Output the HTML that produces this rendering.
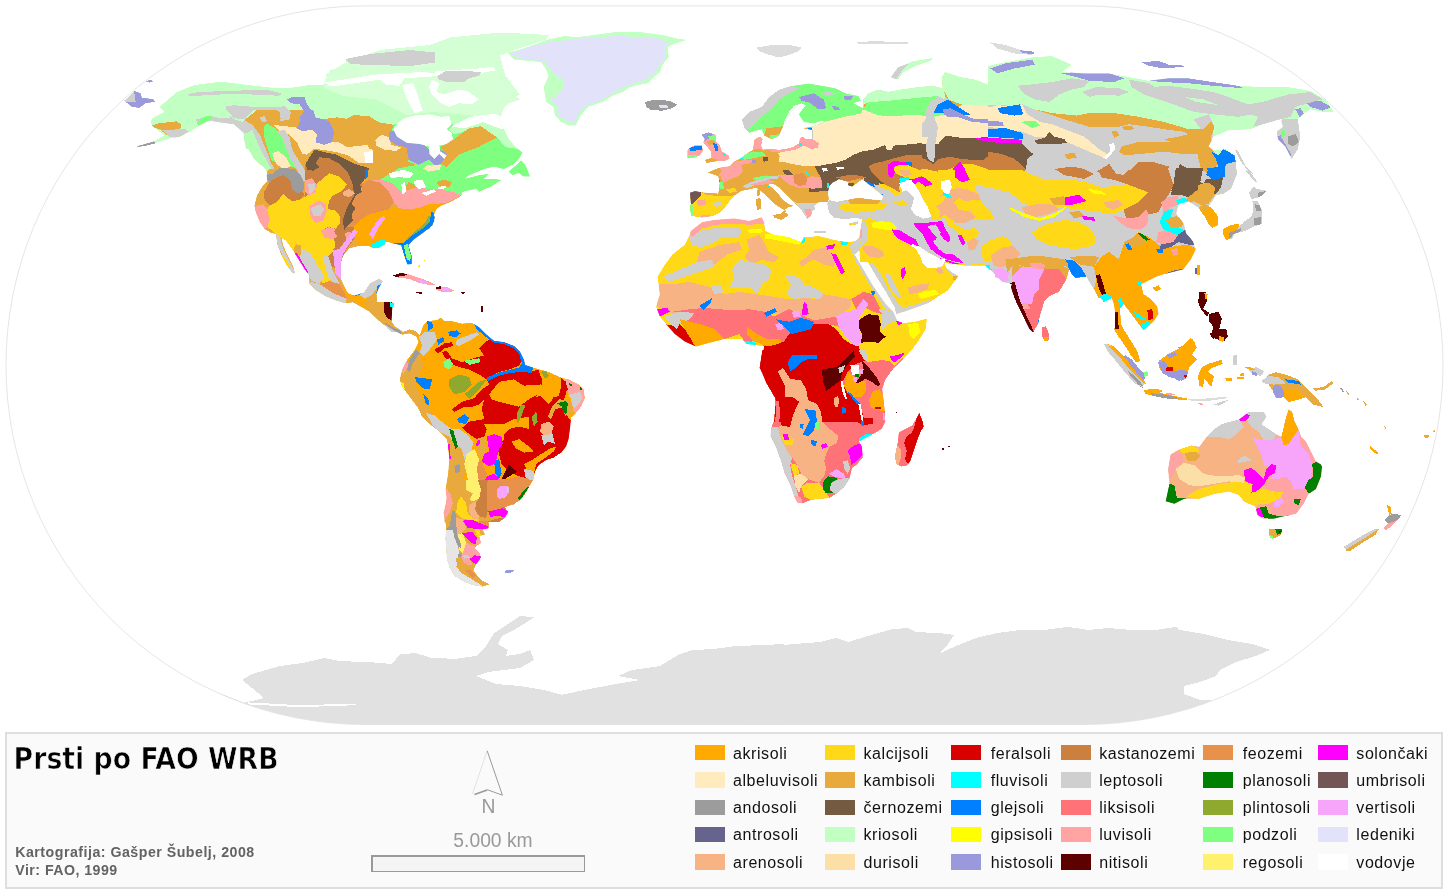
<!DOCTYPE html>
<html lang="sl"><head><meta charset="utf-8"><title>Prsti po FAO WRB</title>
<style>
html,body{margin:0;padding:0;background:#fff;}
body{width:1450px;height:895px;overflow:hidden;position:relative;font-family:"Liberation Sans",sans-serif;}
svg{position:absolute;left:0;top:0;display:block}
.lg{font-size:16px;fill:#111;letter-spacing:.58px}
.t{font-family:"DejaVu Sans Condensed","DejaVu Sans","Liberation Sans",sans-serif;font-weight:bold;font-size:31px;fill:#000;stroke:#fafafa;stroke-width:.7px}
.k{font-weight:bold;font-size:14.2px;fill:#636363}
.g{font-size:19.3px;fill:#999}
</style></head><body>
<svg width="1450" height="895" viewBox="0 0 1450 895" shape-rendering="crispEdges">

<path d="M365.3 5.9 H1083.7 A359.3 359.3 0 0 1 1083.7 724.5 H365.3 A359.3 359.3 0 0 1 365.3 5.9 Z" fill="#fff" stroke="#e2e2e2" stroke-width="0.9" shape-rendering="geometricPrecision"/>
<clipPath id="gc"><path d="M365.3 5.9 H1083.7 A359.3 359.3 0 0 1 1083.7 724.5 H365.3 A359.3 359.3 0 0 1 365.3 5.9 Z"/></clipPath>
<g clip-path="url(#gc)">
<clipPath id="c0"><polygon points="160.6,105.7 176.7,92.0 194.1,85.0 221.4,81.6 248.7,85.0 271.0,87.5 292.1,87.5 308.3,85.0 323.2,85.0 326.9,75.9 340.6,69.7 357.9,69.7 372.8,73.4 390.2,73.4 407.6,70.9 420.0,69.7 420.0,111.9 393.9,113.1 393.9,149.1 246.2,149.1 245.0,144.1 243.7,133.0 233.8,124.3 218.9,122.3 209.0,120.6 199.0,125.5 194.1,129.2 189.1,132.2 179.2,137.2 169.2,138.7 159.3,141.7 154.3,143.4 153.8,141.2 164.3,135.4 158.1,130.5 152.4,126.3 150.6,122.3 152.4,118.1 164.3,111.9 159.3,106.9"/><polygon points="124.1,100.9 134.5,90.8 140.7,93.2 141.9,97.5 153.1,99.0 155.6,101.9 145.7,103.2 139.4,108.1 132.0,106.9"/><polygon points="145.7,81.3 150.6,79.6 153.8,81.3 149.4,82.8"/><polygon points="137.0,146.1 144.4,144.1 154.3,141.2 155.6,143.4 145.7,145.9 137.5,147.1"/><polygon points="330.0,114.3 397.0,124.3 393.3,129.2 397.0,136.7 407.0,142.9 419.4,144.1 429.3,146.6 429.3,154.1 434.3,159.0 439.2,154.1 444.2,159.0 446.7,155.3 440.5,151.6 439.2,145.4 446.7,144.1 452.9,139.2 451.7,133.0 446.7,129.2 451.7,124.3 449.2,115.6 459.1,119.3 469.0,114.3 479.0,111.9 488.9,116.8 498.8,119.3 503.8,129.2 508.8,139.2 515.0,146.6 522.4,152.8 518.7,159.0 513.7,164.0 503.8,169.0 493.9,166.5 483.9,169.0 469.0,175.2 464.1,178.9 479.0,175.2 488.9,173.9 483.9,178.9 493.9,178.9 501.3,180.1 491.4,186.3 479.0,191.8 476.5,188.8 464.1,191.3 459.1,193.8 454.1,198.8 444.2,203.7 436.8,208.7 433.0,216.1 434.3,221.1 429.3,228.6 419.4,233.5 409.4,242.0 330.0,242.0"/><polygon points="508.8,171.4 516.2,165.2 521.2,160.3 526.1,166.5 529.9,176.4 523.7,176.4 518.7,172.7 512.5,175.2"/><polygon points="330.0,69.7 344.9,68.4 359.8,69.7 379.7,72.1 392.1,70.9 404.5,73.4 416.9,70.9 434.3,73.4 439.2,65.9 454.1,62.2 479.0,61.0 491.4,64.7 501.3,77.1 503.8,87.0 513.7,94.5 519.9,99.4 508.8,103.2 503.8,108.1 501.3,114.3 498.8,119.3 488.9,116.8 479.0,111.9 469.0,114.3 459.1,119.3 449.2,115.6 441.7,116.8 429.3,114.3 414.4,115.6 404.5,118.1 397.0,124.3 330.0,124.3"/><polygon points="446.7,54.8 444.2,47.3 449.2,42.3 464.1,39.9 479.0,36.9 503.8,34.9 528.6,34.4 548.5,35.4 546.0,39.9 528.6,44.8 508.8,51.0 503.8,54.8 488.9,53.5 479.0,57.2 469.0,54.8 459.1,57.2"/><polygon points="344.9,61.0 354.8,57.2 374.7,54.8 392.1,52.3 411.9,49.8 429.3,51.0 439.2,54.8 434.3,65.9 416.9,67.2 404.5,63.4 392.1,65.9 374.7,67.2 362.3,64.7 352.3,63.4"/><polygon points="230.0,110.0 230.0,119.9 237.4,124.9 244.9,132.3 247.4,147.2 254.8,159.7 264.8,168.3 267.2,172.1 266.7,175.0 267.2,180.8 261.8,187.0 256.8,195.7 254.3,205.6 256.1,213.0 259.8,221.7 264.8,229.2 271.0,232.9 275.9,234.1 277.2,244.1 280.9,254.0 285.9,263.9 292.1,272.6 295.0,273.4 293.3,266.4 289.6,259.0 285.9,251.5 282.9,244.1 281.6,237.9 285.9,240.3 292.1,249.0 298.3,259.0 304.5,268.9 309.0,275.1 309.4,283.8 315.7,290.0 325.6,296.2 336.8,300.7 345.4,303.2 352.9,302.4 360.3,306.6 369.0,311.6 379.0,321.0 385.2,326.0 391.4,332.0 403.8,332.0 395.1,326.5 391.4,321.0 392.6,308.6 394.4,303.7 391.4,301.7 383.9,301.7 377.0,301.7 376.5,293.7 379.0,287.5 382.7,281.3 379.0,278.8 370.3,283.3 364.1,292.5 354.1,295.7 347.9,293.2 344.2,286.3 341.0,278.8 340.5,263.9 343.7,255.2 349.2,248.5 359.1,246.1 369.0,246.1 372.8,248.0 379.0,247.8 385.2,244.1 385.2,241.1 393.9,243.6 401.3,245.3 403.8,255.2 407.5,264.4 411.7,263.9 411.7,256.0 408.3,245.3 413.7,239.6 423.7,232.2 432.3,225.4 434.8,217.3 432.3,213.0 436.1,209.3 441.0,205.6 446.0,203.8 453.4,200.6 459.7,196.9 462.1,193.9 462.1,184.5 403.8,159.7 329.3,110.0"/></clipPath>
<g clip-path="url(#c0)">
<polygon fill="#C2FFC2" points="160.6,105.7 176.7,92.0 194.1,85.0 221.4,81.6 248.7,85.0 271.0,87.5 292.1,87.5 308.3,85.0 323.2,85.0 326.9,75.9 340.6,69.7 357.9,69.7 372.8,73.4 390.2,73.4 407.6,70.9 420.0,69.7 420.0,111.9 393.9,113.1 393.9,149.1 246.2,149.1 245.0,144.1 243.7,133.0 233.8,124.3 218.9,122.3 209.0,120.6 199.0,125.5 194.1,129.2 189.1,132.2 179.2,137.2 169.2,138.7 159.3,141.7 154.3,143.4 153.8,141.2 164.3,135.4 158.1,130.5 152.4,126.3 150.6,122.3 152.4,118.1 164.3,111.9 159.3,106.9"/>
<polygon fill="#9999DC" points="124.1,100.9 134.5,90.8 140.7,93.2 141.9,97.5 153.1,99.0 155.6,101.9 145.7,103.2 139.4,108.1 132.0,106.9"/>
<polygon fill="#9999DC" points="145.7,81.3 150.6,79.6 153.8,81.3 149.4,82.8"/>
<polygon fill="#9C9C9C" points="137.0,146.1 144.4,144.1 154.3,141.2 155.6,143.4 145.7,145.9 137.5,147.1"/>
<polygon fill="#7FFF7F" points="330.0,114.3 397.0,124.3 393.3,129.2 397.0,136.7 407.0,142.9 419.4,144.1 429.3,146.6 429.3,154.1 434.3,159.0 439.2,154.1 444.2,159.0 446.7,155.3 440.5,151.6 439.2,145.4 446.7,144.1 452.9,139.2 451.7,133.0 446.7,129.2 451.7,124.3 449.2,115.6 459.1,119.3 469.0,114.3 479.0,111.9 488.9,116.8 498.8,119.3 503.8,129.2 508.8,139.2 515.0,146.6 522.4,152.8 518.7,159.0 513.7,164.0 503.8,169.0 493.9,166.5 483.9,169.0 469.0,175.2 464.1,178.9 479.0,175.2 488.9,173.9 483.9,178.9 493.9,178.9 501.3,180.1 491.4,186.3 479.0,191.8 476.5,188.8 464.1,191.3 459.1,193.8 454.1,198.8 444.2,203.7 436.8,208.7 433.0,216.1 434.3,221.1 429.3,228.6 419.4,233.5 409.4,242.0 330.0,242.0"/>
<polygon fill="#7FFF7F" points="508.8,171.4 516.2,165.2 521.2,160.3 526.1,166.5 529.9,176.4 523.7,176.4 518.7,172.7 512.5,175.2"/>
<polygon fill="#C2FFC2" points="330.0,69.7 344.9,68.4 359.8,69.7 379.7,72.1 392.1,70.9 404.5,73.4 416.9,70.9 434.3,73.4 439.2,65.9 454.1,62.2 479.0,61.0 491.4,64.7 501.3,77.1 503.8,87.0 513.7,94.5 519.9,99.4 508.8,103.2 503.8,108.1 501.3,114.3 498.8,119.3 488.9,116.8 479.0,111.9 469.0,114.3 459.1,119.3 449.2,115.6 441.7,116.8 429.3,114.3 414.4,115.6 404.5,118.1 397.0,124.3 330.0,124.3"/>
<polygon fill="#d4ffd4" points="446.7,54.8 444.2,47.3 449.2,42.3 464.1,39.9 479.0,36.9 503.8,34.9 528.6,34.4 548.5,35.4 546.0,39.9 528.6,44.8 508.8,51.0 503.8,54.8 488.9,53.5 479.0,57.2 469.0,54.8 459.1,57.2"/>
<polygon fill="#CFCFCF" points="344.9,61.0 354.8,57.2 374.7,54.8 392.1,52.3 411.9,49.8 429.3,51.0 439.2,54.8 434.3,65.9 416.9,67.2 404.5,63.4 392.1,65.9 374.7,67.2 362.3,64.7 352.3,63.4"/>
<polygon fill="#E8AA3C" points="230.0,110.0 230.0,119.9 237.4,124.9 244.9,132.3 247.4,147.2 254.8,159.7 264.8,168.3 267.2,172.1 266.7,175.0 267.2,180.8 261.8,187.0 256.8,195.7 254.3,205.6 256.1,213.0 259.8,221.7 264.8,229.2 271.0,232.9 275.9,234.1 277.2,244.1 280.9,254.0 285.9,263.9 292.1,272.6 295.0,273.4 293.3,266.4 289.6,259.0 285.9,251.5 282.9,244.1 281.6,237.9 285.9,240.3 292.1,249.0 298.3,259.0 304.5,268.9 309.0,275.1 309.4,283.8 315.7,290.0 325.6,296.2 336.8,300.7 345.4,303.2 352.9,302.4 360.3,306.6 369.0,311.6 379.0,321.0 385.2,326.0 391.4,332.0 403.8,332.0 395.1,326.5 391.4,321.0 392.6,308.6 394.4,303.7 391.4,301.7 383.9,301.7 377.0,301.7 376.5,293.7 379.0,287.5 382.7,281.3 379.0,278.8 370.3,283.3 364.1,292.5 354.1,295.7 347.9,293.2 344.2,286.3 341.0,278.8 340.5,263.9 343.7,255.2 349.2,248.5 359.1,246.1 369.0,246.1 372.8,248.0 379.0,247.8 385.2,244.1 385.2,241.1 393.9,243.6 401.3,245.3 403.8,255.2 407.5,264.4 411.7,263.9 411.7,256.0 408.3,245.3 413.7,239.6 423.7,232.2 432.3,225.4 434.8,217.3 432.3,213.0 436.1,209.3 441.0,205.6 446.0,203.8 453.4,200.6 459.7,196.9 462.1,193.9 462.1,184.5 403.8,159.7 329.3,110.0"/>
<polygon fill="#CFCFCF" points="187.9,94.0 199.0,92.0 233.8,90.8 266.1,89.5 282.2,93.7 278.5,95.7 233.8,93.7 199.0,95.7 189.1,96.5"/>
<polygon fill="#CFCFCF" points="225.8,106.4 233.8,105.2 258.6,107.4 284.7,106.4 290.9,111.9 289.7,119.3 279.7,121.3 282.2,113.1 276.0,109.9 253.7,109.9 233.8,110.6 225.8,108.9"/>
<polygon fill="#CFCFCF" points="195.3,119.8 209.0,115.6 218.9,118.1 233.8,117.6 243.7,121.8 256.1,129.2 266.1,149.1 248.7,149.1 233.8,126.8 218.9,123.0 209.0,121.3 199.0,124.3"/>
<polygon fill="#7FFF7F" points="197.0,123.0 202.8,117.3 210.2,115.6 211.9,118.8 206.5,124.3 199.0,127.3"/>
<polygon fill="#E8AA3C" points="152.4,125.5 159.3,123.0 169.2,122.3 176.7,121.3 180.9,124.3 180.4,129.2 184.1,128.5 176.7,134.7 169.2,136.7 159.3,129.2 153.8,127.3"/>
<polygon fill="#CFCFCF" points="158.1,129.2 169.2,130.5 176.7,129.2 184.1,128.5 189.1,131.7 179.2,136.7 169.2,136.7 164.3,131.7"/>
<polygon fill="#CFCFCF" points="124.1,100.9 134.0,91.3 135.7,101.9 127.0,102.4"/>
<polygon fill="#FFFFFF" points="379.7,75.9 394.6,73.4 404.5,78.3 399.5,85.8 387.1,85.0 380.9,80.8"/>
<polygon fill="#FFFFFF" points="431.8,79.6 439.2,83.3 436.8,92.0 444.2,94.5 459.1,89.5 469.0,92.0 479.0,99.4 471.5,104.4 459.1,103.2 449.2,106.9 439.2,101.9 431.8,94.5 429.3,87.0"/>
<polygon fill="#CFCFCF" points="436.8,75.9 446.7,70.9 464.1,70.9 481.4,72.1 479.0,75.9 469.0,78.3 464.1,82.1 446.7,82.1 439.2,79.6"/>
<polygon fill="#C2FFC2" points="449.2,129.2 459.1,119.3 469.0,114.3 479.0,111.9 488.9,116.8 498.8,119.3 501.3,126.8 508.8,139.2 513.7,146.6 503.8,144.1 498.8,136.7 493.9,131.7 488.9,133.0 481.4,126.8 471.5,128.0 464.1,131.7 454.1,134.2"/>
<polygon fill="#9999DC" points="454.1,120.6 460.3,120.1 460.3,123.8 454.6,124.3"/>
<polygon fill="#C2FFC2" points="311.9,110.0 590.0,110.0 590.0,159.7 503.1,147.2 496.9,137.3 493.2,134.8 480.8,126.1 468.3,128.6 453.4,124.9 446.0,121.2 441.0,124.9 403.8,118.7 393.9,124.9 379.0,122.4 369.0,116.2 354.1,115.0 346.7,118.7 336.8,117.4 316.9,119.9 311.9,115.0"/>
<polygon fill="#7FFF7F" points="380.2,179.5 398.8,168.3 418.7,164.6 441.0,167.1 458.4,154.7 478.3,147.2 496.9,137.3 505.6,147.2 540.3,152.2 540.3,196.9 478.3,199.4 460.9,195.7 453.4,191.9 441.0,189.4 428.6,189.4 418.7,187.0 408.8,182.0 401.3,191.9 393.9,184.5 388.9,182.0"/>
<polygon fill="#E8AA3C" points="439.8,147.2 453.4,139.8 468.3,128.6 480.8,126.1 493.2,134.8 496.9,137.3 478.3,147.2 458.4,154.7 446.0,167.1 441.0,163.4 447.2,154.7"/>
<polygon fill="#C2FFC2" points="480.8,126.1 493.2,121.2 503.1,119.9 527.9,139.8 513.0,143.5 505.6,147.2 496.9,137.3 493.2,134.8"/>
<polygon fill="#E8AA3C" points="331.8,128.6 336.8,117.4 346.7,118.7 354.1,115.0 369.0,116.2 379.0,122.4 393.9,124.9 391.4,131.1 388.9,132.3 388.9,139.8 379.0,142.3 374.0,149.7 369.0,148.5 367.8,144.8 346.7,147.2 339.2,142.3 333.0,137.3"/>
<polygon fill="#E8AA3C" points="369.0,148.5 374.0,149.7 379.0,142.3 388.9,139.8 396.3,144.8 406.3,147.2 408.8,159.7 401.3,164.6 393.9,172.1 381.4,178.3 371.5,175.8 367.8,168.3 371.5,163.4"/>
<polygon fill="#E8AA3C" points="242.4,118.7 252.3,110.0 282.1,110.0 278.4,118.7 273.4,124.9 263.5,127.4 259.8,121.2 252.3,124.9 244.9,122.4"/>
<polygon fill="#CFCFCF" points="259.8,117.4 264.8,116.2 267.2,121.2 262.3,122.4"/>
<polygon fill="#CFCFCF" points="280.9,110.0 289.6,110.0 288.3,117.4 283.4,121.2 279.7,117.4"/>
<polygon fill="#FFEBBE" points="273.4,124.9 295.8,127.4 302.0,131.1 311.9,129.9 316.9,134.8 315.7,142.3 324.3,144.8 331.8,142.3 339.2,142.3 346.7,147.2 367.8,144.8 369.0,148.5 372.8,149.7 371.5,163.4 359.1,163.4 349.2,155.9 336.8,152.2 314.4,148.5 307.0,154.7 302.0,153.4 297.0,142.3 289.6,134.8 279.7,131.1"/>
<polygon fill="#9999DC" points="297.0,128.6 304.5,110.0 313.2,110.0 315.7,117.4 329.3,121.2 334.3,132.3 331.8,142.3 324.3,144.8 315.7,142.3 316.9,134.8 311.9,129.9 302.0,131.1"/>
<polygon fill="#FFEBBE" points="375.2,139.8 381.4,134.8 388.9,137.3 391.4,144.8 401.3,147.2 396.3,151.0 383.9,149.7 376.5,146.0"/>
<polygon fill="#9999DC" points="388.9,132.3 395.1,129.9 401.3,137.3 413.7,139.8 423.7,144.8 431.1,151.0 438.6,147.2 447.2,154.7 441.0,163.4 436.1,165.9 428.6,159.7 418.7,164.6 408.8,159.7 406.3,147.2 396.3,144.8 388.9,139.8"/>
<polygon fill="#FFEBBE" points="422.4,168.3 428.6,164.6 441.0,165.1 439.8,169.6 428.6,171.6"/>
<polygon fill="#E8AA3C" points="436.1,182.0 443.5,179.5 452.2,182.0 449.7,187.0 441.0,187.5"/>
<polygon fill="#7FFF7F" points="263.5,127.4 267.2,123.7 275.9,128.6 283.4,139.8 290.8,152.2 297.0,162.1 295.8,168.3 289.6,165.9 282.1,168.3 277.2,163.4 271.0,159.7 267.2,147.2 263.5,134.8"/>
<polygon fill="#CFCFCF" points="230.0,110.0 239.9,117.4 252.3,124.9 259.8,134.8 267.2,152.2 271.0,163.4 274.7,168.3 267.2,169.6 262.3,159.7 254.8,142.3 247.4,132.3 237.4,124.9 230.0,123.7"/>
<polygon fill="#CFCFCF" points="277.2,131.1 284.6,129.9 289.6,137.3 292.1,149.7 298.3,159.7 304.5,169.6 307.0,179.5 302.0,182.0 297.0,169.6 290.8,159.7 285.9,147.2 282.1,137.3"/>
<polygon fill="#FFEBBE" points="272.2,153.4 278.4,151.0 285.9,157.2 290.8,165.9 283.4,169.6 275.9,163.4"/>
<polygon fill="#b5ffb5" points="230.0,124.9 246.1,133.6 252.3,129.9 257.3,142.3 264.8,157.2 271.0,168.3 267.2,170.8 254.8,169.6 230.0,134.8"/>
<polygon fill="#FFA3A3" points="252.3,206.8 263.5,204.3 267.2,209.3 269.7,219.2 267.2,227.9 262.3,229.2 254.8,221.7"/>
<polygon fill="#CC8040" points="263.5,193.2 269.7,182.0 279.7,175.0 290.8,172.1 297.0,178.3 299.5,188.2 304.5,194.4 300.8,199.4 292.1,201.4 283.4,194.4 275.9,202.4 269.7,205.6 264.8,200.6"/>
<polygon fill="#9C9C9C" points="266.0,175.0 273.4,173.3 279.7,167.6 294.6,169.1 300.8,175.0 304.5,184.5 303.2,191.9 297.0,193.2 292.1,189.4 290.8,180.8 283.4,175.0 274.7,178.3 271.0,182.0 266.7,179.5"/>
<polygon fill="#CC8040" points="304.5,165.1 315.7,153.4 334.3,155.9 346.7,159.7 354.1,168.3 359.1,177.0 362.8,184.5 360.3,191.9 355.4,195.7 354.1,209.3 359.1,226.7 354.1,239.1 346.7,249.0 341.7,259.0 340.5,268.9 335.5,268.9 330.6,265.2 325.6,259.0 324.3,249.0 314.4,239.1 304.5,209.3 304.5,184.5"/>
<polygon fill="#FFD817" points="269.7,205.6 275.9,202.4 283.4,194.4 292.1,201.4 300.8,199.4 307.0,195.7 315.7,184.5 329.3,173.3 339.2,176.5 346.7,184.5 341.7,191.4 333.0,195.7 329.3,199.9 327.6,209.3 334.3,209.8 339.2,214.3 340.5,223.0 335.5,228.7 328.1,226.7 324.3,229.2 328.1,234.1 334.3,239.1 335.5,247.8 330.6,254.0 325.6,259.0 330.6,265.2 333.0,271.4 329.3,281.3 323.1,283.8 316.9,271.4 310.7,262.7 304.5,258.5 300.8,251.5 300.8,245.3 295.8,244.1 293.3,250.3 288.3,245.3 280.9,237.9 274.7,232.9 267.2,226.7 269.7,219.2 267.2,209.3"/>
<polygon fill="#735A41" points="305.7,163.4 314.4,149.7 324.3,152.2 336.8,154.7 354.1,163.4 369.0,168.3 365.3,178.3 360.3,184.5 361.6,191.9 355.4,195.7 351.7,204.3 355.4,208.1 351.7,214.3 352.9,220.5 346.7,226.7 343.0,231.7 343.0,219.2 346.7,208.1 354.1,195.7 352.9,184.5 347.9,172.1 339.2,163.4 329.3,158.4 319.4,157.2 315.7,163.4 319.4,167.1 313.2,170.8 307.0,169.6"/>
<polygon fill="#E8914A" points="361.6,184.5 369.0,179.5 379.0,182.0 388.9,191.9 393.9,201.9 388.9,209.3 379.0,211.8 369.0,214.3 361.6,219.2 354.1,226.7 346.7,226.7 352.9,220.5 351.7,214.3 355.4,208.1 351.7,204.3 355.4,195.7 361.6,191.9"/>
<polygon fill="#FFAA00" points="354.1,226.7 361.6,219.2 369.0,214.3 379.0,211.8 393.9,208.1 408.8,209.3 428.6,204.3 441.0,203.1 453.4,200.6 465.9,204.3 441.0,229.2 413.7,249.0 391.4,249.0 379.0,249.0 369.0,249.0 359.1,246.6 352.9,234.1"/>
<polygon fill="#FFA3A3" points="369.0,180.8 381.4,179.5 393.9,184.5 401.3,191.9 418.7,187.0 428.6,189.4 441.0,189.4 453.4,191.9 460.9,195.7 446.0,203.1 428.6,204.3 418.7,208.1 408.8,209.3 398.8,208.1 393.9,201.9 388.9,191.9 379.0,182.0"/>
<polygon fill="#FFFFFF" points="388.9,173.3 403.8,169.6 413.7,173.3 408.8,178.3 398.8,177.0 391.4,178.3"/>
<polygon fill="#FFFFFF" points="401.3,184.5 405.0,182.0 406.3,191.9 402.6,194.4"/>
<polygon fill="#FFFFFF" points="413.7,180.8 422.4,179.5 426.1,187.0 418.7,189.4 415.0,185.7"/>
<polygon fill="#FFFFFF" points="421.2,193.2 433.6,189.4 436.1,191.4 426.1,195.7"/>
<polygon fill="#FFFFFF" points="437.3,187.0 446.0,185.7 446.0,188.2 438.6,189.4"/>
<polygon fill="#FFFFFF" points="364.1,152.2 372.8,151.0 372.8,163.4 365.3,163.4"/>
<polygon fill="#007FFF" points="365.3,169.6 368.5,168.3 367.8,177.0 364.6,179.5"/>
<polygon fill="#FFA3A3" points="304.5,180.8 311.9,178.3 316.9,184.5 315.7,191.9 309.4,195.7 304.5,190.7"/>
<polygon fill="#CFCFCF" points="308.2,184.5 314.4,183.2 315.7,189.4 309.4,194.4"/>
<polygon fill="#FFA3A3" points="309.4,205.6 319.4,200.6 325.6,204.3 326.8,211.8 323.1,220.5 315.7,223.0 310.7,216.8"/>
<polygon fill="#CFCFCF" points="310.7,208.1 320.6,204.3 324.3,209.3 320.6,215.5 313.2,215.5"/>
<polygon fill="#FFA3A3" points="320.6,230.4 329.3,227.2 336.8,229.2 339.2,235.4 333.0,239.1 324.3,237.9"/>
<polygon fill="#F7B384" points="343.0,191.9 349.2,189.0 355.4,193.2 349.2,196.9 343.7,195.7"/>
<polygon fill="#FFA3A3" points="341.7,234.1 349.2,231.7 354.1,234.1 351.7,241.6 344.2,242.8"/>
<polygon fill="#F7A5FA" points="333.0,250.3 339.2,249.0 346.7,239.1 354.1,229.2 357.9,231.7 349.2,244.1 343.0,254.0 340.5,263.9 340.5,278.8 335.5,273.9 334.3,263.9"/>
<polygon fill="#F7A5FA" points="369.0,234.1 376.5,221.7 383.9,215.5 385.2,219.2 379.0,226.7 372.8,239.1"/>
<polygon fill="#00FFFF" points="371.5,244.1 379.0,240.3 385.2,240.3 383.9,249.0 372.8,249.0"/>
<polygon fill="#7fb060" points="428.6,215.5 431.6,216.8 428.6,224.2 418.7,231.7 408.8,239.1 405.0,240.3 415.0,231.7 424.9,223.0"/>
<polygon fill="#007FFF" points="431.1,211.8 438.6,214.3 434.8,226.7 423.7,234.1 413.7,241.6 408.8,245.3 412.5,259.0 413.7,266.4 407.5,266.4 403.8,254.0 401.3,246.6 391.4,246.6 392.6,242.8 403.8,242.8 412.5,235.4 423.7,227.9 429.9,221.7"/>
<polygon fill="#7FFF7F" points="403.8,245.3 407.5,244.1 411.2,256.5 410.0,261.4 406.8,259.0 405.0,251.5"/>
<polygon fill="#CFCFCF" points="302.0,249.0 309.4,251.5 316.9,263.9 324.3,276.3 319.4,283.8 311.9,281.3 304.5,271.4 299.5,259.0"/>
<polygon fill="#CFCFCF" points="323.1,256.5 328.1,255.2 333.0,271.4 339.2,283.8 334.3,283.8 329.3,278.8 325.6,268.9"/>
<polygon fill="#CFCFCF" points="307.0,281.3 319.4,283.8 334.3,293.7 346.7,298.7 345.4,304.9 334.3,302.4 321.9,297.4 309.4,291.2"/>
<polygon fill="#E8914A" points="319.4,283.8 329.3,281.3 339.2,283.8 344.2,292.5 346.7,298.7 334.3,293.7"/>
<polygon fill="#FFAA00" points="343.0,283.8 346.7,288.8 354.1,296.2 364.1,293.7 369.0,298.7 376.5,301.2 383.9,303.7 383.9,321.0 388.9,326.0 381.4,321.0 371.5,311.1 361.6,306.1 351.7,299.9 345.4,295.0"/>
<polygon fill="#CFCFCF" points="359.1,295.0 369.0,283.8 379.0,276.3 385.2,281.3 376.5,288.8 371.5,295.0 365.3,298.7"/>
<polygon fill="#E8AA3C" points="365.3,298.7 371.5,295.0 376.5,292.5 376.5,301.2 383.9,303.7 369.0,303.7"/>
<polygon fill="#007FFF" points="349.2,292.5 360.3,291.2 361.6,294.2 354.1,296.2"/>
<polygon fill="#007FFF" points="376.5,286.3 381.4,283.8 380.2,290.0 376.5,292.5"/>
<polygon fill="#E8AA3C" points="364.1,301.2 379.0,302.4 385.2,306.1 385.2,321.0 390.1,326.0 381.4,322.3 374.0,313.6 365.3,307.4"/>
<polygon fill="#5C0000" points="384.4,301.7 391.9,301.7 392.4,308.6 391.9,321.0 386.4,317.3 383.9,311.1"/>
<polygon fill="#00FFFF" points="390.1,302.4 395.1,303.2 393.9,307.4 390.1,307.4"/>
<polygon fill="#CFCFCF" points="385.2,324.8 393.9,326.0 406.3,332.0 388.9,332.0"/>
<polygon fill="#CFCFCF" points="274.7,232.9 279.7,236.6 283.4,249.0 290.8,263.9 295.8,273.9 290.8,272.6 284.6,259.0 278.4,246.6"/>
<polygon fill="#FFD817" points="277.2,254.0 283.4,255.2 289.6,265.2 290.8,270.1 285.9,265.2"/>
<polygon fill="#FF00FF" points="293.3,254.0 297.0,252.8 303.2,263.9 309.0,273.4 305.7,272.6 299.5,265.2"/>
</g>
<g>
<polygon fill="#FFA3A3" points="392.6,275.8 401.3,272.6 408.8,274.4 416.2,276.8 428.6,281.3 436.1,285.0 428.6,285.0 418.7,282.6 408.8,278.8 398.8,277.6"/>
<polygon fill="#5C0000" points="392.6,275.8 401.3,272.6 407.5,274.4 403.8,275.8 396.3,276.8"/>
<polygon fill="#F7A5FA" points="415.0,278.8 426.1,281.3 431.1,284.3 421.2,283.3"/>
<polygon fill="#FFA3A3" points="436.1,286.8 448.5,287.5 454.7,291.2 443.5,292.5 436.1,290.0"/>
<polygon fill="#5C0000" points="436.1,286.8 441.0,286.3 440.5,289.3 436.6,289.3"/>
<polygon fill="#F7A5FA" points="441.0,287.8 448.5,287.8 449.7,290.7 442.3,290.7"/>
<polygon fill="#5C0000" points="416.2,292.5 422.4,292.0 421.2,294.2"/>
<polygon fill="#5C0000" points="459.7,292.0 464.6,292.5 463.4,294.2"/>
<polygon fill="#FFD817" points="417.4,265.9 419.9,265.2 419.4,267.9"/>
<polygon fill="#FFD817" points="423.2,260.0 425.1,259.5 424.9,261.9"/>
<polygon fill="#5C0000" points="481.3,306.1 482.7,306.1 482.7,312.3 481.3,312.3"/>
</g>
<g>
<polygon fill="#d4ffd4" points="325.0,75.0 350.0,60.0 380.0,50.0 430.0,45.0 450.0,37.5 500.0,32.5 550.0,35.0 530.0,45.0 500.0,55.0 505.0,75.0 520.0,95.0 500.0,100.0 450.0,100.0 400.0,95.0 350.0,90.0"/>
<polygon fill="#CFCFCF" points="345.0,59.0 370.0,54.0 410.0,50.0 435.0,52.5 435.0,62.5 410.0,66.0 370.0,65.0 350.0,64.0"/>
<polygon fill="#CFCFCF" points="435.0,75.0 460.0,71.0 480.0,74.0 470.0,80.0 445.0,82.5"/>
<polygon fill="#FFFFFF" points="377.5,75.0 400.0,74.0 402.5,82.5 385.0,85.0"/>
<polygon fill="#FFFFFF" points="430.0,85.0 450.0,80.0 460.0,90.0 475.0,92.5 470.0,102.5 450.0,105.0 435.0,97.5"/>
</g>
<clipPath id="c3"><polygon points="160.6,105.7 176.7,92.0 194.1,85.0 221.4,81.6 248.7,85.0 271.0,87.5 292.1,87.5 308.3,85.0 323.2,85.0 326.9,75.9 340.6,69.7 357.9,69.7 372.8,73.4 390.2,73.4 407.6,70.9 420.0,69.7 420.0,111.9 393.9,113.1 393.9,149.1 246.2,149.1 245.0,144.1 243.7,133.0 233.8,124.3 218.9,122.3 209.0,120.6 199.0,125.5 194.1,129.2 189.1,132.2 179.2,137.2 169.2,138.7 159.3,141.7 154.3,143.4 153.8,141.2 164.3,135.4 158.1,130.5 152.4,126.3 150.6,122.3 152.4,118.1 164.3,111.9 159.3,106.9"/><polygon points="124.1,100.9 134.5,90.8 140.7,93.2 141.9,97.5 153.1,99.0 155.6,101.9 145.7,103.2 139.4,108.1 132.0,106.9"/><polygon points="145.7,81.3 150.6,79.6 153.8,81.3 149.4,82.8"/><polygon points="137.0,146.1 144.4,144.1 154.3,141.2 155.6,143.4 145.7,145.9 137.5,147.1"/><polygon points="330.0,114.3 397.0,124.3 393.3,129.2 397.0,136.7 407.0,142.9 419.4,144.1 429.3,146.6 429.3,154.1 434.3,159.0 439.2,154.1 444.2,159.0 446.7,155.3 440.5,151.6 439.2,145.4 446.7,144.1 452.9,139.2 451.7,133.0 446.7,129.2 451.7,124.3 449.2,115.6 459.1,119.3 469.0,114.3 479.0,111.9 488.9,116.8 498.8,119.3 503.8,129.2 508.8,139.2 515.0,146.6 522.4,152.8 518.7,159.0 513.7,164.0 503.8,169.0 493.9,166.5 483.9,169.0 469.0,175.2 464.1,178.9 479.0,175.2 488.9,173.9 483.9,178.9 493.9,178.9 501.3,180.1 491.4,186.3 479.0,191.8 476.5,188.8 464.1,191.3 459.1,193.8 454.1,198.8 444.2,203.7 436.8,208.7 433.0,216.1 434.3,221.1 429.3,228.6 419.4,233.5 409.4,242.0 330.0,242.0"/><polygon points="508.8,171.4 516.2,165.2 521.2,160.3 526.1,166.5 529.9,176.4 523.7,176.4 518.7,172.7 512.5,175.2"/><polygon points="330.0,69.7 344.9,68.4 359.8,69.7 379.7,72.1 392.1,70.9 404.5,73.4 416.9,70.9 434.3,73.4 439.2,65.9 454.1,62.2 479.0,61.0 491.4,64.7 501.3,77.1 503.8,87.0 513.7,94.5 519.9,99.4 508.8,103.2 503.8,108.1 501.3,114.3 498.8,119.3 488.9,116.8 479.0,111.9 469.0,114.3 459.1,119.3 449.2,115.6 441.7,116.8 429.3,114.3 414.4,115.6 404.5,118.1 397.0,124.3 330.0,124.3"/><polygon points="446.7,54.8 444.2,47.3 449.2,42.3 464.1,39.9 479.0,36.9 503.8,34.9 528.6,34.4 548.5,35.4 546.0,39.9 528.6,44.8 508.8,51.0 503.8,54.8 488.9,53.5 479.0,57.2 469.0,54.8 459.1,57.2"/><polygon points="344.9,61.0 354.8,57.2 374.7,54.8 392.1,52.3 411.9,49.8 429.3,51.0 439.2,54.8 434.3,65.9 416.9,67.2 404.5,63.4 392.1,65.9 374.7,67.2 362.3,64.7 352.3,63.4"/><polygon points="230.0,110.0 230.0,119.9 237.4,124.9 244.9,132.3 247.4,147.2 254.8,159.7 264.8,168.3 267.2,172.1 266.7,175.0 267.2,180.8 261.8,187.0 256.8,195.7 254.3,205.6 256.1,213.0 259.8,221.7 264.8,229.2 271.0,232.9 275.9,234.1 277.2,244.1 280.9,254.0 285.9,263.9 292.1,272.6 295.0,273.4 293.3,266.4 289.6,259.0 285.9,251.5 282.9,244.1 281.6,237.9 285.9,240.3 292.1,249.0 298.3,259.0 304.5,268.9 309.0,275.1 309.4,283.8 315.7,290.0 325.6,296.2 336.8,300.7 345.4,303.2 352.9,302.4 360.3,306.6 369.0,311.6 379.0,321.0 385.2,326.0 391.4,332.0 403.8,332.0 395.1,326.5 391.4,321.0 392.6,308.6 394.4,303.7 391.4,301.7 383.9,301.7 377.0,301.7 376.5,293.7 379.0,287.5 382.7,281.3 379.0,278.8 370.3,283.3 364.1,292.5 354.1,295.7 347.9,293.2 344.2,286.3 341.0,278.8 340.5,263.9 343.7,255.2 349.2,248.5 359.1,246.1 369.0,246.1 372.8,248.0 379.0,247.8 385.2,244.1 385.2,241.1 393.9,243.6 401.3,245.3 403.8,255.2 407.5,264.4 411.7,263.9 411.7,256.0 408.3,245.3 413.7,239.6 423.7,232.2 432.3,225.4 434.8,217.3 432.3,213.0 436.1,209.3 441.0,205.6 446.0,203.8 453.4,200.6 459.7,196.9 462.1,193.9 462.1,184.5 403.8,159.7 329.3,110.0"/></clipPath>
<g clip-path="url(#c3)">
<polygon fill="#C2FFC2" points="226.3,106.9 257.4,106.9 256.1,110.6 242.5,121.8 233.8,119.3 228.8,114.3"/>
<polygon fill="#CFCFCF" points="225.8,106.4 233.8,105.2 258.6,107.4 284.7,106.4 290.9,111.9 289.7,119.3 279.7,121.3 282.2,113.1 276.0,109.9 253.7,109.9 243.7,119.3 233.8,118.1 225.8,108.9"/>
<polygon fill="#9999DC" points="287.2,99.4 293.4,96.5 304.6,97.5 307.0,104.4 312.0,110.6 315.7,118.1 298.3,119.3 302.1,114.3 304.6,111.9 299.6,104.4 290.9,103.2"/>
<polygon fill="#CC8040" points="328.1,209.3 344.2,208.1 343.0,219.2 344.2,231.7 346.7,239.1 341.7,249.0 336.8,259.0 333.0,250.3 339.2,239.1 334.3,231.7 335.5,228.7 340.5,223.0 339.2,214.3 334.3,209.8"/>
<polygon fill="#F7A5FA" points="333.0,250.3 339.2,249.0 346.7,239.1 354.1,229.2 357.9,231.7 349.2,244.1 343.0,254.0 340.5,263.9 340.5,278.8 335.5,273.9 334.3,263.9"/>
</g>
<clipPath id="c4"><polygon points="160.6,105.7 176.7,92.0 194.1,85.0 221.4,81.6 248.7,85.0 271.0,87.5 292.1,87.5 308.3,85.0 323.2,85.0 326.9,75.9 340.6,69.7 357.9,69.7 372.8,73.4 390.2,73.4 407.6,70.9 420.0,69.7 420.0,111.9 393.9,113.1 393.9,149.1 246.2,149.1 245.0,144.1 243.7,133.0 233.8,124.3 218.9,122.3 209.0,120.6 199.0,125.5 194.1,129.2 189.1,132.2 179.2,137.2 169.2,138.7 159.3,141.7 154.3,143.4 153.8,141.2 164.3,135.4 158.1,130.5 152.4,126.3 150.6,122.3 152.4,118.1 164.3,111.9 159.3,106.9"/><polygon points="124.1,100.9 134.5,90.8 140.7,93.2 141.9,97.5 153.1,99.0 155.6,101.9 145.7,103.2 139.4,108.1 132.0,106.9"/><polygon points="145.7,81.3 150.6,79.6 153.8,81.3 149.4,82.8"/><polygon points="137.0,146.1 144.4,144.1 154.3,141.2 155.6,143.4 145.7,145.9 137.5,147.1"/><polygon points="330.0,114.3 397.0,124.3 393.3,129.2 397.0,136.7 407.0,142.9 419.4,144.1 429.3,146.6 429.3,154.1 434.3,159.0 439.2,154.1 444.2,159.0 446.7,155.3 440.5,151.6 439.2,145.4 446.7,144.1 452.9,139.2 451.7,133.0 446.7,129.2 451.7,124.3 449.2,115.6 459.1,119.3 469.0,114.3 479.0,111.9 488.9,116.8 498.8,119.3 503.8,129.2 508.8,139.2 515.0,146.6 522.4,152.8 518.7,159.0 513.7,164.0 503.8,169.0 493.9,166.5 483.9,169.0 469.0,175.2 464.1,178.9 479.0,175.2 488.9,173.9 483.9,178.9 493.9,178.9 501.3,180.1 491.4,186.3 479.0,191.8 476.5,188.8 464.1,191.3 459.1,193.8 454.1,198.8 444.2,203.7 436.8,208.7 433.0,216.1 434.3,221.1 429.3,228.6 419.4,233.5 409.4,242.0 330.0,242.0"/><polygon points="508.8,171.4 516.2,165.2 521.2,160.3 526.1,166.5 529.9,176.4 523.7,176.4 518.7,172.7 512.5,175.2"/><polygon points="330.0,69.7 344.9,68.4 359.8,69.7 379.7,72.1 392.1,70.9 404.5,73.4 416.9,70.9 434.3,73.4 439.2,65.9 454.1,62.2 479.0,61.0 491.4,64.7 501.3,77.1 503.8,87.0 513.7,94.5 519.9,99.4 508.8,103.2 503.8,108.1 501.3,114.3 498.8,119.3 488.9,116.8 479.0,111.9 469.0,114.3 459.1,119.3 449.2,115.6 441.7,116.8 429.3,114.3 414.4,115.6 404.5,118.1 397.0,124.3 330.0,124.3"/><polygon points="446.7,54.8 444.2,47.3 449.2,42.3 464.1,39.9 479.0,36.9 503.8,34.9 528.6,34.4 548.5,35.4 546.0,39.9 528.6,44.8 508.8,51.0 503.8,54.8 488.9,53.5 479.0,57.2 469.0,54.8 459.1,57.2"/><polygon points="344.9,61.0 354.8,57.2 374.7,54.8 392.1,52.3 411.9,49.8 429.3,51.0 439.2,54.8 434.3,65.9 416.9,67.2 404.5,63.4 392.1,65.9 374.7,67.2 362.3,64.7 352.3,63.4"/><polygon points="230.0,110.0 230.0,119.9 237.4,124.9 244.9,132.3 247.4,147.2 254.8,159.7 264.8,168.3 267.2,172.1 266.7,175.0 267.2,180.8 261.8,187.0 256.8,195.7 254.3,205.6 256.1,213.0 259.8,221.7 264.8,229.2 271.0,232.9 275.9,234.1 277.2,244.1 280.9,254.0 285.9,263.9 292.1,272.6 295.0,273.4 293.3,266.4 289.6,259.0 285.9,251.5 282.9,244.1 281.6,237.9 285.9,240.3 292.1,249.0 298.3,259.0 304.5,268.9 309.0,275.1 309.4,283.8 315.7,290.0 325.6,296.2 336.8,300.7 345.4,303.2 352.9,302.4 360.3,306.6 369.0,311.6 379.0,321.0 385.2,326.0 391.4,332.0 403.8,332.0 395.1,326.5 391.4,321.0 392.6,308.6 394.4,303.7 391.4,301.7 383.9,301.7 377.0,301.7 376.5,293.7 379.0,287.5 382.7,281.3 379.0,278.8 370.3,283.3 364.1,292.5 354.1,295.7 347.9,293.2 344.2,286.3 341.0,278.8 340.5,263.9 343.7,255.2 349.2,248.5 359.1,246.1 369.0,246.1 372.8,248.0 379.0,247.8 385.2,244.1 385.2,241.1 393.9,243.6 401.3,245.3 403.8,255.2 407.5,264.4 411.7,263.9 411.7,256.0 408.3,245.3 413.7,239.6 423.7,232.2 432.3,225.4 434.8,217.3 432.3,213.0 436.1,209.3 441.0,205.6 446.0,203.8 453.4,200.6 459.7,196.9 462.1,193.9 462.1,184.5 403.8,159.7 329.3,110.0"/></clipPath>
<g clip-path="url(#c4)">
<polygon fill="#d6ffd6" points="321.2,77.1 375.2,67.6 438.6,64.4 502.1,61.2 524.3,96.1 502.1,124.7 470.3,115.2 432.3,112.0 406.9,115.2 375.2,99.3 343.4,96.1 324.4,88.2"/>
<polygon fill="#FFFFFF" points="324.4,82.5 375.2,74.6 432.3,71.4 483.0,68.2 502.1,65.0 502.1,69.2 483.0,72.7 432.3,76.5 375.2,80.3 330.8,86.6"/>
<polygon fill="#FFFFFF" points="402.1,85.0 413.2,82.8 422.8,110.4 414.8,113.6 406.9,99.3"/>
<polygon fill="#FFFFFF" points="451.3,126.3 470.3,116.8 495.7,113.6 514.8,124.7 502.1,129.4 483.0,122.2 464.0,128.5"/>
<polygon fill="#FFFFFF" points="379.7,75.9 394.6,73.4 404.5,78.3 399.5,85.8 387.1,85.0 380.9,80.8"/>
<polygon fill="#FFFFFF" points="431.8,79.6 439.2,83.3 436.8,92.0 444.2,94.5 459.1,89.5 469.0,92.0 479.0,99.4 471.5,104.4 459.1,103.2 449.2,106.9 439.2,101.9 431.8,94.5 429.3,87.0"/>
<polygon fill="#CFCFCF" points="436.8,75.9 446.7,70.9 464.1,70.9 481.4,72.1 479.0,75.9 469.0,78.3 464.1,82.1 446.7,82.1 439.2,79.6"/>
</g>
<clipPath id="c5"><polygon points="394.8,326.1 402.3,332.3 409.7,329.3 415.9,331.0 419.7,334.8 423.4,324.8 427.1,321.1 437.0,319.9 440.8,317.4 444.5,321.1 451.9,321.1 461.9,323.6 471.8,322.8 479.2,327.3 486.7,334.8 494.1,341.0 504.1,342.2 514.0,345.9 520.2,352.1 523.9,359.6 525.2,365.0 531.4,367.0 538.8,369.0 548.8,372.0 558.7,377.0 568.6,379.4 578.6,384.4 583.5,389.4 584.8,398.1 581.0,406.8 576.1,413.0 571.1,417.9 569.9,429.1 568.6,439.0 566.1,446.5 561.2,452.7 553.7,457.7 546.3,460.1 538.8,465.1 535.1,471.3 533.9,478.8 528.9,487.4 523.9,496.1 519.0,501.1 511.5,504.8 505.3,507.3 507.8,513.5 504.1,518.5 499.1,522.0 444.5,522.0 444.5,511.0 447.0,498.6 445.7,488.7 448.2,473.8 449.4,458.9 448.2,449.0 447.0,439.0 439.5,431.6 429.6,424.1 422.1,416.7 417.2,406.8 409.7,396.8 402.3,386.9 399.8,379.4 402.3,369.5 407.2,359.6 414.7,349.7 418.4,342.2 415.9,334.8 409.7,332.3 402.3,334.8 394.8,331.0"/><polygon points="370.0,305.0 379.9,307.4 384.9,319.9 394.8,326.1 402.3,332.3 409.7,329.3 415.9,331.0 419.7,334.8 417.2,337.2 409.7,333.5 402.3,334.8 394.8,331.0 387.4,326.1 382.4,319.9 375.0,312.4 370.0,309.9"/><polygon points="447.0,480.0 447.9,489.9 446.2,503.2 443.7,513.1 445.4,523.0 446.2,529.7 445.4,537.9 446.2,549.5 447.0,559.4 449.5,567.7 454.5,576.0 462.8,581.0 472.7,585.1 482.6,586.8 490.1,584.3 482.6,581.0 477.7,576.0 473.5,570.2 476.0,564.4 481.0,557.8 479.3,552.8 474.3,547.9 481.0,542.9 479.3,536.3 485.1,534.6 482.6,529.7 489.2,528.0 488.4,521.4 495.9,518.9 505.0,517.2 508.3,511.4 502.5,508.1 500.8,503.2 514.1,504.8 519.0,496.6 525.7,489.9 529.8,485.0 533.1,480.0"/></clipPath>
<g clip-path="url(#c5)">
<polygon fill="#FFAA00" points="394.8,326.1 402.3,332.3 409.7,329.3 415.9,331.0 419.7,334.8 423.4,324.8 427.1,321.1 437.0,319.9 440.8,317.4 444.5,321.1 451.9,321.1 461.9,323.6 471.8,322.8 479.2,327.3 486.7,334.8 494.1,341.0 504.1,342.2 514.0,345.9 520.2,352.1 523.9,359.6 525.2,365.0 531.4,367.0 538.8,369.0 548.8,372.0 558.7,377.0 568.6,379.4 578.6,384.4 583.5,389.4 584.8,398.1 581.0,406.8 576.1,413.0 571.1,417.9 569.9,429.1 568.6,439.0 566.1,446.5 561.2,452.7 553.7,457.7 546.3,460.1 538.8,465.1 535.1,471.3 533.9,478.8 528.9,487.4 523.9,496.1 519.0,501.1 511.5,504.8 505.3,507.3 507.8,513.5 504.1,518.5 499.1,522.0 444.5,522.0 444.5,511.0 447.0,498.6 445.7,488.7 448.2,473.8 449.4,458.9 448.2,449.0 447.0,439.0 439.5,431.6 429.6,424.1 422.1,416.7 417.2,406.8 409.7,396.8 402.3,386.9 399.8,379.4 402.3,369.5 407.2,359.6 414.7,349.7 418.4,342.2 415.9,334.8 409.7,332.3 402.3,334.8 394.8,331.0"/>
<polygon fill="#E8AA3C" points="370.0,305.0 379.9,307.4 384.9,319.9 394.8,326.1 402.3,332.3 409.7,329.3 415.9,331.0 419.7,334.8 417.2,337.2 409.7,333.5 402.3,334.8 394.8,331.0 387.4,326.1 382.4,319.9 375.0,312.4 370.0,309.9"/>
<polygon fill="#9C9C9C" points="384.9,322.3 394.8,328.6 402.3,331.0 399.8,334.8 392.3,331.0 386.1,326.1"/>
<polygon fill="#5C0000" points="383.7,302.5 391.1,302.5 392.3,309.9 389.9,319.9 386.1,314.9"/>
<polygon fill="#00FFFF" points="389.9,303.0 394.8,303.7 393.6,307.4 390.4,307.4"/>
<polygon fill="#E8AA3C" points="402.3,369.5 409.7,359.6 419.7,354.6 423.4,364.6 419.7,374.5 414.7,384.4 419.7,394.3 429.6,409.2 434.6,416.7 444.5,424.1 449.4,436.6 454.4,444.0 451.9,449.0 448.2,449.0 447.0,439.0 439.5,431.6 429.6,424.1 422.1,416.7 417.2,406.8 409.7,396.8 402.3,386.9 394.8,379.4"/>
<polygon fill="#E8AA3C" points="444.5,449.0 451.9,444.0 461.9,449.0 464.3,458.9 469.3,463.9 464.3,473.8 461.9,488.7 455.7,498.6 454.4,513.5 444.5,522.0 439.5,511.0 442.0,498.6 440.8,488.7 443.2,473.8 444.5,458.9"/>
<polygon fill="#D90000" points="479.2,348.4 486.7,341.0 494.1,337.2 504.1,342.2 514.0,345.9 520.2,352.1 522.7,359.6 519.0,365.8 509.0,369.5 499.1,372.0 491.7,375.7 486.7,379.4 479.2,374.5 469.3,369.5 459.4,367.0 451.9,364.6 444.5,357.1 442.0,352.1 447.0,350.9 451.9,358.3 461.9,362.1 476.8,357.1 484.2,355.9"/>
<polygon fill="#D90000" points="434.6,349.7 444.5,343.4 451.9,342.2 453.2,345.9 444.5,348.4 438.3,353.4"/>
<polygon fill="#D90000" points="486.7,379.4 499.1,374.5 514.0,370.8 528.9,372.0 538.8,369.5 541.3,377.0 548.8,379.4 553.7,374.5 561.2,377.0 562.4,386.9 566.1,394.3 561.2,404.3 563.7,411.7 569.9,419.2 576.1,424.1 576.1,449.0 561.2,452.7 553.7,457.7 546.3,460.1 538.8,465.1 533.9,473.8 528.9,478.8 519.0,476.3 509.0,471.3 501.6,463.9 499.1,453.9 496.6,446.5 504.1,439.0 504.1,429.1 494.1,426.6 486.7,429.1 484.2,436.6 476.8,439.0 469.3,434.1 461.9,427.9 469.3,421.7 484.2,419.2 481.7,409.2 484.2,399.3 479.2,404.3 471.8,406.8 464.3,406.8 454.4,411.7 451.9,409.2 461.9,401.8 474.3,398.1 481.7,389.4 489.2,384.4"/>
<polygon fill="#FFAA00" points="489.2,394.3 499.1,381.9 514.0,379.4 523.9,385.7 541.3,384.4 543.8,389.4 553.7,388.1 552.5,399.3 548.8,404.3 538.8,394.3 528.9,399.3 519.0,406.8 509.0,404.3 499.1,401.8 491.7,399.3"/>
<polygon fill="#FFAA00" points="484.2,424.1 504.1,424.1 514.0,419.2 528.9,416.7 528.9,429.1 519.0,426.6 509.0,429.1 504.1,434.1 494.1,429.1 486.7,429.1"/>
<polygon fill="#FFAA00" points="511.5,441.5 519.0,439.0 528.9,446.5 533.9,451.4 523.9,452.7 516.5,449.0"/>
<polygon fill="#FFAA00" points="523.9,463.9 533.9,458.9 548.8,449.0 556.2,446.5 553.7,451.4 543.8,458.9 536.3,463.9 533.9,473.8 528.9,473.8"/>
<polygon fill="#E8AA3C" points="547.5,416.7 552.5,406.8 559.9,398.1 562.4,400.6 555.0,409.2 551.2,419.2"/>
<polygon fill="#FFAA00" points="541.3,377.0 548.8,372.0 561.2,377.0 561.2,384.4 553.7,381.9 548.8,379.4"/>
<polygon fill="#8FA82E" points="449.4,379.4 459.4,374.5 469.3,377.0 471.8,384.4 464.3,391.9 454.4,394.3 449.4,386.9"/>
<polygon fill="#8FA82E" points="464.3,394.3 479.2,381.9 486.7,379.4 479.2,389.4 469.3,399.3"/>
<polygon fill="#8FA82E" points="516.5,414.2 521.4,404.3 525.2,405.5 521.4,416.7 517.7,424.1"/>
<polygon fill="#8FA82E" points="531.4,416.7 536.3,411.7 537.6,421.7 533.9,426.6"/>
<polygon fill="#8FA82E" points="541.3,372.0 546.3,370.8 548.8,377.0 543.8,378.2"/>
<polygon fill="#7FFF7F" points="443.2,362.1 449.4,358.3 453.2,364.6 449.4,369.5 444.5,367.0"/>
<polygon fill="#7FFF7F" points="464.3,360.8 479.2,358.3 480.5,362.1 469.3,365.0"/>
<polygon fill="#007FFF" points="471.8,319.9 479.2,324.8 487.9,332.3 495.4,338.5 505.3,339.7 515.2,343.4 522.7,350.9 527.7,360.8 533.9,365.0 531.4,373.2 523.9,371.5 509.0,373.2 499.1,375.7 491.7,379.4 487.9,380.9 486.7,377.5 499.1,372.5 519.0,367.5 521.9,363.3 519.0,353.4 512.8,347.7 504.1,344.2 494.1,342.7 485.4,336.7 476.8,329.3"/>
<polygon fill="#007FFF" points="414.7,377.0 423.4,378.2 432.1,379.4 429.6,389.4 422.1,388.1 417.2,383.2"/>
<polygon fill="#007FFF" points="423.4,394.3 428.3,399.3 429.6,405.5 425.9,404.3"/>
<polygon fill="#007FFF" points="427.1,321.1 432.1,322.3 433.3,327.3 428.3,331.0"/>
<polygon fill="#007FFF" points="448.2,331.8 456.9,330.3 460.6,333.5 455.7,337.2 449.4,336.0"/>
<polygon fill="#007FFF" points="437.0,339.7 443.2,337.2 444.5,341.0 438.3,344.7"/>
<polygon fill="#007FFF" points="456.9,419.2 464.3,414.2 469.3,417.9 465.6,424.1 459.4,422.9"/>
<polygon fill="#007FFF" points="494.1,461.4 499.1,458.9 501.6,473.8 499.1,478.8 495.4,473.8"/>
<polygon fill="#CFCFCF" points="418.4,337.2 424.6,332.3 434.6,332.3 437.0,339.7 429.6,349.7 423.4,355.9 419.7,352.1 422.1,344.7"/>
<polygon fill="#CFCFCF" points="456.9,339.7 469.3,334.8 476.8,332.3 479.2,334.8 469.3,341.0 459.4,345.9 455.7,344.7"/>
<polygon fill="#CFCFCF" points="425.9,413.0 434.6,415.4 444.5,424.1 451.9,429.1 459.4,429.1 466.8,434.1 473.0,441.5 471.8,451.4 464.3,458.9 461.9,449.0 454.4,444.0 449.4,436.6 439.5,431.6 432.1,424.1"/>
<polygon fill="#CFCFCF" points="541.3,435.3 551.2,429.1 555.0,444.0 548.8,441.5 543.8,445.2"/>
<polygon fill="#CFCFCF" points="571.1,394.3 581.0,391.9 582.3,399.3 573.6,409.2 571.1,404.3"/>
<polygon fill="#CFCFCF" points="523.9,468.8 533.9,471.3 533.9,480.0 526.4,481.2"/>
<polygon fill="#9C9C9C" points="409.7,359.6 415.9,349.7 419.7,353.4 413.4,362.1 409.7,372.0 407.2,369.5"/>
<polygon fill="#9C9C9C" points="454.4,466.3 459.4,463.9 460.6,471.3 455.7,473.8"/>
<polygon fill="#FFA3A3" points="561.2,379.4 568.6,379.4 578.6,384.4 586.0,389.4 586.0,398.1 581.0,406.8 576.1,413.0 571.1,409.2 573.6,399.3 568.6,394.3 566.1,386.9"/>
<polygon fill="#CFCFCF" points="571.1,395.6 581.0,392.4 582.3,399.3 574.8,408.0 571.6,404.3"/>
<polygon fill="#007F00" points="558.7,404.3 566.1,400.6 568.6,404.3 566.1,413.0 562.4,409.2"/>
<polygon fill="#007F00" points="449.4,429.1 453.2,430.3 458.1,446.5 455.7,449.0 451.9,439.0"/>
<polygon fill="#007F00" points="568.6,383.2 572.3,384.4 571.1,386.9"/>
<polygon fill="#007F00" points="579.8,386.9 582.3,388.1 581.0,391.9"/>
<polygon fill="#F7B384" points="541.3,424.1 548.8,421.7 553.7,426.6 551.2,434.1 543.8,435.3 540.1,431.6"/>
<polygon fill="#E8AA3C" points="476.8,439.0 484.2,436.6 486.7,449.0 481.7,458.9 476.8,453.9"/>
<polygon fill="#E8914A" points="476.8,461.4 481.7,461.4 486.7,473.8 484.2,483.7 489.2,489.9 499.1,478.8 509.0,478.8 519.0,476.3 528.9,478.8 528.9,487.4 523.9,496.1 519.0,501.1 511.5,504.8 505.3,507.3 499.1,506.1 494.1,498.6 486.7,493.7 479.2,496.1 474.3,483.7"/>
<polygon fill="#CC8040" points="476.8,498.6 486.7,493.7 494.1,498.6 499.1,506.1 505.3,507.3 507.8,513.5 504.1,518.5 499.1,522.0 479.2,522.0 474.3,511.0"/>
<polygon fill="#FFF06E" points="466.8,453.9 474.3,449.0 479.2,458.9 476.8,468.8 479.2,483.7 480.5,496.1 474.3,498.6 469.3,488.7 466.8,473.8 464.3,463.9"/>
<polygon fill="#FF00FF" points="486.7,436.6 494.1,434.1 501.6,436.6 502.8,444.0 499.1,449.0 496.6,458.9 494.1,463.9 489.2,466.3 481.7,461.4 484.2,453.9 489.2,451.4"/>
<polygon fill="#FF00FF" points="476.8,441.5 480.5,439.0 479.2,445.2 475.5,446.5"/>
<polygon fill="#FF00FF" points="486.7,476.3 494.1,473.8 499.1,478.8 491.7,486.2 486.7,488.7 484.2,482.5"/>
<polygon fill="#FF00FF" points="487.9,512.3 499.1,508.6 506.6,509.8 506.6,514.8 499.1,517.2 490.4,516.5"/>
<polygon fill="#FF00FF" points="448.2,444.0 449.9,444.0 450.7,458.9 449.0,458.9"/>
<polygon fill="#F7A5FA" points="496.6,488.7 504.1,485.0 509.0,488.7 507.8,496.1 499.1,499.9 496.1,494.9"/>
<polygon fill="#5C0000" points="501.6,478.8 509.0,463.9 512.8,468.8 517.7,471.3 511.5,475.0 505.3,478.8"/>
<polygon fill="#FFD817" points="459.4,498.6 464.3,501.1 465.6,511.0 461.9,516.0 456.9,511.0"/>
<polygon fill="#FFFF00" points="399.8,381.9 403.5,383.2 404.8,389.4 401.0,388.1"/>
<polygon fill="#FFA3A3" points="401.0,367.0 406.0,360.8 408.5,364.6 403.5,374.5"/>
<polygon fill="#FFA3A3" points="444.5,488.7 448.2,488.7 449.4,511.0 445.7,513.5"/>
<polygon fill="#007F00" points="517.7,498.6 526.4,486.2 528.9,487.4 520.2,499.9"/>
<polygon fill="#E8AA3C" points="447.0,480.0 447.9,489.9 446.2,503.2 443.7,513.1 445.4,523.0 446.2,529.7 445.4,537.9 446.2,549.5 447.0,559.4 449.5,567.7 454.5,576.0 462.8,581.0 472.7,585.1 482.6,586.8 490.1,584.3 482.6,581.0 477.7,576.0 473.5,570.2 476.0,564.4 481.0,557.8 479.3,552.8 474.3,547.9 481.0,542.9 479.3,536.3 485.1,534.6 482.6,529.7 489.2,528.0 488.4,521.4 495.9,518.9 505.0,517.2 508.3,511.4 502.5,508.1 500.8,503.2 514.1,504.8 519.0,496.6 525.7,489.9 529.8,485.0 533.1,480.0"/>
<polygon fill="#FFA3A3" points="442.9,489.9 450.3,493.2 452.8,503.2 449.5,513.1 445.4,518.1 442.1,513.1 444.6,503.2"/>
<polygon fill="#FFF06E" points="466.1,480.0 477.7,480.0 481.0,489.9 479.3,498.2 472.7,501.5 469.4,499.9 472.7,493.2 466.1,489.9"/>
<polygon fill="#FFD817" points="457.8,501.5 461.1,496.6 466.1,503.2 467.7,513.1 472.7,518.1 479.3,519.7 477.7,521.4 467.7,519.7 461.1,518.1 456.1,513.1"/>
<polygon fill="#CC8040" points="477.7,480.0 487.6,480.0 486.8,499.9 487.6,511.4 485.9,518.1 479.3,516.4 475.2,509.8 476.0,503.2 479.3,498.2 481.0,489.9"/>
<polygon fill="#E8914A" points="487.6,480.0 533.1,480.0 529.8,485.0 525.7,489.9 519.0,496.6 514.1,504.8 500.8,503.2 502.5,508.1 495.9,510.6 487.6,511.4 486.8,499.9"/>
<polygon fill="#E8914A" points="479.3,521.4 487.6,520.6 492.6,528.0 482.6,529.7 477.7,526.3"/>
<polygon fill="#F7B384" points="469.4,504.8 475.2,501.5 476.0,503.2 475.2,509.8 479.3,516.4 477.7,519.7 471.9,517.2 468.6,511.4"/>
<polygon fill="#F7B384" points="455.3,518.1 462.8,518.9 466.1,528.0 461.1,533.0 457.8,534.6 455.3,529.7"/>
<polygon fill="#FFF06E" points="457.8,534.6 462.8,533.0 466.1,542.9 462.8,552.8 459.4,549.5"/>
<polygon fill="#FFA3A3" points="462.8,552.8 466.1,542.9 474.3,546.2 482.6,552.8 482.6,557.8 474.3,555.3 469.4,559.4 472.7,564.4 467.7,565.2 462.8,561.1 461.1,556.1"/>
<polygon fill="#FFA3A3" points="476.8,537.9 481.0,537.1 481.0,543.7 476.0,544.6"/>
<polygon fill="#FF00FF" points="488.4,511.4 495.9,509.8 502.5,508.1 508.3,511.4 505.0,517.2 495.9,515.6 490.1,517.2"/>
<polygon fill="#FF00FF" points="462.8,520.6 472.7,519.7 479.3,523.0 488.4,526.3 488.4,528.8 476.0,528.8 467.7,528.0"/>
<polygon fill="#FF00FF" points="461.1,533.0 472.7,532.1 476.8,537.9 476.0,544.6 471.9,542.9 466.1,537.9"/>
<polygon fill="#FF00FF" points="469.4,559.4 474.3,555.3 481.0,556.1 479.3,561.1 476.0,564.4"/>
<polygon fill="#FFD817" points="474.3,529.7 479.3,528.8 481.0,536.3 477.7,537.1"/>
<polygon fill="#F7A5FA" points="496.7,489.9 500.8,485.8 507.4,485.8 509.1,491.6 505.8,497.4 499.2,499.0 496.7,495.7"/>
<polygon fill="#CFCFCF" points="506.6,486.6 509.1,487.4 508.8,491.6 507.1,491.6"/>
<polygon fill="#9C9C9C" points="452.0,511.4 455.3,511.4 456.1,521.4 457.0,534.6 460.3,541.2 461.1,547.9 457.8,546.2 454.5,537.9 452.8,529.7 446.2,529.7 449.5,526.3 451.2,518.1"/>
<polygon fill="#e6e6e6" points="442.9,529.7 452.8,529.7 454.5,537.9 457.8,546.2 459.4,552.8 457.8,557.8 454.5,559.4 456.1,566.1 461.1,572.7 469.4,577.7 479.3,582.6 482.6,586.8 472.7,586.8 462.8,582.6 454.5,577.7 447.9,567.7 445.4,559.4 444.6,549.5 443.7,537.9"/>
<polygon fill="#9C9C9C" points="457.8,554.5 461.1,552.8 461.9,556.1 458.6,557.8"/>
<polygon fill="#CFCFCF" points="461.9,554.5 467.7,555.3 470.2,557.8 464.4,558.6"/>
<polygon fill="#E8AA3C" points="457.0,557.8 461.1,557.0 464.4,566.1 472.7,570.2 477.7,576.0 482.6,581.0 490.1,584.3 482.6,585.9 474.3,581.0 467.7,576.0 462.8,569.4 457.8,562.8"/>
<polygon fill="#E8914A" points="464.4,570.2 470.2,569.4 476.0,576.0 472.7,577.7"/>
<polygon fill="#E2E2FA" points="452.8,559.4 456.1,558.6 457.0,566.1 454.5,566.1"/>
<polygon fill="#007F00" points="517.4,498.2 527.3,486.6 529.0,487.4 519.0,499.9"/>
</g>
<g>
<polygon fill="#9999DC" points="504.1,570.7 510.8,569.9 514.9,570.7 510.8,572.7 505.8,573.0"/>
</g>
<clipPath id="c7"><polygon points="394.8,326.1 402.3,332.3 409.7,329.3 415.9,331.0 419.7,334.8 423.4,324.8 427.1,321.1 437.0,319.9 440.8,317.4 444.5,321.1 451.9,321.1 461.9,323.6 471.8,322.8 479.2,327.3 486.7,334.8 494.1,341.0 504.1,342.2 514.0,345.9 520.2,352.1 523.9,359.6 525.2,365.0 531.4,367.0 538.8,369.0 548.8,372.0 558.7,377.0 568.6,379.4 578.6,384.4 583.5,389.4 584.8,398.1 581.0,406.8 576.1,413.0 571.1,417.9 569.9,429.1 568.6,439.0 566.1,446.5 561.2,452.7 553.7,457.7 546.3,460.1 538.8,465.1 535.1,471.3 533.9,478.8 528.9,487.4 523.9,496.1 519.0,501.1 511.5,504.8 505.3,507.3 507.8,513.5 504.1,518.5 499.1,522.0 444.5,522.0 444.5,511.0 447.0,498.6 445.7,488.7 448.2,473.8 449.4,458.9 448.2,449.0 447.0,439.0 439.5,431.6 429.6,424.1 422.1,416.7 417.2,406.8 409.7,396.8 402.3,386.9 399.8,379.4 402.3,369.5 407.2,359.6 414.7,349.7 418.4,342.2 415.9,334.8 409.7,332.3 402.3,334.8 394.8,331.0"/><polygon points="370.0,305.0 379.9,307.4 384.9,319.9 394.8,326.1 402.3,332.3 409.7,329.3 415.9,331.0 419.7,334.8 417.2,337.2 409.7,333.5 402.3,334.8 394.8,331.0 387.4,326.1 382.4,319.9 375.0,312.4 370.0,309.9"/><polygon points="447.0,480.0 447.9,489.9 446.2,503.2 443.7,513.1 445.4,523.0 446.2,529.7 445.4,537.9 446.2,549.5 447.0,559.4 449.5,567.7 454.5,576.0 462.8,581.0 472.7,585.1 482.6,586.8 490.1,584.3 482.6,581.0 477.7,576.0 473.5,570.2 476.0,564.4 481.0,557.8 479.3,552.8 474.3,547.9 481.0,542.9 479.3,536.3 485.1,534.6 482.6,529.7 489.2,528.0 488.4,521.4 495.9,518.9 505.0,517.2 508.3,511.4 502.5,508.1 500.8,503.2 514.1,504.8 519.0,496.6 525.7,489.9 529.8,485.0 533.1,480.0"/></clipPath>
<g clip-path="url(#c7)">
<polygon fill="#FFAA00" points="538.1,370.3 545.6,375.3 555.5,377.8 560.5,377.0 561.3,386.1 558.8,396.0 553.9,397.7 551.4,390.2 545.6,392.7 539.0,396.0 535.7,397.7 541.4,386.1 542.3,379.4"/>
<polygon fill="#D90000" points="560.5,377.8 565.4,381.1 567.9,389.4 562.1,397.7 558.8,396.0 561.3,386.1"/>
<polygon fill="#8FA82E" points="541.4,371.2 545.6,370.3 548.9,376.1 544.8,378.6"/>
<polygon fill="#E8AA3C" points="552.2,405.9 557.2,401.0 565.4,399.3 572.1,402.6 573.7,412.6 565.4,415.9 562.1,407.6 555.5,409.2 551.4,415.9 548.9,414.2"/>
<polygon fill="#007F00" points="557.2,403.4 565.4,401.0 567.9,403.4 566.3,414.2 563.0,412.6 562.1,406.8"/>
<polygon fill="#CFCFCF" points="571.2,399.3 578.7,396.0 580.3,401.0 574.6,407.6 572.1,405.9"/>
<polygon fill="#CFCFCF" points="567.9,395.2 580.3,391.9 581.2,395.2 570.4,398.5"/>
</g>
<clipPath id="c8"><polygon points="690.9,231.0 702.1,222.3 714.5,219.9 734.3,218.6 749.2,221.1 761.7,217.4 764.1,222.3 765.4,231.0 774.1,234.8 789.0,237.2 801.4,242.2 803.9,237.2 818.8,236.0 833.7,239.7 846.1,242.2 856.0,241.0 858.5,247.2 851.0,248.4 856.0,257.1 863.4,269.5 872.1,284.4 879.6,295.6 885.8,304.3 893.2,311.7 897.0,320.4 903.2,322.9 915.6,321.7 926.8,318.7 925.5,329.1 918.1,341.5 910.6,351.4 903.2,358.9 893.2,368.8 885.8,378.8 882.1,388.7 883.3,398.6 884.6,411.0 884.6,422.0 774.1,422.0 775.3,398.6 766.6,383.7 760.4,368.8 762.9,353.9 764.1,346.5 756.7,345.2 746.8,344.0 741.8,339.0 724.4,339.0 709.5,342.8 695.9,346.5 684.7,341.5 674.8,334.1 667.3,325.4 659.9,316.7 656.1,306.8 659.9,294.3 658.6,284.4 657.4,277.0 664.8,264.6 672.3,254.6 684.7,244.7 689.7,234.8"/><polygon points="762.4,350.0 759.7,367.9 766.9,378.7 773.2,389.4 777.7,400.2 775.9,411.0 775.0,418.1 771.4,427.1 770.5,436.1 775.9,446.8 781.2,461.2 784.8,473.7 790.2,484.5 793.8,495.2 797.4,502.4 802.8,503.3 811.7,499.7 820.7,498.8 829.7,497.9 836.8,493.4 844.0,487.2 849.4,479.1 852.1,468.3 856.6,464.8 862.8,457.6 861.9,446.8 859.2,441.4 865.5,437.9 874.5,433.4 881.7,428.9 885.2,421.7 884.3,411.0 881.7,400.2 881.7,391.2 883.4,382.3 892.4,369.7 901.4,359.0 910.3,350.0"/></clipPath>
<g clip-path="url(#c8)">
<polygon fill="#FFD817" points="690.9,231.0 702.1,222.3 714.5,219.9 734.3,218.6 749.2,221.1 761.7,217.4 764.1,222.3 765.4,231.0 774.1,234.8 789.0,237.2 801.4,242.2 803.9,237.2 818.8,236.0 833.7,239.7 846.1,242.2 856.0,241.0 858.5,247.2 851.0,248.4 856.0,257.1 863.4,269.5 872.1,284.4 879.6,295.6 885.8,304.3 893.2,311.7 897.0,320.4 903.2,322.9 915.6,321.7 926.8,318.7 925.5,329.1 918.1,341.5 910.6,351.4 903.2,358.9 893.2,368.8 885.8,378.8 882.1,388.7 883.3,398.6 884.6,411.0 884.6,422.0 774.1,422.0 775.3,398.6 766.6,383.7 760.4,368.8 762.9,353.9 764.1,346.5 756.7,345.2 746.8,344.0 741.8,339.0 724.4,339.0 709.5,342.8 695.9,346.5 684.7,341.5 674.8,334.1 667.3,325.4 659.9,316.7 656.1,306.8 659.9,294.3 658.6,284.4 657.4,277.0 664.8,264.6 672.3,254.6 684.7,244.7 689.7,234.8"/>
<polygon fill="#FF7378" points="762.4,350.0 759.7,367.9 766.9,378.7 773.2,389.4 777.7,400.2 775.9,411.0 775.0,418.1 771.4,427.1 770.5,436.1 775.9,446.8 781.2,461.2 784.8,473.7 790.2,484.5 793.8,495.2 797.4,502.4 802.8,503.3 811.7,499.7 820.7,498.8 829.7,497.9 836.8,493.4 844.0,487.2 849.4,479.1 852.1,468.3 856.6,464.8 862.8,457.6 861.9,446.8 859.2,441.4 865.5,437.9 874.5,433.4 881.7,428.9 885.2,421.7 884.3,411.0 881.7,400.2 881.7,391.2 883.4,382.3 892.4,369.7 901.4,359.0 910.3,350.0"/>
<polygon fill="#F7B384" points="658.6,284.4 672.3,284.4 689.7,281.9 709.5,286.9 724.4,294.3 739.3,291.9 756.7,294.3 774.1,296.8 789.0,299.3 806.3,298.1 818.8,299.3 823.7,294.3 838.6,296.8 851.0,299.3 851.0,306.8 838.6,316.7 823.7,321.7 813.8,321.7 803.9,314.2 789.0,311.7 774.1,314.2 764.1,315.4 749.2,313.0 734.3,314.2 719.4,313.0 704.6,311.7 689.7,313.0 674.8,314.2 664.8,311.7 654.9,304.3"/>
<polygon fill="#FF7378" points="789.0,309.2 813.8,320.4 836.1,316.7 838.6,326.6 828.7,324.1 813.8,324.1 801.4,329.1 789.0,334.1 779.0,324.1 774.1,316.7"/>
<polygon fill="#F7B384" points="699.6,252.1 721.9,244.7 739.3,242.2 741.8,249.7 726.9,254.6 714.5,264.6 702.1,269.5 697.1,262.1"/>
<polygon fill="#F7B384" points="746.8,239.7 759.2,234.8 764.1,242.2 769.1,252.1 779.0,257.1 774.1,262.1 761.7,259.6 751.7,264.6 744.3,257.1 749.2,249.7"/>
<polygon fill="#F7B384" points="813.8,249.7 826.2,247.2 836.1,257.1 833.7,267.0 823.7,264.6 813.8,259.6 808.8,262.1 801.4,267.0 798.9,262.1 806.3,257.1"/>
<polygon fill="#CFCFCF" points="688.4,237.2 702.1,229.8 721.9,227.3 741.8,228.6 739.3,237.2 721.9,237.2 712.0,243.4 702.1,247.2 692.1,245.9"/>
<polygon fill="#CFCFCF" points="662.3,277.0 679.7,269.5 697.1,262.1 712.0,259.6 714.5,267.0 699.6,272.0 684.7,277.0 669.8,281.9"/>
<polygon fill="#CFCFCF" points="731.9,269.5 739.3,259.6 751.7,262.1 764.1,264.6 771.6,269.5 769.1,279.4 761.7,284.4 756.7,294.3 749.2,286.9 739.3,288.1 729.4,286.9 734.3,277.0"/>
<polygon fill="#CFCFCF" points="784.0,274.5 798.9,277.0 803.9,284.4 813.8,286.9 823.7,294.3 818.8,299.3 806.3,296.8 793.9,299.3 786.5,294.3 791.4,284.4"/>
<polygon fill="#CFCFCF" points="710.8,286.9 719.4,284.4 724.4,291.9 714.5,294.3"/>
<polygon fill="#CFCFCF" points="851.0,248.4 858.5,247.2 863.4,257.1 870.9,272.0 878.3,284.4 888.3,299.3 893.2,311.7 885.8,309.2 878.3,299.3 870.9,286.9 863.4,274.5 856.0,262.1"/>
<polygon fill="#FFA3A3" points="688.4,231.0 702.1,221.1 714.5,218.6 734.3,217.4 749.2,219.9 761.7,214.9 765.4,223.6 749.2,224.8 734.3,223.6 714.5,224.8 702.1,228.6 692.1,237.2"/>
<polygon fill="#FFFF00" points="765.4,233.5 779.0,234.8 789.0,237.2 801.4,242.2 798.9,244.7 786.5,242.2 774.1,239.7 765.4,238.5"/>
<polygon fill="#FFFF00" points="746.8,229.8 761.7,228.6 762.9,232.3 749.2,233.5"/>
<polygon fill="#00FFFF" points="800.9,236.7 805.1,236.7 804.4,243.4 800.9,242.7"/>
<polygon fill="#00FFFF" points="839.9,239.2 848.6,239.7 847.3,244.7 841.1,245.2"/>
<polygon fill="#FF00FF" points="826.2,245.9 834.9,244.2 833.7,248.4 827.4,249.7"/>
<polygon fill="#FF00FF" points="831.2,253.4 836.1,254.6 844.8,272.0 841.1,274.5 836.1,264.6"/>
<polygon fill="#FF7378" points="672.3,311.7 689.7,309.2 704.6,308.0 719.4,309.2 734.3,310.5 749.2,309.2 764.1,311.7 774.1,316.7 779.0,324.1 789.0,334.1 784.0,341.5 774.1,345.2 764.1,346.5 756.7,339.0 746.8,344.0 739.3,334.1 724.4,339.0 714.5,329.1 699.6,324.1 689.7,321.7 679.7,324.1 689.7,319.2 694.6,313.0 679.7,311.7"/>
<polygon fill="#CFCFCF" points="664.8,316.7 679.7,311.7 694.6,313.0 689.7,319.2 679.7,324.1 677.2,329.1 672.3,325.4"/>
<polygon fill="#FFAA00" points="679.7,319.2 689.7,321.7 699.6,324.1 714.5,329.1 724.4,339.0 709.5,344.0 695.9,347.7 690.9,339.0 684.7,329.1"/>
<polygon fill="#FFAA00" points="746.8,326.6 756.7,334.1 766.6,339.0 779.0,339.0 784.0,344.0 774.1,346.5 764.1,345.2 754.2,341.5 746.8,334.1"/>
<polygon fill="#D90000" points="664.8,324.1 672.3,325.4 677.2,329.1 679.7,324.1 684.7,329.1 690.9,339.0 695.9,347.7 684.7,342.8 674.8,335.3"/>
<polygon fill="#FF00FF" points="654.9,309.2 667.3,308.0 669.8,311.7 659.9,316.7"/>
<polygon fill="#007FFF" points="699.6,305.5 712.0,298.1 710.8,303.0 703.3,310.5"/>
<polygon fill="#007FFF" points="764.1,313.0 775.3,308.0 776.6,311.7 766.6,316.7"/>
<polygon fill="#F7A5FA" points="775.3,324.1 781.5,322.9 784.0,329.1 777.8,330.3"/>
<polygon fill="#F7A5FA" points="791.4,311.7 798.9,310.5 801.4,316.7 793.9,317.9"/>
<polygon fill="#FF00FF" points="803.9,301.8 806.3,303.0 808.8,314.2 801.4,315.4"/>
<polygon fill="#00FFFF" points="743.0,340.3 756.7,342.8 755.4,347.7 746.8,349.0"/>
<polygon fill="#D90000" points="764.1,346.5 774.1,345.2 784.0,341.5 789.0,334.1 801.4,329.1 813.8,324.1 828.7,324.1 836.1,329.1 843.6,339.0 851.0,344.0 858.5,346.5 863.4,358.9 868.4,366.3 870.9,378.8 875.9,388.7 884.6,411.0 884.6,422.0 774.1,422.0 775.3,398.6 766.6,383.7 759.2,368.8 761.7,353.9"/>
<polygon fill="#007FFF" points="775.3,319.2 789.0,321.7 801.4,317.9 813.8,321.7 811.3,329.1 801.4,331.6 791.4,334.1 784.0,326.6"/>
<polygon fill="#FF7378" points="851.0,299.3 863.4,291.9 873.4,294.3 878.3,304.3 882.1,314.2 873.4,311.7 863.4,306.8 856.0,309.2"/>
<polygon fill="#F7A5FA" points="836.1,316.7 846.1,311.7 856.0,309.2 863.4,299.3 868.4,304.3 863.4,311.7 858.5,319.2 859.7,331.6 863.4,341.5 856.0,346.5 851.0,341.5 843.6,334.1 838.6,326.6"/>
<polygon fill="#CFCFCF" points="878.3,309.2 895.7,311.7 897.0,320.4 888.3,324.1 882.1,329.1 880.8,321.7 882.1,314.2"/>
<polygon fill="#5C0000" points="859.7,319.2 868.4,314.2 878.3,315.4 880.8,324.1 879.6,331.6 885.8,336.6 878.3,342.8 868.4,341.5 861.0,342.8 862.2,334.1 858.5,326.6"/>
<polygon fill="#FFD817" points="884.6,326.6 898.2,324.1 910.6,322.9 928.0,317.9 926.8,329.1 918.1,341.5 910.6,351.4 903.2,353.9 888.3,358.9 873.4,361.4 867.2,353.9 868.4,344.0 878.3,342.8 885.8,336.6"/>
<polygon fill="#FFFF00" points="908.1,324.1 918.1,322.9 920.6,331.6 913.1,339.0 909.4,334.1"/>
<polygon fill="#FF00FF" points="895.7,320.4 903.2,322.9 898.2,325.4"/>
<polygon fill="#FF7378" points="868.4,363.9 888.3,358.9 903.2,356.4 903.2,361.4 893.2,368.8 885.8,378.8 882.1,388.7 875.9,383.7 869.7,373.8"/>
<polygon fill="#FF00FF" points="888.3,358.9 905.7,352.7 903.2,357.7 893.2,365.1"/>
<polygon fill="#007FFF" points="870.9,291.4 874.6,290.6 875.4,294.3 872.1,294.8"/>
<polygon fill="#D90000" points="762.4,350.0 858.3,350.0 865.5,360.8 854.8,364.3 847.6,371.5 840.4,380.5 844.0,394.8 851.2,402.0 858.3,403.8 863.7,418.1 872.7,418.1 872.7,423.5 863.7,425.3 856.6,421.7 851.2,419.9 847.6,421.7 840.4,421.7 833.2,419.9 826.1,418.1 820.7,411.0 817.1,403.8 808.1,400.2 806.3,389.4 801.0,380.5 790.2,378.7 783.0,367.9 777.7,371.5 784.8,385.9 784.8,396.6 792.0,396.6 799.2,402.0 795.6,409.2 792.0,418.1 790.2,427.1 781.2,425.3 779.4,414.6 781.2,402.0 777.7,400.2 773.2,389.4 766.9,378.7 757.9,367.9"/>
<polygon fill="#FF7378" points="854.8,364.3 865.5,360.8 869.1,367.9 876.3,376.9 883.4,382.3 887.0,391.2 887.0,400.2 887.9,411.0 888.8,421.7 881.7,428.9 872.7,423.5 872.7,418.1 863.7,418.1 860.1,403.8 854.8,398.4 847.6,393.0 842.2,382.3 847.6,371.5"/>
<polygon fill="#D90000" points="847.6,421.7 851.2,411.0 856.6,403.8 860.1,403.8 863.7,418.1 872.7,418.1 872.7,423.5 863.7,425.3 856.6,421.7"/>
<polygon fill="#F7B384" points="777.7,371.5 783.0,367.9 790.2,378.7 801.0,380.5 806.3,389.4 808.1,400.2 817.1,403.8 820.7,411.0 822.5,421.7 829.7,428.9 838.6,436.1 836.8,443.2 829.7,446.8 826.1,454.0 824.3,461.2 826.1,468.3 824.3,475.5 818.9,482.7 808.1,479.1 801.0,473.7 797.4,464.8 792.0,457.6 786.6,450.4 781.2,439.7 777.7,427.1 781.2,425.3 790.2,427.1 792.0,418.1 795.6,409.2 799.2,402.0 792.0,396.6 784.8,396.6 784.8,385.9"/>
<polygon fill="#FF7378" points="775.0,400.2 778.6,401.1 780.3,412.8 778.6,425.3 775.0,425.3 775.9,411.0"/>
<polygon fill="#CFCFCF" points="769.6,427.1 777.7,427.1 781.2,439.7 786.6,450.4 792.0,457.6 790.2,464.8 792.0,475.5 795.6,486.3 799.2,498.8 797.4,503.3 793.8,496.1 789.3,484.5 783.9,473.7 780.3,461.2 775.0,446.8 769.6,436.1"/>
<polygon fill="#FFD817" points="781.2,436.1 786.6,434.3 793.8,439.7 792.0,445.0 784.8,445.0"/>
<polygon fill="#FFD817" points="790.2,463.0 797.4,464.8 799.2,473.7 793.8,475.5"/>
<polygon fill="#FFD817" points="801.0,486.3 808.1,482.7 818.9,482.7 824.3,489.9 829.7,497.9 820.7,499.7 811.7,500.6 804.6,497.0"/>
<polygon fill="#FCDFA7" points="793.8,475.5 801.0,473.7 808.1,479.1 801.0,486.3 799.2,493.4 795.6,486.3"/>
<polygon fill="#FFA3A3" points="792.9,495.2 797.4,503.3 802.8,504.2 801.0,497.0"/>
<polygon fill="#FF00FF" points="783.0,434.3 787.5,434.3 789.3,439.7 783.9,439.7"/>
<polygon fill="#FF00FF" points="820.7,445.0 826.1,443.2 827.9,446.8 822.5,448.6"/>
<polygon fill="#FF00FF" points="847.6,450.4 854.8,445.0 861.9,443.2 863.7,454.0 856.6,461.2 851.2,464.8 850.3,457.6"/>
<polygon fill="#007FFF" points="787.5,362.6 792.0,355.4 801.0,354.5 817.1,355.4 817.1,359.0 808.1,359.0 801.0,362.6 795.6,367.9 790.2,371.5"/>
<polygon fill="#007FFF" points="804.6,409.2 815.3,410.1 817.1,421.7 813.5,430.7 808.1,436.1 802.8,434.3 806.3,427.1 809.9,419.9"/>
<polygon fill="#007FFF" points="800.1,423.5 803.7,424.4 802.8,428.9 800.1,428.0"/>
<polygon fill="#007FFF" points="810.8,439.7 817.1,441.4 815.3,446.8 811.7,445.0"/>
<polygon fill="#007FFF" points="842.2,407.4 845.8,407.7 845.8,412.8 842.2,413.7"/>
<polygon fill="#7FFF7F" points="815.3,422.6 818.9,421.7 818.5,428.9 815.3,429.8"/>
<polygon fill="#F7B384" points="834.1,398.4 837.7,395.7 839.5,400.2 837.7,407.4 834.7,407.4"/>
<polygon fill="#5C0000" points="821.6,369.7 836.8,367.0 847.6,357.2 853.9,350.0 854.8,357.2 849.4,362.6 842.2,371.5 840.4,380.5 833.2,385.9 826.1,391.2 823.4,382.3"/>
<polygon fill="#FFAA00" points="847.6,371.5 854.8,376.9 854.8,382.3 865.5,380.5 865.5,391.2 861.9,396.6 854.8,397.5 847.6,393.0 844.0,385.9"/>
<polygon fill="#5C0000" points="861.9,360.8 869.1,367.9 876.3,376.9 879.9,384.1 878.1,386.8 872.7,382.3 865.5,378.7 858.3,383.2 854.8,382.3 860.1,376.9 863.7,369.7"/>
<polygon fill="#FFAA00" points="872.7,391.2 879.9,389.4 885.2,400.2 885.2,411.0 876.3,410.1 870.9,407.4 869.1,400.2"/>
<polygon fill="#D90000" points="875.4,406.5 880.8,406.5 880.8,408.8 875.4,408.8"/>
<polygon fill="#FFFFFF" points="850.3,365.2 859.2,365.2 859.2,375.1 852.1,375.1"/>
<polygon fill="#F7A5FA" points="859.2,369.7 863.7,368.8 862.8,374.2 859.2,374.2"/>
<polygon fill="#F7A5FA" points="853.0,376.9 857.4,376.9 856.6,382.3 853.9,382.3"/>
<polygon fill="#007F00" points="854.8,374.2 859.2,374.2 858.7,376.9 855.1,376.5"/>
<polygon fill="#FFFFFF" points="840.4,380.5 842.6,380.5 845.8,394.8 847.6,399.3 845.4,399.3 842.2,391.2"/>
<polygon fill="#FFFFFF" points="858.3,403.8 860.5,403.8 863.7,421.7 861.9,421.7"/>
<polygon fill="#007FFF" points="846.7,391.2 851.2,393.9 858.3,402.0 859.2,403.8 856.6,403.8 849.4,394.8"/>
<polygon fill="#007FFF" points="861.0,420.8 863.7,420.8 863.7,426.2 861.6,426.2"/>
<polygon fill="#CFCFCF" points="838.3,367.9 844.9,365.2 843.1,371.5 839.5,373.3"/>
<polygon fill="#FFD817" points="865.5,350.0 910.3,350.0 901.4,359.0 894.2,366.1 888.8,360.8 876.3,359.9 869.1,362.6"/>
<polygon fill="#FF00FF" points="889.7,356.3 896.0,355.4 905.0,352.7 901.4,357.2 894.2,362.6 891.5,359.9"/>
<polygon fill="#CFCFCF" points="858.3,350.0 865.5,350.0 869.1,362.6 863.7,359.0"/>
<polygon fill="#00FFFF" points="858.3,438.8 865.5,434.3 872.7,434.3 865.5,439.7 861.9,444.1"/>
<polygon fill="#F7A5FA" points="883.4,412.8 885.6,412.8 885.6,420.8 883.4,419.9"/>
<polygon fill="#F7A5FA" points="828.8,473.7 836.8,469.2 844.0,473.7 845.8,479.1 840.4,478.2 833.2,476.4"/>
<polygon fill="#CFCFCF" points="831.4,482.7 838.6,479.1 847.6,478.2 850.3,479.1 844.0,488.1 836.8,494.3 831.4,491.7 829.7,488.1"/>
<polygon fill="#007F00" points="822.5,482.7 827.9,476.4 835.0,477.3 837.7,479.1 831.4,482.7 829.7,489.9 833.2,492.6 826.1,493.4 822.5,489.0"/>
<polygon fill="#CFCFCF" points="843.1,461.2 847.6,460.3 850.3,468.3 847.6,473.7 844.0,468.3"/>
</g>
<clipPath id="c9"><polygon points="919.3,412.8 922.9,421.7 923.8,427.1 921.1,430.7 917.5,439.7 913.9,450.4 910.3,461.2 906.8,465.7 901.4,466.6 896.9,464.8 894.6,457.6 896.0,450.4 897.8,441.4 898.7,432.5 905.0,428.9 912.1,425.3 916.6,418.1"/></clipPath>
<g clip-path="url(#c9)">
<polygon fill="#FF7378" points="919.3,412.8 922.9,421.7 923.8,427.1 921.1,430.7 917.5,439.7 913.9,450.4 910.3,461.2 906.8,465.7 901.4,466.6 896.9,464.8 894.6,457.6 896.0,450.4 897.8,441.4 898.7,432.5 905.0,428.9 912.1,425.3 916.6,418.1"/>
<polygon fill="#D90000" points="919.3,412.8 922.9,421.7 923.8,427.1 921.1,430.7 917.5,439.7 913.9,450.4 910.3,461.2 908.6,464.8 905.0,459.4 906.8,450.4 904.1,443.2 906.8,436.1 912.1,432.5 914.8,425.3 916.6,418.1"/>
<polygon fill="#F7B384" points="894.6,457.6 896.0,450.4 897.8,445.0 901.4,450.4 900.5,459.4 898.7,464.8 896.9,464.8"/>
</g>
<g>
<polygon fill="#5C0000" points="941.9,447.9 943.7,447.9 943.7,449.7 941.9,449.7"/>
<polygon fill="#5C0000" points="948.4,445.8 949.8,445.8 949.8,447.0 948.4,447.0"/>
<polygon fill="#5C0000" points="895.6,411.7 897.1,411.7 897.1,412.9 895.6,412.9"/>
</g>
<g>
<polygon fill="#9C9C9C" points="645.0,102.1 654.9,99.6 669.8,100.8 677.2,104.6 672.3,108.3 662.3,110.8 649.9,109.5 646.2,106.5"/>
<polygon fill="#E2E2FA" points="658.6,105.0 667.3,104.6 667.8,107.5 659.9,108.0"/>
<polygon fill="#dcdcdc" points="756.7,47.4 769.1,45.5 789.0,45.0 801.4,47.4 798.9,51.2 789.0,54.9 779.0,57.4 769.1,54.9 759.2,51.2"/>
<polygon fill="#dcdcdc" points="856.0,42.0 875.9,41.2 908.1,42.5 908.1,44.5 875.9,44.0 858.5,44.5"/>
</g>
<clipPath id="c12"><polygon points="687.4,149.7 693.2,145.6 701.5,144.8 703.2,150.6 699.9,155.5 693.2,158.0 687.4,158.0"/><polygon points="701.5,134.8 708.1,132.3 716.4,134.8 715.6,140.6 719.7,144.8 722.2,151.4 728.8,155.5 729.7,158.8 724.7,161.3 716.4,161.3 706.5,163.0 704.8,159.7 711.4,158.0 710.6,151.4 707.3,147.2 703.2,143.1 704.8,139.0"/></clipPath>
<g clip-path="url(#c12)">
<polygon fill="#FFA3A3" points="687.4,149.7 693.2,145.6 701.5,144.8 703.2,150.6 699.9,155.5 693.2,158.0 687.4,158.0"/>
<polygon fill="#FFA3A3" points="701.5,134.8 708.1,132.3 716.4,134.8 715.6,140.6 719.7,144.8 722.2,151.4 728.8,155.5 729.7,158.8 724.7,161.3 716.4,161.3 706.5,163.0 704.8,159.7 711.4,158.0 710.6,151.4 707.3,147.2 703.2,143.1 704.8,139.0"/>
<polygon fill="#007FFF" points="689.1,148.1 696.6,145.6 702.3,145.6 701.5,149.7 694.9,150.6 689.9,150.6"/>
<polygon fill="#7FFF7F" points="687.4,155.5 696.6,154.7 698.2,157.2 689.9,158.3"/>
<polygon fill="#7FFF7F" points="694.1,144.8 699.9,143.9 700.7,145.6 694.9,146.1"/>
<polygon fill="#9999DC" points="701.5,134.8 708.1,132.3 713.1,134.0 708.1,139.0 703.2,142.3"/>
<polygon fill="#7FFF7F" points="708.1,136.5 716.4,134.8 715.6,140.6 710.6,141.4"/>
<polygon fill="#E8AA3C" points="706.5,141.4 713.1,139.8 715.6,141.4 709.8,145.6"/>
<polygon fill="#007FFF" points="713.1,143.1 717.2,143.9 718.4,151.4 715.1,150.6"/>
<polygon fill="#7FFF7F" points="709.0,153.9 712.3,153.4 712.3,158.0 709.5,158.0"/>
<polygon fill="#E8AA3C" points="704.8,159.7 711.4,158.0 718.1,159.7 716.4,161.6 706.5,163.0"/>
<polygon fill="#00FFFF" points="723.4,153.4 725.0,153.4 725.0,156.3 723.4,156.3"/>
</g>
<clipPath id="c13"><polygon points="741.8,119.4 749.2,112.0 761.7,107.0 769.1,97.1 779.0,89.7 791.4,85.9 808.8,83.4 823.7,85.9 836.1,88.4 846.1,93.4 858.5,95.9 861.0,100.8 853.5,103.3 863.4,108.3 858.5,114.5 851.0,114.5 838.6,117.0 831.2,121.9 821.2,120.7 813.8,123.2 803.9,121.9 798.9,114.5 803.9,107.0 798.9,104.6 791.4,112.0 786.5,119.4 782.8,126.9 779.0,135.6 771.6,139.3 764.1,135.6 761.7,129.4 756.7,130.6 749.2,133.1 744.3,128.1"/><polygon points="825.7,121.6 812.4,126.6 802.5,128.2 812.4,129.9 812.4,139.0 805.8,139.0 803.3,136.5 800.0,138.1 799.2,143.1 792.6,147.2 785.9,148.9 779.3,149.7 769.4,148.9 762.8,149.7 761.1,145.6 762.8,139.0 759.4,136.5 754.5,139.8 752.8,149.7 746.2,153.9 741.2,158.0 734.6,161.3 729.7,166.3 718.1,167.9 707.3,172.6 718.1,176.2 719.7,182.8 718.9,189.4 718.1,193.6 704.8,192.8 694.9,191.1 689.9,192.8 690.8,202.7 689.9,209.3 691.6,215.9 701.5,217.6 713.1,215.9 719.7,212.6 724.7,207.7 729.7,201.0 735.4,195.2 741.2,191.1 749.5,189.4 756.1,187.8 762.8,192.8 769.4,199.4 776.0,205.2 782.6,209.3 786.8,211.0 781.0,217.6 777.7,215.9 782.6,211.8 787.6,207.7 794.2,206.0 789.2,204.3 782.6,199.4 777.7,192.8 772.7,187.8 768.6,185.3 769.4,183.7 774.3,184.5 779.3,187.8 785.9,194.4 792.6,201.0 797.5,206.0 800.8,209.3 804.1,214.3 807.4,219.2 810.8,215.9 812.4,211.0 815.7,209.3 814.1,206.0 817.4,202.7 824.0,201.9 827.3,202.7 829.0,199.4 828.1,192.8 829.0,186.1 832.3,182.8 838.9,179.5 845.5,181.2 848.8,182.8 847.2,185.3 852.1,187.0 855.4,184.5 862.1,179.5 867.0,182.8 875.3,189.4 883.6,196.1 881.9,200.2 870.3,199.4 858.8,197.7 845.5,200.2 837.2,201.9 829.0,200.2 827.3,204.3 829.0,212.6 833.9,217.6 845.5,219.2 855.4,217.6 862.1,219.2 861.2,225.9 860.4,235.8 858.8,242.4 860.4,262.3 1002.5,262.0 1002.5,82.2 987.6,84.7 975.2,79.7 960.3,77.2 945.4,72.3 941.7,77.2 942.9,88.4 933.0,85.9 918.1,87.2 900.7,89.7 888.3,92.1 878.3,89.7 868.4,93.4 863.4,99.6 863.4,108.3 858.5,114.5 851.0,114.5 838.6,117.0 831.2,121.9 821.2,120.7"/><polygon points="890.8,77.2 898.2,67.3 913.1,61.1 933.0,57.9 930.5,61.1 915.6,66.1 903.2,72.3 898.2,79.7"/></clipPath>
<g clip-path="url(#c13)">
<polygon fill="#7FFF7F" points="741.8,119.4 749.2,112.0 761.7,107.0 769.1,97.1 779.0,89.7 791.4,85.9 808.8,83.4 823.7,85.9 836.1,88.4 846.1,93.4 858.5,95.9 861.0,100.8 853.5,103.3 863.4,108.3 858.5,114.5 851.0,114.5 838.6,117.0 831.2,121.9 821.2,120.7 813.8,123.2 803.9,121.9 798.9,114.5 803.9,107.0 798.9,104.6 791.4,112.0 786.5,119.4 782.8,126.9 779.0,135.6 771.6,139.3 764.1,135.6 761.7,129.4 756.7,130.6 749.2,133.1 744.3,128.1"/>
<polygon fill="#E8AA3C" points="825.7,121.6 812.4,126.6 802.5,128.2 812.4,129.9 812.4,139.0 805.8,139.0 803.3,136.5 800.0,138.1 799.2,143.1 792.6,147.2 785.9,148.9 779.3,149.7 769.4,148.9 762.8,149.7 761.1,145.6 762.8,139.0 759.4,136.5 754.5,139.8 752.8,149.7 746.2,153.9 741.2,158.0 734.6,161.3 729.7,166.3 718.1,167.9 707.3,172.6 718.1,176.2 719.7,182.8 718.9,189.4 718.1,193.6 704.8,192.8 694.9,191.1 689.9,192.8 690.8,202.7 689.9,209.3 691.6,215.9 701.5,217.6 713.1,215.9 719.7,212.6 724.7,207.7 729.7,201.0 735.4,195.2 741.2,191.1 749.5,189.4 756.1,187.8 762.8,192.8 769.4,199.4 776.0,205.2 782.6,209.3 786.8,211.0 781.0,217.6 777.7,215.9 782.6,211.8 787.6,207.7 794.2,206.0 789.2,204.3 782.6,199.4 777.7,192.8 772.7,187.8 768.6,185.3 769.4,183.7 774.3,184.5 779.3,187.8 785.9,194.4 792.6,201.0 797.5,206.0 800.8,209.3 804.1,214.3 807.4,219.2 810.8,215.9 812.4,211.0 815.7,209.3 814.1,206.0 817.4,202.7 824.0,201.9 827.3,202.7 829.0,199.4 828.1,192.8 829.0,186.1 832.3,182.8 838.9,179.5 845.5,181.2 848.8,182.8 847.2,185.3 852.1,187.0 855.4,184.5 862.1,179.5 867.0,182.8 875.3,189.4 883.6,196.1 881.9,200.2 870.3,199.4 858.8,197.7 845.5,200.2 837.2,201.9 829.0,200.2 827.3,204.3 829.0,212.6 833.9,217.6 845.5,219.2 855.4,217.6 862.1,219.2 861.2,225.9 860.4,235.8 858.8,242.4 860.4,262.3 1002.5,262.0 1002.5,82.2 987.6,84.7 975.2,79.7 960.3,77.2 945.4,72.3 941.7,77.2 942.9,88.4 933.0,85.9 918.1,87.2 900.7,89.7 888.3,92.1 878.3,89.7 868.4,93.4 863.4,99.6 863.4,108.3 858.5,114.5 851.0,114.5 838.6,117.0 831.2,121.9 821.2,120.7"/>
<polygon fill="#C2FFC2" points="890.8,77.2 898.2,67.3 913.1,61.1 933.0,57.9 930.5,61.1 915.6,66.1 903.2,72.3 898.2,79.7"/>
<polygon fill="#CFCFCF" points="890.8,77.2 898.2,67.3 905.7,64.8 900.7,72.3 895.7,79.7"/>
<polygon fill="#CFCFCF" points="741.8,119.4 749.2,112.0 761.7,107.0 769.1,97.1 779.0,89.7 791.4,85.9 798.9,88.4 789.0,93.4 779.0,99.6 771.6,109.5 764.1,114.5 756.7,121.9 749.2,129.4 744.3,128.1"/>
<polygon fill="#9999DC" points="798.9,97.1 813.8,93.4 823.7,99.6 826.2,108.3 818.8,109.5 808.8,102.1 801.4,100.8"/>
<polygon fill="#9999DC" points="831.2,105.8 838.6,107.0 841.1,112.0 836.1,112.0"/>
<polygon fill="#9999DC" points="843.6,95.9 853.5,95.9 851.0,99.6 844.8,99.6"/>
<polygon fill="#CFCFCF" points="818.8,93.4 828.7,91.6 836.1,93.4 828.7,95.9"/>
<polygon fill="#FFFFFF" points="789.0,112.0 793.9,105.8 801.4,103.3 806.3,105.8 798.9,112.0 793.9,117.0 786.5,125.7 784.0,121.9"/>
<polygon fill="#E8AA3C" points="766.6,128.1 779.0,126.9 786.5,125.7 789.0,129.4 781.5,135.6 771.6,139.3 764.1,135.6"/>
<polygon fill="#7FFF7F" points="769.1,135.6 779.0,134.3 779.0,139.3 771.6,139.8"/>
<polygon fill="#FFD817" points="863.4,164.1 1002.5,159.2 1002.5,262.0 858.5,262.0"/>
<polygon fill="#7FFF7F" points="813.8,123.2 821.2,120.7 831.2,121.9 838.6,117.0 851.0,114.5 858.5,114.5 863.4,108.3 868.4,102.1 888.3,100.8 913.1,98.3 937.9,95.9 945.4,99.6 946.6,107.0 944.1,114.5 933.0,117.0 913.1,114.5 888.3,117.0 875.9,114.5 863.4,109.5 858.5,114.5 848.6,119.4 838.6,121.9 828.7,125.7"/>
<polygon fill="#C2FFC2" points="863.4,93.4 888.3,88.4 918.1,84.7 942.9,85.9 945.4,99.6 937.9,95.9 913.1,98.3 888.3,100.8 868.4,102.1 863.4,104.6"/>
<polygon fill="#C2FFC2" points="940.4,69.8 952.8,73.5 962.8,77.2 975.2,79.7 1002.5,79.7 1002.5,105.8 962.8,103.3 950.3,98.3 945.4,89.7"/>
<polygon fill="#FFEBBE" points="779.0,156.7 789.0,154.2 793.9,149.2 803.9,146.8 813.8,144.3 818.8,139.3 813.8,134.3 813.8,126.9 828.7,125.7 838.6,121.9 848.6,119.4 858.5,114.5 863.4,109.5 875.9,114.5 888.3,117.0 913.1,114.5 933.0,117.0 944.1,114.5 962.8,104.6 1002.5,107.0 1002.5,136.8 962.8,138.1 945.4,135.6 937.9,144.3 925.5,144.3 913.1,141.8 893.2,146.8 888.3,144.3 875.9,146.8 863.4,149.2 853.5,153.0 843.6,159.2 833.7,162.9 818.8,165.4 803.9,164.1 789.0,162.9 779.0,161.7"/>
<polygon fill="#735A41" points="815.0,166.6 818.8,165.4 833.7,162.9 843.6,159.2 853.5,153.0 863.4,149.2 875.9,146.8 888.3,144.3 889.5,150.5 893.2,146.8 913.1,141.8 925.5,144.3 937.9,144.3 945.4,135.6 962.8,138.1 1002.5,136.8 1002.5,156.7 987.6,156.7 982.6,160.4 962.8,159.2 950.3,156.7 937.9,159.2 933.0,164.1 925.5,159.2 913.1,155.4 900.7,154.2 888.3,159.2 878.3,161.7 868.4,166.6 873.4,179.0 863.4,175.3 853.5,174.1 838.6,179.0 828.7,189.0 823.7,191.4 808.8,191.4 808.8,187.7 821.2,186.5 822.5,179.0 818.8,174.1"/>
<polygon fill="#CC8040" points="868.4,166.6 878.3,161.7 888.3,159.2 900.7,154.2 913.1,155.4 925.5,159.2 933.0,164.1 937.9,159.2 950.3,156.7 962.8,159.2 982.6,160.4 987.6,156.7 1002.5,156.7 1002.5,166.6 987.6,169.1 972.7,164.1 960.3,164.1 950.3,169.1 937.9,171.6 925.5,169.1 913.1,170.3 903.2,179.0 898.2,189.0 888.3,184.0 878.3,179.0 873.4,179.0"/>
<polygon fill="#CC8040" points="838.6,179.0 853.5,174.1 863.4,175.3 858.5,179.0 846.1,181.5"/>
<polygon fill="#FFFFFF" points="822.5,167.9 828.7,167.1 829.9,170.3 823.7,171.1"/>
<polygon fill="#FFFFFF" points="836.1,166.6 843.6,166.1 844.1,169.1 837.4,169.6"/>
<polygon fill="#FF00FF" points="888.3,169.1 895.7,164.1 903.2,161.7 910.6,164.1 903.2,166.6 895.7,169.1 893.2,176.6 888.3,177.8"/>
<polygon fill="#FF00FF" points="908.1,174.1 923.0,176.6 933.0,184.0 925.5,186.5 918.1,181.5 913.1,186.5 908.1,179.0"/>
<polygon fill="#FF00FF" points="952.8,169.1 960.3,161.7 965.2,169.1 969.0,174.1 962.8,175.3 959.0,181.5 955.3,175.3"/>
<polygon fill="#FF00FF" points="975.2,138.1 1002.5,137.3 1002.5,141.3 982.6,141.3"/>
<polygon fill="#F7B384" points="898.2,170.3 908.1,169.1 910.6,175.3 900.7,176.6"/>
<polygon fill="#CFCFCF" points="925.5,110.8 930.5,102.1 941.7,93.4 946.6,99.6 937.9,104.6 933.0,114.5 937.9,126.9 935.4,144.3 934.2,162.9 928.0,159.2 925.5,146.8 928.0,136.8 920.6,136.8 921.8,124.4 925.5,119.4"/>
<polygon fill="#007FFF" points="929.2,109.5 937.9,102.1 947.9,99.6 960.3,108.3 970.2,114.5 962.8,114.5 950.3,112.0 941.7,113.2 933.0,113.2"/>
<polygon fill="#007FFF" points="987.6,128.1 995.0,126.9 1002.5,131.9 1002.5,136.8 992.6,135.6 987.6,133.1"/>
<polygon fill="#9999DC" points="942.9,109.5 950.3,108.3 962.8,114.5 975.2,119.4 987.6,119.4 1002.5,121.9 1002.5,125.7 987.6,123.2 972.7,121.9 957.8,117.0 947.9,117.0 944.1,114.5"/>
<polygon fill="#9999DC" points="980.1,72.3 992.6,69.8 1002.5,64.8 1002.5,73.5 987.6,74.8"/>
<polygon fill="#CFCFCF" points="890.8,74.8 898.2,67.3 908.1,63.6 905.7,67.3 898.2,74.8 895.7,81.0"/>
<polygon fill="#FFFFFF" points="900.7,186.5 905.7,182.8 913.1,186.5 918.1,193.9 925.5,203.9 930.5,213.8 925.5,218.8 915.6,217.5 910.6,211.3 908.1,201.4 903.2,193.9"/>
<polygon fill="#FFFFFF" points="941.7,182.8 947.9,179.0 951.6,186.5 949.1,193.9 944.1,191.4"/>
<polygon fill="#00FFFF" points="944.1,191.9 950.3,191.4 951.6,196.4 946.6,197.7"/>
</g>
<clipPath id="c14"><polygon points="741.8,119.4 749.2,112.0 761.7,107.0 769.1,97.1 779.0,89.7 791.4,85.9 808.8,83.4 823.7,85.9 836.1,88.4 846.1,93.4 858.5,95.9 861.0,100.8 853.5,103.3 863.4,108.3 858.5,114.5 851.0,114.5 838.6,117.0 831.2,121.9 821.2,120.7 813.8,123.2 803.9,121.9 798.9,114.5 803.9,107.0 798.9,104.6 791.4,112.0 786.5,119.4 782.8,126.9 779.0,135.6 771.6,139.3 764.1,135.6 761.7,129.4 756.7,130.6 749.2,133.1 744.3,128.1"/><polygon points="825.7,121.6 812.4,126.6 802.5,128.2 812.4,129.9 812.4,139.0 805.8,139.0 803.3,136.5 800.0,138.1 799.2,143.1 792.6,147.2 785.9,148.9 779.3,149.7 769.4,148.9 762.8,149.7 761.1,145.6 762.8,139.0 759.4,136.5 754.5,139.8 752.8,149.7 746.2,153.9 741.2,158.0 734.6,161.3 729.7,166.3 718.1,167.9 707.3,172.6 718.1,176.2 719.7,182.8 718.9,189.4 718.1,193.6 704.8,192.8 694.9,191.1 689.9,192.8 690.8,202.7 689.9,209.3 691.6,215.9 701.5,217.6 713.1,215.9 719.7,212.6 724.7,207.7 729.7,201.0 735.4,195.2 741.2,191.1 749.5,189.4 756.1,187.8 762.8,192.8 769.4,199.4 776.0,205.2 782.6,209.3 786.8,211.0 781.0,217.6 777.7,215.9 782.6,211.8 787.6,207.7 794.2,206.0 789.2,204.3 782.6,199.4 777.7,192.8 772.7,187.8 768.6,185.3 769.4,183.7 774.3,184.5 779.3,187.8 785.9,194.4 792.6,201.0 797.5,206.0 800.8,209.3 804.1,214.3 807.4,219.2 810.8,215.9 812.4,211.0 815.7,209.3 814.1,206.0 817.4,202.7 824.0,201.9 827.3,202.7 829.0,199.4 828.1,192.8 829.0,186.1 832.3,182.8 838.9,179.5 845.5,181.2 848.8,182.8 847.2,185.3 852.1,187.0 855.4,184.5 862.1,179.5 867.0,182.8 875.3,189.4 883.6,196.1 881.9,200.2 870.3,199.4 858.8,197.7 845.5,200.2 837.2,201.9 829.0,200.2 827.3,204.3 829.0,212.6 833.9,217.6 845.5,219.2 855.4,217.6 862.1,219.2 861.2,225.9 860.4,235.8 858.8,242.4 860.4,262.3 1002.5,262.0 1002.5,82.2 987.6,84.7 975.2,79.7 960.3,77.2 945.4,72.3 941.7,77.2 942.9,88.4 933.0,85.9 918.1,87.2 900.7,89.7 888.3,92.1 878.3,89.7 868.4,93.4 863.4,99.6 863.4,108.3 858.5,114.5 851.0,114.5 838.6,117.0 831.2,121.9 821.2,120.7"/><polygon points="890.8,77.2 898.2,67.3 913.1,61.1 933.0,57.9 930.5,61.1 915.6,66.1 903.2,72.3 898.2,79.7"/></clipPath>
<g clip-path="url(#c14)">
<polygon fill="#CFCFCF" points="861.0,185.2 873.4,184.0 888.3,190.2 900.7,198.9 899.4,203.9 885.8,201.4 873.4,195.2 862.2,190.2"/>
<polygon fill="#735A41" points="863.4,176.1 875.9,177.0 879.6,185.2 870.9,184.0 864.7,181.5"/>
<polygon fill="#007FFF" points="864.7,182.0 870.9,182.8 871.4,185.2 865.4,184.7"/>
<polygon fill="#C2FFC2" points="937.9,69.8 952.8,73.5 962.8,77.2 975.2,79.7 1002.5,79.7 1002.5,107.0 962.8,105.0 949.1,99.6 943.4,89.7"/>
<polygon fill="#CFCFCF" points="925.5,110.8 930.5,102.1 941.7,92.6 947.9,99.6 937.9,104.6 933.0,114.5 937.9,126.9 935.4,144.3 934.2,162.9 928.0,159.2 925.5,146.8 928.0,136.8 920.6,136.8 921.8,124.4 925.5,119.4"/>
<polygon fill="#C2FFC2" points="863.4,92.6 888.3,87.7 918.1,84.2 943.4,85.2 945.4,99.6 937.9,95.9 913.1,98.3 888.3,100.8 868.4,102.1 863.0,105.0"/>
</g>
<g>
<polygon fill="#E8AA3C" points="756.2,198.9 760.4,197.7 761.2,208.8 756.7,210.1"/>
<polygon fill="#E8AA3C" points="756.7,190.2 759.7,189.0 760.2,195.2 757.2,195.9"/>
<polygon fill="#E8AA3C" points="772.8,215.0 786.5,212.6 789.0,215.0 781.5,220.0 774.1,217.5"/>
<polygon fill="#CFCFCF" points="813.8,231.2 826.2,230.7 826.2,232.7 814.3,233.2"/>
<polygon fill="#FFD817" points="848.6,223.7 858.5,221.2 858.0,224.2 849.8,225.7"/>
<polygon fill="#CFCFCF" points="851.0,223.2 857.2,221.7 856.5,223.2"/>
</g>
<clipPath id="c16"><polygon points="741.8,119.4 749.2,112.0 761.7,107.0 769.1,97.1 779.0,89.7 791.4,85.9 808.8,83.4 823.7,85.9 836.1,88.4 846.1,93.4 858.5,95.9 861.0,100.8 853.5,103.3 863.4,108.3 858.5,114.5 851.0,114.5 838.6,117.0 831.2,121.9 821.2,120.7 813.8,123.2 803.9,121.9 798.9,114.5 803.9,107.0 798.9,104.6 791.4,112.0 786.5,119.4 782.8,126.9 779.0,135.6 771.6,139.3 764.1,135.6 761.7,129.4 756.7,130.6 749.2,133.1 744.3,128.1"/><polygon points="825.7,121.6 812.4,126.6 802.5,128.2 812.4,129.9 812.4,139.0 805.8,139.0 803.3,136.5 800.0,138.1 799.2,143.1 792.6,147.2 785.9,148.9 779.3,149.7 769.4,148.9 762.8,149.7 761.1,145.6 762.8,139.0 759.4,136.5 754.5,139.8 752.8,149.7 746.2,153.9 741.2,158.0 734.6,161.3 729.7,166.3 718.1,167.9 707.3,172.6 718.1,176.2 719.7,182.8 718.9,189.4 718.1,193.6 704.8,192.8 694.9,191.1 689.9,192.8 690.8,202.7 689.9,209.3 691.6,215.9 701.5,217.6 713.1,215.9 719.7,212.6 724.7,207.7 729.7,201.0 735.4,195.2 741.2,191.1 749.5,189.4 756.1,187.8 762.8,192.8 769.4,199.4 776.0,205.2 782.6,209.3 786.8,211.0 781.0,217.6 777.7,215.9 782.6,211.8 787.6,207.7 794.2,206.0 789.2,204.3 782.6,199.4 777.7,192.8 772.7,187.8 768.6,185.3 769.4,183.7 774.3,184.5 779.3,187.8 785.9,194.4 792.6,201.0 797.5,206.0 800.8,209.3 804.1,214.3 807.4,219.2 810.8,215.9 812.4,211.0 815.7,209.3 814.1,206.0 817.4,202.7 824.0,201.9 827.3,202.7 829.0,199.4 828.1,192.8 829.0,186.1 832.3,182.8 838.9,179.5 845.5,181.2 848.8,182.8 847.2,185.3 852.1,187.0 855.4,184.5 862.1,179.5 867.0,182.8 875.3,189.4 883.6,196.1 881.9,200.2 870.3,199.4 858.8,197.7 845.5,200.2 837.2,201.9 829.0,200.2 827.3,204.3 829.0,212.6 833.9,217.6 845.5,219.2 855.4,217.6 862.1,219.2 861.2,225.9 860.4,235.8 858.8,242.4 860.4,262.3 1002.5,262.0 1002.5,82.2 987.6,84.7 975.2,79.7 960.3,77.2 945.4,72.3 941.7,77.2 942.9,88.4 933.0,85.9 918.1,87.2 900.7,89.7 888.3,92.1 878.3,89.7 868.4,93.4 863.4,99.6 863.4,108.3 858.5,114.5 851.0,114.5 838.6,117.0 831.2,121.9 821.2,120.7"/><polygon points="890.8,77.2 898.2,67.3 913.1,61.1 933.0,57.9 930.5,61.1 915.6,66.1 903.2,72.3 898.2,79.7"/></clipPath>
<g clip-path="url(#c16)">
<polygon fill="#FFD817" points="689.9,192.8 694.9,191.1 704.8,192.8 718.1,193.6 729.7,192.8 735.4,195.2 729.7,201.0 724.7,207.7 719.7,212.6 713.1,215.9 701.5,217.6 691.6,215.9 689.9,209.3 690.8,202.7"/>
<polygon fill="#735555" points="689.1,192.8 694.9,190.8 701.5,191.9 700.7,196.1 696.6,200.2 691.6,204.3 689.6,202.7"/>
<polygon fill="#FFA3A3" points="696.6,200.2 704.8,199.4 706.5,204.3 698.2,206.0"/>
<polygon fill="#7FFF7F" points="689.6,204.3 692.4,204.3 693.2,215.9 690.3,215.1"/>
<polygon fill="#E8AA3C" points="701.5,191.9 718.1,193.6 729.7,192.8 735.4,195.2 729.7,196.1 718.1,196.1 704.8,194.4"/>
<polygon fill="#CFCFCF" points="713.1,202.7 721.4,201.9 722.2,206.0 714.8,206.8"/>
<polygon fill="#FFA3A3" points="699.9,215.9 709.8,214.3 711.4,217.6 701.5,218.4"/>
<polygon fill="#FFA3A3" points="719.7,166.3 729.7,166.3 736.3,163.0 741.2,164.6 742.9,171.2 737.9,176.2 729.7,179.5 723.0,182.8 720.6,176.2 718.1,176.2 721.4,171.2"/>
<polygon fill="#7FFF7F" points="718.9,182.8 723.0,182.0 723.9,189.4 719.7,189.4"/>
<polygon fill="#FFD817" points="726.3,189.4 734.6,187.8 737.1,191.9 729.7,192.8"/>
<polygon fill="#FF00FF" points="719.1,180.3 720.4,180.3 720.4,182.8 719.1,182.8"/>
<polygon fill="#7FFF7F" points="741.2,158.0 746.2,153.9 752.8,151.4 762.8,152.2 766.1,155.5 757.8,157.2 751.2,158.8 744.6,159.7"/>
<polygon fill="#00FFFF" points="737.9,156.3 743.7,154.7 742.9,158.8 738.8,159.7"/>
<polygon fill="#FFA3A3" points="733.0,162.1 746.2,159.7 752.8,159.7 751.2,163.0 742.9,164.6 734.6,165.4"/>
<polygon fill="#9999DC" points="752.0,160.5 756.1,160.2 756.5,162.6 752.5,163.0"/>
<polygon fill="#735A41" points="762.8,157.2 767.7,157.2 768.6,161.3 763.6,161.6"/>
<polygon fill="#735A41" points="782.6,169.6 789.2,170.4 792.6,174.6 793.4,179.5 789.2,176.2 784.3,173.7"/>
<polygon fill="#FFA3A3" points="779.3,175.4 792.6,174.6 794.2,182.8 799.2,186.1 805.8,184.5 807.4,177.9 812.4,176.2 820.7,177.9 822.3,187.8 812.4,189.4 809.1,187.8 799.2,187.8 789.2,184.5 782.6,179.5"/>
<polygon fill="#E8914A" points="794.2,174.6 802.5,172.9 807.4,177.9 805.8,184.5 799.2,186.1 794.2,182.8"/>
<polygon fill="#CFCFCF" points="742.9,186.1 749.5,182.8 759.4,179.5 772.7,176.2 779.3,175.4 777.7,178.7 769.4,179.5 761.1,182.8 752.8,186.1 746.2,188.6"/>
<polygon fill="#7FFF7F" points="752.8,177.9 766.1,175.4 772.7,176.2 762.8,178.7 754.5,180.3"/>
<polygon fill="#FFA3A3" points="751.2,184.5 759.4,182.0 769.4,180.3 776.0,181.2 769.4,183.7 759.4,185.3"/>
<polygon fill="#00FFFF" points="766.9,185.3 770.2,185.3 770.2,187.8 767.4,187.8"/>
<polygon fill="#00FFFF" points="804.1,171.2 806.6,170.9 809.1,174.6 807.1,174.9"/>
<polygon fill="#FFA3A3" points="752.8,139.8 759.4,136.5 762.8,139.0 761.1,145.6 762.8,149.7 756.1,148.9 752.8,149.7"/>
<polygon fill="#FFA3A3" points="756.1,143.1 762.8,140.6 766.1,145.6 772.7,147.2 772.7,149.7 762.8,150.6 757.8,148.1"/>
<polygon fill="#FFA3A3" points="799.2,138.1 803.3,136.5 805.8,139.0 812.4,139.0 819.0,143.1 817.4,148.1 810.8,148.9 804.1,145.6 799.2,143.1"/>
<polygon fill="#007FFF" points="801.7,129.0 812.4,128.2 813.2,139.0 809.9,138.1 809.9,131.5 801.7,131.5"/>
<polygon fill="#FFA3A3" points="769.4,148.9 779.3,149.7 785.9,148.9 792.6,147.2 799.2,143.1 804.1,145.6 795.9,149.7 785.9,151.4 776.0,152.2 770.2,151.4"/>
<polygon fill="#00FFFF" points="799.2,143.1 801.7,143.1 801.7,145.6 799.5,145.6"/>
<polygon fill="#FFEBBE" points="777.7,153.0 785.9,151.4 795.9,149.7 804.1,145.6 810.8,148.9 817.4,148.1 819.0,143.1 812.4,139.0 812.4,126.6 825.7,121.6 845.5,116.6 862.1,113.3 872.0,116.6 921.7,115.0 921.7,143.1 903.4,144.8 893.5,145.6 891.9,149.7 886.9,149.7 885.2,144.8 873.7,149.7 862.1,151.4 853.8,154.7 845.5,159.7 835.6,163.0 825.7,164.6 817.4,166.3 805.8,166.3 795.9,164.6 787.6,163.0 781.0,158.0"/>
<polygon fill="#735A41" points="815.7,167.1 825.7,164.6 835.6,163.0 845.5,159.7 853.8,154.7 862.1,151.4 873.7,149.7 885.2,144.8 886.9,149.7 891.9,149.7 893.5,145.6 903.4,144.8 921.7,143.1 921.7,154.7 908.4,154.7 895.2,158.0 883.6,161.3 875.3,163.0 868.7,166.3 872.0,172.9 878.6,179.5 885.2,184.5 877.0,182.8 867.0,177.9 862.1,176.2 852.1,174.6 842.2,176.2 833.9,177.9 832.3,182.8 829.0,186.1 829.0,191.1 809.1,191.9 809.1,189.1 822.3,187.8 821.5,179.5 819.0,172.9"/>
<polygon fill="#FFFFFF" points="822.3,167.9 827.3,167.6 827.6,171.2 822.7,171.6"/>
<polygon fill="#FFFFFF" points="836.4,167.1 843.9,166.8 844.2,169.3 836.9,169.6"/>
<polygon fill="#CC8040" points="868.7,166.3 875.3,163.0 883.6,161.3 895.2,158.0 908.4,154.7 921.7,154.7 921.7,166.3 911.7,164.6 901.8,164.6 893.5,167.1 888.6,172.9 891.9,179.5 898.5,184.5 900.1,192.8 891.9,187.8 885.2,184.5 878.6,179.5 872.0,172.9"/>
<polygon fill="#CC8040" points="833.9,177.9 842.2,176.2 852.1,174.6 862.1,176.2 867.0,177.9 862.1,178.7 852.1,177.9 842.2,178.7"/>
<polygon fill="#735A41" points="847.2,182.8 855.4,183.7 852.1,186.5 848.0,185.3"/>
<polygon fill="#007FFF" points="865.4,182.8 873.7,184.5 875.3,187.0 867.0,185.3"/>
<polygon fill="#007FFF" points="877.0,193.6 882.8,194.4 883.6,196.9 878.6,196.1"/>
<polygon fill="#00FFFF" points="826.5,182.8 829.0,182.8 829.0,187.8 827.0,187.8"/>
<polygon fill="#7FFF7F" points="795.9,110.0 862.1,110.0 862.1,113.3 845.5,116.6 825.7,121.6 812.4,126.6 802.5,128.2 795.9,119.9"/>
<polygon fill="#FF00FF" points="887.7,164.6 893.5,161.3 901.8,161.6 910.1,163.0 908.4,165.4 900.1,164.6 893.5,167.1 890.2,172.9 891.9,177.9 888.6,176.2"/>
<polygon fill="#FFD817" points="893.5,167.1 900.1,164.6 908.4,165.4 918.3,169.6 921.7,176.2 911.7,179.5 901.8,176.2 895.2,172.9"/>
<polygon fill="#F7B384" points="898.5,170.4 908.4,169.6 911.7,174.6 903.4,176.2"/>
<polygon fill="#007FFF" points="903.4,161.6 911.7,162.1 912.6,167.1 908.4,165.4"/>
<polygon fill="#00FFFF" points="900.1,177.9 908.4,177.0 909.2,180.3 901.8,181.2"/>
<polygon fill="#CFCFCF" points="827.3,202.7 829.0,200.2 837.2,201.9 845.5,200.2 858.8,197.7 870.3,199.4 881.9,200.2 888.6,197.7 921.7,209.3 921.7,225.9 862.1,225.9 862.1,219.2 855.4,217.6 845.5,219.2 833.9,217.6 829.0,212.6"/>
<polygon fill="#E8AA3C" points="837.2,201.9 845.5,200.2 858.8,197.7 870.3,199.4 881.9,200.2 880.3,204.3 870.3,205.2 858.8,204.3 847.2,206.0 838.9,206.0"/>
<polygon fill="#FFD817" points="835.6,207.7 845.5,206.0 858.8,204.3 870.3,205.2 878.6,206.8 886.9,209.3 891.9,206.0 893.5,202.7 900.1,204.3 895.2,212.6 885.2,212.6 872.0,211.0 858.8,212.6 848.8,214.3 838.9,212.6"/>
<polygon fill="#00FFFF" points="848.8,209.0 851.3,209.0 851.3,212.3 849.2,212.3"/>
<polygon fill="#CFCFCF" points="795.9,202.7 805.8,202.7 817.4,202.7 814.1,206.0 815.7,209.3 812.4,211.0 810.8,215.9 807.4,219.2 804.1,214.3 800.8,209.3 797.5,206.0"/>
<polygon fill="#FFA3A3" points="804.1,209.3 810.8,208.5 812.4,215.9 807.4,217.6"/>
<polygon fill="#E8AA3C" points="782.6,182.8 795.9,187.8 802.5,192.8 807.4,199.4 805.8,202.7 799.2,202.7 792.6,196.1 785.9,189.4"/>
<polygon fill="#CFCFCF" points="779.3,187.8 785.9,194.4 792.6,201.0 795.9,202.7 794.2,204.3 787.6,199.4 781.0,192.8"/>
</g>
<clipPath id="c17"><polygon points="987.5,65.9 1004.9,62.2 1032.2,57.2 1052.1,56.0 1071.9,64.7 1062.0,72.1 1084.3,73.4 1109.2,73.4 1129.0,77.1 1148.9,80.8 1168.8,78.3 1188.6,78.3 1213.4,82.1 1238.3,85.8 1263.1,87.0 1287.9,87.0 1310.3,90.8 1325.2,99.4 1333.9,111.9 1322.7,111.9 1310.3,109.4 1302.8,114.3 1297.9,119.3 1300.3,136.7 1297.9,149.1 1291.7,159.0 1285.4,146.6 1278.0,139.2 1276.8,131.7 1283.0,126.8 1280.5,119.3 1263.1,124.3 1250.7,129.2 1228.3,130.5 1213.4,136.7 1208.5,146.6 1213.4,150.3 1225.9,149.1 1234.6,155.3 1235.8,161.5 1237.0,173.9 1230.8,188.8 1223.4,193.8 1215.9,195.0 1212.2,201.2 1208.5,206.2 1213.4,216.1 1218.4,218.6 1217.2,226.1 1211.0,227.3 1206.0,218.6 1201.0,208.7 1196.1,206.2 1188.6,201.2 1178.7,203.7 1176.2,213.7 1183.7,223.6 1186.1,233.5 1193.6,242.0 987.5,242.0"/></clipPath>
<g clip-path="url(#c17)">
<polygon fill="#C2FFC2" points="987.5,65.9 1004.9,62.2 1032.2,57.2 1052.1,56.0 1071.9,64.7 1062.0,72.1 1084.3,73.4 1109.2,73.4 1129.0,77.1 1148.9,80.8 1168.8,78.3 1188.6,78.3 1213.4,82.1 1238.3,85.8 1263.1,87.0 1287.9,87.0 1310.3,90.8 1325.2,99.4 1333.9,111.9 1322.7,111.9 1310.3,109.4 1302.8,114.3 1297.9,119.3 1300.3,136.7 1297.9,149.1 1291.7,159.0 1285.4,146.6 1278.0,139.2 1276.8,131.7 1283.0,126.8 1280.5,119.3 1263.1,124.3 1250.7,129.2 1228.3,130.5 1213.4,136.7 1208.5,146.6 1213.4,150.3 1225.9,149.1 1234.6,155.3 1235.8,161.5 1237.0,173.9 1230.8,188.8 1223.4,193.8 1215.9,195.0 1212.2,201.2 1208.5,206.2 1213.4,216.1 1218.4,218.6 1217.2,226.1 1211.0,227.3 1206.0,218.6 1201.0,208.7 1196.1,206.2 1188.6,201.2 1178.7,203.7 1176.2,213.7 1183.7,223.6 1186.1,233.5 1193.6,242.0 987.5,242.0"/>
<polygon fill="#CFCFCF" points="987.5,104.4 997.4,105.7 1022.3,104.4 1034.7,109.4 1052.1,113.1 1076.9,115.6 1089.3,113.1 1114.1,113.1 1139.0,116.8 1163.8,121.8 1188.6,129.2 1203.5,129.2 1211.0,124.3 1213.4,136.7 1208.5,146.6 1238.3,173.9 1213.4,242.0 987.5,242.0"/>
<polygon fill="#9999DC" points="990.0,68.4 1004.9,63.4 1032.2,59.7 1034.7,64.7 1014.8,68.4 997.4,73.4"/>
<polygon fill="#9999DC" points="1062.0,73.4 1084.3,70.9 1109.2,73.4 1124.1,78.3 1114.1,82.1 1089.3,80.8 1071.9,75.9"/>
<polygon fill="#9999DC" points="1148.9,80.8 1168.8,75.9 1188.6,78.3 1213.4,82.1 1238.3,85.8 1243.2,88.3 1213.4,85.8 1188.6,83.3 1163.8,82.1"/>
<polygon fill="#9999DC" points="1305.3,101.9 1320.2,100.7 1331.4,106.9 1322.7,110.6 1310.3,106.9"/>
<polygon fill="#9999DC" points="1295.4,109.4 1300.3,108.1 1305.3,115.6 1300.3,118.1"/>
<polygon fill="#CFCFCF" points="1017.3,85.8 1029.7,84.6 1052.1,82.1 1071.9,78.3 1089.3,80.8 1084.3,87.0 1071.9,89.5 1059.5,94.5 1049.6,101.9 1034.7,99.4 1024.8,94.5"/>
<polygon fill="#CFCFCF" points="1081.9,92.0 1096.8,87.0 1119.1,88.3 1129.0,92.0 1119.1,95.7 1099.2,94.5 1089.3,97.0"/>
<polygon fill="#CFCFCF" points="1129.0,79.6 1148.9,83.3 1163.8,92.0 1178.7,94.5 1196.1,101.9 1213.4,104.4 1238.3,108.1 1253.2,114.3 1238.3,116.8 1213.4,114.3 1193.6,111.9 1173.7,104.4 1158.8,99.4 1143.9,94.5 1131.5,87.0"/>
<polygon fill="#CFCFCF" points="1151.4,87.0 1168.8,85.8 1188.6,88.3 1213.4,92.0 1228.3,97.0 1248.2,104.4 1263.1,101.9 1287.9,94.5 1310.3,92.0 1322.7,99.4 1312.8,101.9 1295.4,106.9 1290.4,116.8 1280.5,119.3 1263.1,124.3 1253.2,126.8 1258.1,116.8 1243.2,111.9 1223.4,106.9 1203.5,99.4 1183.7,97.0 1163.8,94.5"/>
<polygon fill="#CFCFCF" points="1193.6,119.3 1208.5,114.3 1213.4,124.3 1211.0,136.7 1203.5,144.1 1196.1,139.2 1201.0,129.2"/>
<polygon fill="#CFCFCF" points="1283.0,119.3 1297.9,119.3 1300.3,136.7 1297.9,149.1 1291.7,159.0 1285.4,146.6 1278.0,139.2 1276.8,131.7"/>
<polygon fill="#9C9C9C" points="1287.9,136.7 1295.4,134.2 1299.1,141.7 1292.9,146.6 1287.9,144.1"/>
<polygon fill="#9999DC" points="1276.8,136.7 1280.5,135.4 1291.7,155.3 1289.2,157.8"/>
<polygon fill="#7FFF7F" points="1280.5,131.7 1284.2,129.2 1285.9,135.4 1281.7,138.7"/>
<polygon fill="#E8AA3C" points="1034.7,109.4 1052.1,113.1 1076.9,115.6 1089.3,113.1 1114.1,113.1 1139.0,116.8 1163.8,121.8 1188.6,129.2 1203.5,129.2 1211.0,121.8 1214.7,126.8 1211.0,136.7 1213.4,150.3 1218.4,164.0 1208.5,173.9 1201.0,169.0 1198.6,159.0 1196.1,146.6 1176.2,144.1 1163.8,139.2 1178.7,136.7 1188.6,134.2 1183.7,131.7 1163.8,129.2 1148.9,126.8 1129.0,124.3 1119.1,126.8 1106.7,126.8 1089.3,126.8 1064.5,119.3"/>
<polygon fill="#E8AA3C" points="1121.6,146.6 1139.0,141.7 1163.8,141.7 1188.6,144.1 1196.1,146.6 1198.6,154.1 1183.7,154.1 1163.8,151.6 1139.0,154.1 1124.1,155.3 1119.1,151.6"/>
<polygon fill="#E8AA3C" points="1111.7,131.7 1116.6,130.5 1119.1,135.4 1114.1,137.9"/>
<polygon fill="#E8AA3C" points="1121.6,126.8 1131.5,125.5 1134.0,129.2 1125.3,130.5"/>
<polygon fill="#FFEBBE" points="987.5,106.9 1022.3,104.4 1027.2,114.3 1039.7,121.8 1052.1,124.3 1064.5,129.2 1084.3,136.7 1099.2,149.1 1109.2,155.3 1104.2,157.8 1089.3,151.6 1071.9,144.1 1052.1,136.7 1034.7,136.7 1022.3,131.7 1004.9,129.2 987.5,126.8"/>
<polygon fill="#007FFF" points="997.4,108.1 1019.8,104.4 1023.5,114.3 1014.8,115.6 999.9,113.1"/>
<polygon fill="#007FFF" points="987.5,129.2 1004.9,128.0 1022.3,133.0 1023.5,139.2 1004.9,137.9 987.5,136.7"/>
<polygon fill="#FF00FF" points="987.5,137.9 1004.9,138.7 1022.3,139.7 1022.3,143.6 987.5,142.2"/>
<polygon fill="#7FFF7F" points="1021.0,121.8 1034.7,120.6 1039.7,125.5 1032.2,128.0"/>
<polygon fill="#9999DC" points="987.5,120.6 1002.4,121.8 1003.7,125.5 987.5,125.5"/>
<polygon fill="#735A41" points="987.5,142.2 1022.3,143.6 1027.2,149.1 1033.4,154.1 1027.2,159.0 1026.0,169.0 1014.8,159.0 1002.4,154.1 987.5,151.6"/>
<polygon fill="#735A41" points="1034.7,140.4 1044.6,137.9 1049.6,131.7 1054.6,136.7 1064.5,139.2 1067.0,142.9 1057.0,144.1 1044.6,144.1 1037.2,144.1"/>
<polygon fill="#CC8040" points="987.5,151.6 1002.4,154.1 1014.8,159.0 1026.0,169.0 1022.3,176.4 987.5,175.2"/>
<polygon fill="#CC8040" points="1054.6,169.0 1071.9,166.5 1084.3,169.0 1094.3,173.9 1084.3,178.9 1064.5,175.2"/>
<polygon fill="#CC8040" points="1096.8,171.4 1109.2,164.0 1114.1,171.4 1129.0,171.4 1139.0,161.5 1151.4,161.5 1168.8,166.5 1166.3,178.9 1148.9,183.9 1129.0,181.4 1109.2,178.9"/>
<polygon fill="#FFD817" points="987.5,175.2 1022.3,176.4 1039.7,178.9 1064.5,178.9 1084.3,181.4 1106.7,188.8 1129.0,183.9 1148.9,183.9 1143.9,193.8 1129.0,208.7 1124.1,216.1 1106.7,213.7 1084.3,208.7 1064.5,203.7 1039.7,208.7 1014.8,198.8 987.5,193.8"/>
<polygon fill="#CC8040" points="1125.3,211.2 1139.0,198.8 1151.4,191.3 1168.8,183.9 1168.8,193.8 1163.8,203.7 1151.4,211.2 1139.0,216.1 1129.0,217.4"/>
<polygon fill="#FFD817" points="1039.7,218.6 1064.5,216.1 1084.3,223.6 1089.3,233.5 1064.5,242.0 1039.7,242.0 1029.7,233.5"/>
<polygon fill="#FFFF00" points="1086.8,188.8 1099.2,191.3 1106.7,195.0 1096.8,195.0"/>
<polygon fill="#FFFF00" points="1009.9,208.7 1034.7,218.6 1059.5,211.2 1067.0,205.0 1064.5,209.9 1037.2,221.1 1012.3,212.4"/>
<polygon fill="#F7B384" points="999.9,181.4 1014.8,181.4 1017.3,188.8 1002.4,188.8"/>
<polygon fill="#F7B384" points="1019.8,206.2 1039.7,203.7 1054.6,206.2 1049.6,213.7 1029.7,216.1"/>
<polygon fill="#F7B384" points="1101.7,201.2 1114.1,200.0 1121.6,206.2 1111.7,209.9"/>
<polygon fill="#FF00FF" points="1065.7,196.3 1076.9,195.0 1085.6,200.0 1069.4,205.0 1065.7,203.7"/>
<polygon fill="#FF00FF" points="1081.9,216.1 1094.3,217.4 1094.3,220.6 1084.3,219.9"/>
<polygon fill="#E8AA3C" points="995.0,226.1 1004.9,223.6 1022.3,233.5 1014.8,242.0 999.9,242.0"/>
<polygon fill="#E8AA3C" points="1071.9,211.2 1081.9,211.2 1089.3,216.1 1079.4,218.6"/>
<polygon fill="#E8AA3C" points="1064.5,154.1 1074.4,152.8 1076.9,157.8 1067.0,159.0"/>
<polygon fill="#735A41" points="1171.2,191.3 1179.9,164.0 1188.6,169.0 1196.1,173.9 1199.8,181.4 1203.5,183.9 1201.0,193.8 1188.6,197.5 1178.7,193.8"/>
<polygon fill="#FFA3A3" points="1112.9,216.1 1129.0,217.4 1139.0,216.1 1146.4,208.7 1148.9,218.6 1143.9,228.6 1129.0,228.6 1121.6,221.1"/>
<polygon fill="#FFA3A3" points="1173.7,196.3 1178.7,195.0 1176.2,203.7 1166.3,211.2 1161.3,218.6 1161.3,228.6 1168.8,242.0 1158.8,242.0 1157.6,218.6 1163.8,206.2"/>
<polygon fill="#00FFFF" points="1176.2,200.0 1183.7,197.5 1188.6,200.0 1186.1,205.0 1178.7,205.0"/>
<polygon fill="#00FFFF" points="1163.8,211.2 1173.7,208.7 1171.2,216.1 1168.8,226.1 1183.7,233.5 1188.6,242.0 1178.7,238.5 1163.8,228.6 1162.6,218.6"/>
<polygon fill="#007FFF" points="1211.0,151.6 1218.4,155.3 1223.4,149.1 1234.6,155.3 1235.8,161.5 1228.3,164.0 1223.4,173.9 1213.4,178.9 1206.0,175.2 1208.5,169.0 1218.4,166.5 1215.9,159.0"/>
<polygon fill="#735A41" points="1206.0,178.9 1223.4,177.7 1220.9,188.8 1214.7,195.0 1208.5,191.3 1203.5,183.9"/>
<polygon fill="#E8AA3C" points="1197.3,188.8 1206.0,182.6 1213.4,186.3 1214.7,195.0 1208.5,203.7 1201.0,205.0 1193.6,201.2 1188.6,203.7 1183.7,201.2 1191.1,195.0"/>
<polygon fill="#E8AA3C" points="1166.3,218.6 1176.2,216.1 1182.4,218.6 1181.2,226.1 1171.2,227.3"/>
<polygon fill="#FFAA00" points="1201.0,208.7 1208.5,206.2 1213.4,216.1 1218.4,218.6 1217.2,226.1 1211.0,227.3 1206.0,218.6"/>
<polygon fill="#CFCFCF" points="1225.9,164.0 1235.8,161.5 1237.0,173.9 1230.8,188.8 1223.4,193.8 1218.4,191.3 1223.4,178.9"/>
<polygon fill="#66638C" points="1176.2,238.5 1181.2,231.0 1188.6,236.0 1193.6,242.0 1176.2,242.0"/>
<polygon fill="#FFAA00" points="1125.3,242.0 1134.0,232.3 1143.9,238.5 1151.4,242.0"/>
<polygon fill="#007F00" points="1136.5,233.0 1141.4,234.0 1148.9,239.7 1145.2,240.5"/>
<polygon fill="#FFFFFF" points="1109.2,144.1 1114.1,142.9 1115.4,149.1 1106.7,159.0 1103.0,157.8 1110.4,151.6"/>
</g>
<g>
<polygon fill="#dcdcdc" points="990.0,42.3 1004.9,44.8 1019.8,49.8 1034.7,52.3 1032.2,54.8 1014.8,53.5 997.4,48.6"/>
<polygon fill="#9999DC" points="1019.8,50.3 1034.7,51.8 1033.4,54.3 1022.3,52.8"/>
<polygon fill="#9999DC" points="1141.4,62.2 1158.8,61.0 1168.8,64.7 1188.6,65.9 1178.7,67.2 1163.8,68.4 1148.9,65.9"/>
<polygon fill="#CFCFCF" points="1234.6,149.1 1238.3,151.6 1245.7,166.5 1253.2,173.9 1248.2,171.4 1240.8,161.5"/>
<polygon fill="#CFCFCF" points="1249.4,193.8 1258.1,188.8 1265.6,191.3 1260.6,196.3 1253.2,197.5"/>
<polygon fill="#CFCFCF" points="1253.2,201.2 1259.4,205.0 1260.6,218.6 1253.2,226.1 1243.2,231.0 1235.8,233.5 1228.3,236.0 1235.8,229.8 1245.7,226.1 1253.2,218.6"/>
<polygon fill="#9C9C9C" points="1254.4,203.7 1259.4,206.2 1260.1,218.6 1255.7,221.1"/>
<polygon fill="#FFAA00" points="1223.4,228.6 1235.8,223.6 1238.3,227.3 1228.3,236.0 1223.4,234.8"/>
<polygon fill="#9C9C9C" points="1258.1,190.1 1264.3,191.3 1260.6,195.0"/>
</g>
<clipPath id="c19"><polygon points="937.5,232.1 1163.4,232.1 1163.4,242.0 1193.2,242.0 1195.7,249.4 1190.8,259.4 1183.3,269.3 1173.4,271.8 1163.4,274.3 1156.0,276.8 1146.1,281.7 1141.1,284.2 1143.6,294.1 1151.0,299.1 1157.2,306.6 1158.5,314.0 1153.5,321.4 1143.6,330.1 1138.6,323.9 1131.2,314.0 1123.7,304.1 1120.0,309.0 1121.2,323.9 1126.2,333.9 1131.2,343.8 1136.1,353.7 1138.6,359.9 1131.2,351.2 1123.7,341.3 1118.8,331.4 1115.0,328.9 1116.3,319.0 1113.8,304.1 1111.3,296.6 1103.9,294.1 1098.9,299.1 1093.9,289.2 1089.0,281.7 1086.5,276.8 1075.3,278.0 1071.6,274.3 1069.1,269.3 1066.6,279.2 1059.2,291.7 1049.2,296.6 1044.3,301.6 1040.6,314.0 1038.1,323.9 1033.1,332.6 1029.4,328.9 1021.9,314.0 1014.5,299.1 1010.8,286.7 1012.0,284.2 1002.1,281.7 994.6,274.3 989.7,269.3 984.7,265.6 964.8,265.6 945.0,263.1 937.5,261.9"/></clipPath>
<g clip-path="url(#c19)">
<polygon fill="#CFCFCF" points="937.5,232.1 1163.4,232.1 1163.4,242.0 1193.2,242.0 1195.7,249.4 1190.8,259.4 1183.3,269.3 1173.4,271.8 1163.4,274.3 1156.0,276.8 1146.1,281.7 1141.1,284.2 1143.6,294.1 1151.0,299.1 1157.2,306.6 1158.5,314.0 1153.5,321.4 1143.6,330.1 1138.6,323.9 1131.2,314.0 1123.7,304.1 1120.0,309.0 1121.2,323.9 1126.2,333.9 1131.2,343.8 1136.1,353.7 1138.6,359.9 1131.2,351.2 1123.7,341.3 1118.8,331.4 1115.0,328.9 1116.3,319.0 1113.8,304.1 1111.3,296.6 1103.9,294.1 1098.9,299.1 1093.9,289.2 1089.0,281.7 1086.5,276.8 1075.3,278.0 1071.6,274.3 1069.1,269.3 1066.6,279.2 1059.2,291.7 1049.2,296.6 1044.3,301.6 1040.6,314.0 1038.1,323.9 1033.1,332.6 1029.4,328.9 1021.9,314.0 1014.5,299.1 1010.8,286.7 1012.0,284.2 1002.1,281.7 994.6,274.3 989.7,269.3 984.7,265.6 964.8,265.6 945.0,263.1 937.5,261.9"/>
</g>
<clipPath id="c20"><polygon points="741.8,119.4 749.2,112.0 761.7,107.0 769.1,97.1 779.0,89.7 791.4,85.9 808.8,83.4 823.7,85.9 836.1,88.4 846.1,93.4 858.5,95.9 861.0,100.8 853.5,103.3 863.4,108.3 858.5,114.5 851.0,114.5 838.6,117.0 831.2,121.9 821.2,120.7 813.8,123.2 803.9,121.9 798.9,114.5 803.9,107.0 798.9,104.6 791.4,112.0 786.5,119.4 782.8,126.9 779.0,135.6 771.6,139.3 764.1,135.6 761.7,129.4 756.7,130.6 749.2,133.1 744.3,128.1"/><polygon points="825.7,121.6 812.4,126.6 802.5,128.2 812.4,129.9 812.4,139.0 805.8,139.0 803.3,136.5 800.0,138.1 799.2,143.1 792.6,147.2 785.9,148.9 779.3,149.7 769.4,148.9 762.8,149.7 761.1,145.6 762.8,139.0 759.4,136.5 754.5,139.8 752.8,149.7 746.2,153.9 741.2,158.0 734.6,161.3 729.7,166.3 718.1,167.9 707.3,172.6 718.1,176.2 719.7,182.8 718.9,189.4 718.1,193.6 704.8,192.8 694.9,191.1 689.9,192.8 690.8,202.7 689.9,209.3 691.6,215.9 701.5,217.6 713.1,215.9 719.7,212.6 724.7,207.7 729.7,201.0 735.4,195.2 741.2,191.1 749.5,189.4 756.1,187.8 762.8,192.8 769.4,199.4 776.0,205.2 782.6,209.3 786.8,211.0 781.0,217.6 777.7,215.9 782.6,211.8 787.6,207.7 794.2,206.0 789.2,204.3 782.6,199.4 777.7,192.8 772.7,187.8 768.6,185.3 769.4,183.7 774.3,184.5 779.3,187.8 785.9,194.4 792.6,201.0 797.5,206.0 800.8,209.3 804.1,214.3 807.4,219.2 810.8,215.9 812.4,211.0 815.7,209.3 814.1,206.0 817.4,202.7 824.0,201.9 827.3,202.7 829.0,199.4 828.1,192.8 829.0,186.1 832.3,182.8 838.9,179.5 845.5,181.2 848.8,182.8 847.2,185.3 852.1,187.0 855.4,184.5 862.1,179.5 867.0,182.8 875.3,189.4 883.6,196.1 881.9,200.2 870.3,199.4 858.8,197.7 845.5,200.2 837.2,201.9 829.0,200.2 827.3,204.3 829.0,212.6 833.9,217.6 845.5,219.2 855.4,217.6 862.1,219.2 861.2,225.9 860.4,235.8 858.8,242.4 860.4,262.3 1002.5,262.0 1002.5,82.2 987.6,84.7 975.2,79.7 960.3,77.2 945.4,72.3 941.7,77.2 942.9,88.4 933.0,85.9 918.1,87.2 900.7,89.7 888.3,92.1 878.3,89.7 868.4,93.4 863.4,99.6 863.4,108.3 858.5,114.5 851.0,114.5 838.6,117.0 831.2,121.9 821.2,120.7"/><polygon points="890.8,77.2 898.2,67.3 913.1,61.1 933.0,57.9 930.5,61.1 915.6,66.1 903.2,72.3 898.2,79.7"/><polygon points="987.5,65.9 1004.9,62.2 1032.2,57.2 1052.1,56.0 1071.9,64.7 1062.0,72.1 1084.3,73.4 1109.2,73.4 1129.0,77.1 1148.9,80.8 1168.8,78.3 1188.6,78.3 1213.4,82.1 1238.3,85.8 1263.1,87.0 1287.9,87.0 1310.3,90.8 1325.2,99.4 1333.9,111.9 1322.7,111.9 1310.3,109.4 1302.8,114.3 1297.9,119.3 1300.3,136.7 1297.9,149.1 1291.7,159.0 1285.4,146.6 1278.0,139.2 1276.8,131.7 1283.0,126.8 1280.5,119.3 1263.1,124.3 1250.7,129.2 1228.3,130.5 1213.4,136.7 1208.5,146.6 1213.4,150.3 1225.9,149.1 1234.6,155.3 1235.8,161.5 1237.0,173.9 1230.8,188.8 1223.4,193.8 1215.9,195.0 1212.2,201.2 1208.5,206.2 1213.4,216.1 1218.4,218.6 1217.2,226.1 1211.0,227.3 1206.0,218.6 1201.0,208.7 1196.1,206.2 1188.6,201.2 1178.7,203.7 1176.2,213.7 1183.7,223.6 1186.1,233.5 1193.6,242.0 987.5,242.0"/><polygon points="937.5,232.1 1163.4,232.1 1163.4,242.0 1193.2,242.0 1195.7,249.4 1190.8,259.4 1183.3,269.3 1173.4,271.8 1163.4,274.3 1156.0,276.8 1146.1,281.7 1141.1,284.2 1143.6,294.1 1151.0,299.1 1157.2,306.6 1158.5,314.0 1153.5,321.4 1143.6,330.1 1138.6,323.9 1131.2,314.0 1123.7,304.1 1120.0,309.0 1121.2,323.9 1126.2,333.9 1131.2,343.8 1136.1,353.7 1138.6,359.9 1131.2,351.2 1123.7,341.3 1118.8,331.4 1115.0,328.9 1116.3,319.0 1113.8,304.1 1111.3,296.6 1103.9,294.1 1098.9,299.1 1093.9,289.2 1089.0,281.7 1086.5,276.8 1075.3,278.0 1071.6,274.3 1069.1,269.3 1066.6,279.2 1059.2,291.7 1049.2,296.6 1044.3,301.6 1040.6,314.0 1038.1,323.9 1033.1,332.6 1029.4,328.9 1021.9,314.0 1014.5,299.1 1010.8,286.7 1012.0,284.2 1002.1,281.7 994.6,274.3 989.7,269.3 984.7,265.6 964.8,265.6 945.0,263.1 937.5,261.9"/></clipPath>
<g clip-path="url(#c20)">
<polygon fill="#CFCFCF" points="937.5,170.0 1021.9,170.0 1044.3,179.9 1069.1,184.9 1098.9,187.4 1128.7,184.9 1148.6,192.3 1163.4,202.3 1163.4,232.1 1188.3,244.5 1128.7,269.3 1093.9,269.3 1064.1,256.9 1014.5,232.1 989.7,244.5 937.5,244.5"/>
<polygon fill="#FFD817" points="937.5,170.0 1021.9,170.0 1044.3,179.9 1069.1,184.9 1098.9,187.4 1128.7,184.9 1148.6,192.3 1138.6,202.3 1123.7,209.7 1113.8,214.7 1098.9,212.2 1079.0,209.7 1059.2,207.2 1046.8,212.2 1034.3,217.2 1014.5,212.2 1002.1,219.7 989.7,227.1 994.6,239.5 1004.6,244.5 1019.4,251.9 1014.5,259.4 1002.1,264.3 989.7,269.3 984.7,265.6 964.8,265.6 945.0,263.1 937.5,261.9"/>
<polygon fill="#FFD817" points="1031.9,232.1 1044.3,224.6 1064.1,219.7 1079.0,222.1 1089.0,227.1 1093.9,234.6 1096.4,242.0 1089.0,247.0 1074.1,249.4 1059.2,247.0 1046.8,244.5 1036.8,239.5"/>
<polygon fill="#CFCFCF" points="940.0,219.7 949.9,214.7 964.8,219.7 974.8,229.6 984.7,234.6 989.7,244.5 984.7,251.9 974.8,254.4 964.8,251.9 954.9,244.5 945.0,244.5 940.0,251.9"/>
<polygon fill="#CFCFCF" points="974.8,184.9 989.7,187.4 1009.5,192.3 1021.9,202.3 1034.3,207.2 1044.3,204.8 1059.2,207.2 1079.0,209.7 1098.9,212.2 1113.8,214.7 1123.7,217.2 1128.7,227.1 1123.7,234.6 1113.8,244.5 1108.8,251.9 1098.9,251.9 1089.0,247.0 1096.4,242.0 1093.9,234.6 1089.0,227.1 1079.0,222.1 1064.1,219.7 1044.3,224.6 1031.9,232.1 1024.4,237.0 1014.5,232.1 1004.6,224.6 994.6,219.7 989.7,209.7 982.2,202.3 977.2,194.8"/>
<polygon fill="#CFCFCF" points="997.1,227.1 1014.5,232.1 1029.4,242.0 1044.3,249.4 1064.1,254.4 1084.0,255.7 1098.9,253.2 1113.8,254.4 1118.8,259.4 1113.8,264.3 1098.9,256.9 1079.0,259.4 1059.2,258.1 1039.3,254.4 1024.4,249.4 1009.5,242.0 999.6,234.6"/>
<polygon fill="#F7B384" points="940.0,194.8 954.9,192.3 972.3,194.8 979.7,202.3 972.3,209.7 962.3,214.7 949.9,212.2 940.0,217.2"/>
<polygon fill="#F7B384" points="962.3,229.6 977.2,232.1 979.7,242.0 969.8,244.5 963.6,239.5"/>
<polygon fill="#F7B384" points="992.1,251.9 1009.5,247.0 1019.4,251.9 1017.0,264.3 1007.0,269.3 997.1,266.8 992.1,259.4"/>
<polygon fill="#F7B384" points="1021.9,207.2 1039.3,203.5 1054.2,204.8 1059.2,209.7 1046.8,214.7 1034.3,217.2 1024.4,213.4"/>
<polygon fill="#F7B384" points="1103.9,202.3 1118.8,199.8 1123.7,204.8 1113.8,209.7 1106.3,207.2"/>
<polygon fill="#E8AA3C" points="987.2,251.9 997.1,242.0 1002.1,244.5 994.6,254.4 989.7,259.4"/>
<polygon fill="#E8AA3C" points="1021.9,256.9 1039.3,255.7 1056.7,258.1 1069.1,260.6 1064.1,266.8 1049.2,264.3 1034.3,263.1 1024.4,266.8 1017.0,264.3"/>
<polygon fill="#E8AA3C" points="1049.2,198.6 1064.1,196.1 1066.6,204.8 1054.2,204.8"/>
<polygon fill="#E8AA3C" points="1069.1,212.2 1079.0,211.0 1084.0,215.9 1074.1,218.4"/>
<polygon fill="#E8AA3C" points="1014.5,264.3 1024.4,266.8 1034.3,263.1 1049.2,264.3 1064.1,266.8 1069.1,269.3 1066.6,279.2 1059.2,269.3 1044.3,269.3 1034.3,266.8 1024.4,269.3 1012.0,276.8 1007.0,274.3"/>
<polygon fill="#E8AA3C" points="1069.1,256.9 1089.0,255.7 1098.9,256.9 1093.9,266.8 1079.0,264.3"/>
<polygon fill="#FF00FF" points="954.9,170.0 964.8,170.0 969.8,179.9 962.3,182.4 954.9,177.4"/>
<polygon fill="#FF00FF" points="1065.4,197.3 1079.0,194.8 1086.5,201.0 1071.6,204.8 1065.4,204.8"/>
<polygon fill="#FF00FF" points="1081.5,215.9 1093.9,217.2 1095.2,220.9 1084.0,219.7"/>
<polygon fill="#FF00FF" points="940.0,220.9 945.0,219.7 949.9,239.5 945.0,244.5 940.0,242.0"/>
<polygon fill="#FF00FF" points="957.4,235.8 963.6,234.6 964.8,244.5 959.9,245.7"/>
<polygon fill="#FF00FF" points="940.0,251.9 954.9,256.9 964.8,263.1 954.9,264.3 940.0,259.4"/>
<polygon fill="#FFFF00" points="1009.5,207.2 1024.4,213.4 1039.3,218.4 1054.2,213.4 1069.1,204.8 1064.1,209.7 1054.2,217.2 1039.3,220.9 1024.4,217.2 1010.8,209.7"/>
<polygon fill="#FFFF00" points="1086.5,188.6 1101.4,191.1 1106.3,194.8 1093.9,193.6"/>
<polygon fill="#FFFFFF" points="941.2,181.2 949.9,179.9 951.9,187.4 945.0,191.1 941.2,188.6"/>
<polygon fill="#00FFFF" points="942.5,191.1 949.9,191.1 948.7,197.3 943.7,196.1"/>
<polygon fill="#CC8040" points="1098.9,170.0 1168.4,170.0 1173.4,184.9 1168.4,194.8 1163.4,202.3 1158.5,212.2 1148.6,214.7 1138.6,217.2 1126.2,218.4 1123.7,209.7 1138.6,202.3 1148.6,192.3 1128.7,184.9 1113.8,179.9 1101.4,177.4"/>
<polygon fill="#CFCFCF" points="1113.8,170.0 1128.7,170.0 1123.7,175.0 1116.3,173.7"/>
<polygon fill="#735A41" points="1175.9,167.5 1203.2,167.5 1200.7,179.9 1198.2,189.9 1188.3,194.8 1178.3,194.8 1170.9,194.8 1173.4,184.9"/>
<polygon fill="#007FFF" points="1206.9,167.5 1225.5,167.5 1224.3,178.7 1215.6,181.2 1209.4,177.4"/>
<polygon fill="#E8AA3C" points="1198.2,184.9 1208.1,182.4 1215.6,187.4 1213.1,194.8 1208.1,201.0 1198.2,202.3 1190.8,199.8 1198.2,194.8"/>
<polygon fill="#735A41" points="1213.1,179.9 1223.0,177.4 1221.8,187.4 1215.6,189.9"/>
<polygon fill="#CFCFCF" points="1223.0,177.4 1233.0,175.0 1235.4,184.9 1225.5,192.3 1220.6,189.9"/>
<polygon fill="#FFA3A3" points="1113.8,215.9 1126.2,218.4 1138.6,217.2 1146.1,209.7 1148.6,214.7 1147.3,224.6 1141.1,229.6 1128.7,228.3 1121.2,223.4"/>
<polygon fill="#FFA3A3" points="1161.0,202.3 1168.4,197.3 1175.9,197.3 1178.3,204.8 1170.9,207.2 1163.4,209.7"/>
<polygon fill="#FFA3A3" points="1158.5,232.1 1168.4,229.6 1178.3,234.6 1173.4,242.0 1163.4,244.5 1156.0,242.0"/>
<polygon fill="#00FFFF" points="1175.9,199.8 1185.8,198.6 1188.3,203.5 1178.3,204.8"/>
<polygon fill="#00FFFF" points="1163.4,212.2 1170.9,209.7 1168.4,219.7 1178.3,227.1 1188.3,232.1 1188.3,235.8 1175.9,234.6 1163.4,229.6 1159.7,222.1"/>
<polygon fill="#E8AA3C" points="1165.9,219.7 1175.9,217.2 1183.3,219.7 1182.1,227.1 1170.9,227.1"/>
<polygon fill="#FFAA00" points="1093.9,266.8 1101.4,256.9 1108.8,251.9 1118.8,259.4 1123.7,244.5 1133.7,237.0 1138.6,232.1 1148.6,237.0 1158.5,244.5 1170.9,247.0 1188.3,244.5 1198.2,249.4 1193.2,259.4 1185.8,269.3 1173.4,273.0 1163.4,275.5 1156.0,278.0 1146.1,283.0 1141.1,284.2 1143.6,294.1 1151.0,299.1 1158.5,306.6 1159.7,314.0 1153.5,322.7 1143.6,331.4 1138.6,323.9 1131.2,314.0 1123.7,304.1 1120.0,309.0 1121.2,323.9 1126.2,333.9 1131.2,343.8 1136.1,353.7 1138.6,361.2 1131.2,351.2 1123.7,341.3 1118.8,331.4 1113.8,328.9 1115.0,319.0 1112.6,304.1 1110.1,296.6 1103.9,294.1 1098.9,299.1 1093.9,289.2 1096.4,279.2"/>
<polygon fill="#66638C" points="1178.3,234.6 1185.8,229.6 1193.2,242.0 1195.7,245.7 1188.3,244.5 1178.3,242.0 1170.9,247.0 1163.4,249.4 1158.5,251.9 1161.0,244.5 1173.4,242.0"/>
<polygon fill="#66638C" points="1163.4,274.3 1173.4,270.6 1183.3,268.8 1182.1,271.8 1173.4,273.8 1165.9,276.8"/>
<polygon fill="#E8AA3C" points="1123.7,242.0 1133.7,237.0 1138.6,233.3 1146.1,238.3 1143.6,244.5 1133.7,247.0 1126.2,249.4"/>
<polygon fill="#007F00" points="1137.4,233.3 1141.1,233.3 1149.8,239.5 1146.1,240.8"/>
<polygon fill="#007FFF" points="1125.0,244.5 1128.7,243.2 1132.4,249.4 1128.7,250.7"/>
<polygon fill="#007FFF" points="1156.0,249.4 1162.2,248.2 1163.4,253.2 1158.5,253.2"/>
<polygon fill="#FFA3A3" points="1170.9,249.4 1177.1,248.2 1178.3,254.4 1173.4,255.7"/>
<polygon fill="#5C0000" points="1095.9,275.5 1100.1,274.3 1103.9,286.7 1106.3,294.1 1102.6,295.4 1098.9,289.2"/>
<polygon fill="#CFCFCF" points="1086.5,269.3 1093.9,266.8 1096.4,279.2 1093.9,289.2 1089.0,281.7"/>
<polygon fill="#00FFFF" points="1098.9,296.6 1106.3,294.1 1111.3,297.9 1103.9,301.6"/>
<polygon fill="#00FFFF" points="1141.1,323.9 1148.6,321.4 1151.0,325.2 1143.6,331.4 1140.6,327.7"/>
<polygon fill="#00FFFF" points="1117.5,299.1 1121.2,297.9 1126.2,311.5 1122.5,311.5"/>
<polygon fill="#00FFFF" points="1133.7,311.5 1138.6,314.0 1146.1,319.0 1142.3,320.2 1136.1,316.5"/>
<polygon fill="#00FFFF" points="1137.4,281.7 1142.3,280.5 1142.3,285.4 1138.6,285.4"/>
<polygon fill="#D90000" points="1147.3,310.3 1152.3,309.0 1153.5,319.0 1148.6,320.2"/>
<polygon fill="#5C0000" points="1115.0,311.5 1117.5,311.5 1118.3,328.9 1115.8,328.9"/>
<polygon fill="#FF7378" points="1039.3,279.2 1044.3,269.3 1059.2,269.3 1066.6,279.2 1059.2,291.7 1049.2,296.6 1044.3,301.6 1040.6,314.0 1038.1,323.9 1033.1,332.6 1030.6,328.9 1026.9,316.5 1021.9,304.1 1031.9,304.1 1034.3,294.1 1039.3,289.2"/>
<polygon fill="#F7A5FA" points="1012.0,276.8 1021.9,266.8 1034.3,266.8 1044.3,269.3 1039.3,279.2 1039.3,289.2 1034.3,294.1 1031.9,304.1 1021.9,304.1 1017.0,291.7 1013.2,284.2"/>
<polygon fill="#FFA3A3" points="1029.4,263.1 1039.3,261.9 1045.5,265.6 1041.8,269.3 1031.9,268.1"/>
<polygon fill="#FFA3A3" points="1019.4,304.1 1026.9,302.8 1030.6,309.0 1024.4,309.0"/>
<polygon fill="#F7A5FA" points="993.4,269.3 1002.1,266.8 1009.5,271.8 1012.0,279.2 1002.1,283.0 995.9,279.2"/>
<polygon fill="#00FFFF" points="985.9,265.6 990.9,264.3 992.6,269.3 988.4,270.6"/>
<polygon fill="#007FFF" points="1065.4,259.4 1074.1,260.6 1081.5,268.1 1086.5,276.8 1075.3,278.0 1071.6,274.3 1069.1,269.3"/>
<polygon fill="#5C0000" points="1010.0,283.0 1014.5,281.7 1019.4,299.1 1026.9,316.5 1033.8,331.4 1030.6,333.4 1024.4,319.0 1017.0,304.1 1012.0,291.7"/>
<polygon fill="#007FFF" points="1037.6,320.2 1041.3,319.7 1041.3,323.9 1038.1,323.9"/>
</g>
<g>
<polygon fill="#FF7378" points="1041.8,327.7 1045.5,326.4 1049.2,333.9 1049.2,340.1 1044.3,341.3 1041.8,335.1"/>
<polygon fill="#FFAA00" points="1043.8,337.6 1048.7,336.8 1048.2,340.8 1044.3,341.3"/>
<polygon fill="#FFAA00" points="1152.3,287.9 1158.5,285.4 1161.0,289.2 1156.0,291.7"/>
<polygon fill="#FFAA00" points="1197.0,265.6 1200.2,264.3 1200.2,274.3 1197.0,275.5"/>
<polygon fill="#66638C" points="1195.2,268.1 1197.2,267.3 1197.2,274.3 1195.2,274.3"/>
<polygon fill="#5C0000" points="1199.4,291.7 1205.7,291.7 1206.9,301.6 1203.2,309.0 1209.4,312.8 1206.9,316.5 1200.7,309.0 1198.2,301.6"/>
<polygon fill="#FFAA00" points="1204.4,292.9 1207.6,294.1 1206.9,299.1 1205.2,299.1"/>
<polygon fill="#5C0000" points="1209.4,314.0 1218.1,311.5 1221.8,319.0 1219.3,328.9 1225.5,328.9 1228.0,336.3 1223.0,341.3 1215.6,338.8 1211.9,333.9 1213.1,326.4 1209.4,321.4"/>
<polygon fill="#FFAA00" points="1219.3,337.6 1224.3,336.8 1223.0,341.8 1219.3,340.8"/>
<polygon fill="#CFCFCF" points="1103.9,343.8 1107.6,343.8 1118.8,356.2 1131.2,371.1 1141.1,383.5 1143.6,388.5 1136.1,383.5 1126.2,371.1 1113.8,356.2"/>
<polygon fill="#FFAA00" points="1107.6,343.8 1113.8,346.3 1128.7,361.2 1141.1,376.1 1146.1,383.5 1141.1,383.5 1131.2,371.1 1118.8,356.2"/>
<polygon fill="#9999DC" points="1121.2,355.0 1128.7,361.2 1138.6,373.6 1146.1,381.0 1143.6,376.1 1133.7,363.7 1126.2,356.2"/>
<polygon fill="#9C9C9C" points="1133.7,378.6 1141.1,384.8 1143.6,388.5 1137.4,384.8"/>
<polygon fill="#7FFF7F" points="1143.6,372.3 1147.3,371.1 1148.1,374.8 1144.1,376.1"/>
<polygon fill="#FFAA00" points="1158.5,361.2 1168.4,353.7 1178.3,348.8 1188.3,341.3 1192.0,338.8 1195.7,343.8 1190.8,351.2 1195.7,361.2 1188.3,368.6 1185.8,378.6 1178.3,381.0 1170.9,376.1 1163.4,373.6 1159.7,368.6"/>
<polygon fill="#9999DC" points="1158.5,361.2 1163.4,358.7 1168.4,366.1 1175.9,368.6 1185.8,368.6 1188.3,371.1 1185.8,378.6 1178.3,381.0 1170.9,376.1 1163.4,373.6 1159.7,368.6"/>
<polygon fill="#9999DC" points="1178.3,347.5 1188.3,343.8 1190.8,348.8 1183.3,351.2"/>
<polygon fill="#FFAA00" points="1169.7,361.2 1183.3,358.7 1188.3,366.1 1175.9,367.4"/>
<polygon fill="#D90000" points="1165.9,367.4 1173.4,366.1 1172.1,370.6 1166.4,371.1"/>
<polygon fill="#D90000" points="1184.6,374.8 1187.0,375.6 1185.8,378.6"/>
<polygon fill="#FFAA00" points="1200.7,368.6 1208.1,366.1 1220.6,361.2 1223.0,363.7 1210.6,368.6 1206.9,373.6 1213.1,381.0 1210.6,386.0 1204.4,378.6 1203.2,386.0 1199.4,383.5 1200.7,376.1"/>
<polygon fill="#CFCFCF" points="1233.0,356.2 1236.7,355.0 1236.7,363.7 1234.2,363.7"/>
<polygon fill="#FFAA00" points="1225.5,378.6 1231.7,378.1 1231.7,381.0 1225.5,381.0"/>
<polygon fill="#FFAA00" points="1240.4,373.6 1244.1,373.1 1244.1,376.1 1240.4,376.1"/>
<polygon fill="#FFAA00" points="1146.1,389.7 1156.0,388.5 1163.4,391.0 1161.0,392.0 1146.1,392.0"/>
<polygon fill="#FFAA00" points="1223.0,229.6 1230.5,225.9 1237.9,223.4 1239.2,228.3 1231.7,232.1 1229.2,239.5 1225.5,237.0"/>
<polygon fill="#CFCFCF" points="1229.2,233.3 1234.2,232.1 1233.0,238.3 1229.2,239.5"/>
<polygon fill="#CFCFCF" points="1237.9,227.1 1247.9,219.7 1255.3,212.2 1254.1,202.3 1257.8,201.0 1261.5,212.2 1260.3,223.4 1252.8,227.1 1245.4,230.8 1240.4,232.1"/>
<polygon fill="#9C9C9C" points="1255.3,215.9 1260.3,214.7 1260.3,223.4 1255.8,224.1"/>
</g>
<g>
<polygon fill="#FFAA00" points="1198.6,207.2 1204.8,204.1 1212.1,208.3 1218.3,216.6 1218.3,224.8 1212.1,227.9 1207.9,222.8 1204.8,216.6 1200.7,211.4"/>
<polygon fill="#E8AA3C" points="1198.6,207.2 1204.8,204.1 1210.0,206.8 1205.9,210.3 1201.7,211.4"/>
<polygon fill="#CFCFCF" points="1252.4,201.0 1257.6,201.0 1261.7,209.3 1261.7,223.8 1253.4,226.9 1245.2,230.0 1241.0,232.1 1237.9,229.0 1244.1,221.7 1251.4,216.6 1253.4,209.3"/>
<polygon fill="#9C9C9C" points="1254.5,204.1 1259.7,205.2 1261.3,211.4 1256.6,211.4"/>
<polygon fill="#9C9C9C" points="1253.4,218.6 1261.3,216.6 1261.3,224.2 1254.5,225.4"/>
<polygon fill="#CFCFCF" points="1248.9,192.8 1253.4,186.6 1257.6,189.7 1266.9,190.7 1262.8,194.8 1257.6,197.9 1251.4,199.0"/>
<polygon fill="#9C9C9C" points="1257.6,192.8 1265.9,191.1 1262.8,195.2 1258.6,196.9"/>
<polygon fill="#FFAA00" points="1222.4,231.0 1228.6,225.9 1239.0,223.4 1239.4,226.9 1233.8,230.0 1230.7,238.3 1226.6,240.3 1223.4,235.2"/>
<polygon fill="#9C9C9C" points="1228.6,233.1 1241.0,228.3 1241.0,231.0 1232.8,234.6 1229.7,239.3"/>
<polygon fill="#CFCFCF" points="1245.2,170.0 1249.3,171.0 1255.5,179.3 1257.6,182.4 1254.5,181.4 1249.3,175.2"/>
</g>
<g>
<polygon fill="#FFAA00" points="1113.8,328.9 1119.3,323.4 1125.0,331.4 1131.2,341.3 1137.4,351.2 1140.1,361.2 1136.1,362.4 1129.9,353.7 1123.7,343.8 1117.5,335.1"/>
<polygon fill="#5C0000" points="1114.5,312.8 1117.5,312.0 1118.8,328.9 1115.3,329.4"/>
<polygon fill="#00FFFF" points="1098.9,296.1 1106.8,293.6 1112.6,297.9 1103.9,302.1"/>
</g>
<clipPath id="c24"><polygon points="1165.7,501.3 1169.4,483.9 1168.2,469.0 1170.7,454.1 1179.4,449.2 1191.8,445.4 1199.2,446.7 1206.7,436.8 1214.1,429.3 1221.6,424.3 1229.0,421.9 1239.0,419.4 1248.9,411.9 1263.8,411.9 1266.3,416.9 1261.3,424.3 1268.8,429.3 1276.2,434.3 1281.2,436.8 1283.7,426.8 1286.1,416.9 1288.6,409.4 1292.3,411.9 1294.8,421.9 1298.6,429.3 1301.0,436.8 1306.0,441.7 1311.0,451.7 1315.9,461.6 1322.1,465.3 1320.9,476.5 1315.9,488.9 1308.5,493.9 1303.5,503.8 1296.1,513.7 1283.7,516.2 1273.7,518.7 1263.8,518.7 1257.6,515.0 1255.1,506.3 1248.9,503.8 1243.9,501.3 1239.0,495.1 1229.0,491.4 1214.1,493.9 1199.2,498.8 1184.3,498.8 1174.4,503.8"/></clipPath>
<g clip-path="url(#c24)">
<polygon fill="#F7B384" points="1165.7,501.3 1169.4,483.9 1168.2,469.0 1170.7,454.1 1179.4,449.2 1191.8,445.4 1199.2,446.7 1206.7,436.8 1214.1,429.3 1221.6,424.3 1229.0,421.9 1239.0,419.4 1248.9,411.9 1263.8,411.9 1266.3,416.9 1261.3,424.3 1268.8,429.3 1276.2,434.3 1281.2,436.8 1283.7,426.8 1286.1,416.9 1288.6,409.4 1292.3,411.9 1294.8,421.9 1298.6,429.3 1301.0,436.8 1306.0,441.7 1311.0,451.7 1315.9,461.6 1322.1,465.3 1320.9,476.5 1315.9,488.9 1308.5,493.9 1303.5,503.8 1296.1,513.7 1283.7,516.2 1273.7,518.7 1263.8,518.7 1257.6,515.0 1255.1,506.3 1248.9,503.8 1243.9,501.3 1239.0,495.1 1229.0,491.4 1214.1,493.9 1199.2,498.8 1184.3,498.8 1174.4,503.8"/>
<polygon fill="#CFCFCF" points="1206.7,436.8 1214.1,429.3 1221.6,424.3 1229.0,421.9 1239.0,419.4 1243.9,426.8 1236.5,434.3 1229.0,439.2 1219.1,436.8"/>
<polygon fill="#CFCFCF" points="1248.9,409.4 1263.8,409.4 1267.5,416.9 1261.3,424.3 1268.8,429.3 1276.2,434.3 1273.7,439.2 1263.8,440.5 1258.8,431.8 1251.4,426.8 1246.4,419.4"/>
<polygon fill="#CFCFCF" points="1236.5,461.6 1243.9,455.4 1252.6,460.3 1239.0,462.8"/>
<polygon fill="#FF00FF" points="1237.7,416.9 1245.2,413.2 1250.1,415.7 1245.2,421.4 1240.2,421.4"/>
<polygon fill="#F7A5FA" points="1252.6,438.0 1263.8,440.5 1273.7,439.2 1281.2,436.8 1283.7,445.4 1288.6,444.2 1293.6,436.8 1298.6,431.8 1301.0,446.7 1308.5,454.1 1312.2,464.1 1311.0,479.0 1303.5,488.9 1293.6,488.9 1291.1,481.4 1286.1,476.5 1278.7,479.0 1271.2,479.0 1275.0,469.0 1263.8,465.3 1261.3,454.1 1256.3,444.2"/>
<polygon fill="#FFAA00" points="1281.2,436.8 1283.7,426.8 1286.1,416.9 1288.6,407.0 1292.3,411.9 1294.8,421.9 1298.6,429.3 1293.6,436.8 1288.6,444.2 1283.7,445.4"/>
<polygon fill="#FFA3A3" points="1298.6,429.3 1303.5,436.8 1308.5,441.7 1313.4,451.7 1318.4,461.6 1324.6,465.3 1323.4,476.5 1318.4,488.9 1311.0,493.9 1306.0,503.8 1298.6,515.0 1283.7,517.4 1273.7,517.4 1271.2,508.8 1278.7,501.3 1286.1,493.9 1291.1,488.9 1293.6,488.9 1303.5,488.9 1311.0,479.0 1312.2,464.1 1308.5,454.1 1301.0,446.7 1298.6,431.8"/>
<polygon fill="#FFA3A3" points="1271.2,479.0 1278.7,479.0 1286.1,476.5 1291.1,481.4 1293.6,488.9 1286.1,493.9 1278.7,501.3 1271.2,508.8 1263.8,503.8 1268.8,491.4 1263.8,483.9"/>
<polygon fill="#F7A5FA" points="1273.7,501.3 1281.2,496.3 1283.7,501.3 1278.7,507.5 1273.7,506.8"/>
<polygon fill="#FFA3A3" points="1165.7,469.0 1170.7,454.1 1179.4,451.7 1184.3,459.1 1176.9,466.6 1171.9,476.5 1167.0,479.0"/>
<polygon fill="#FFD817" points="1179.4,449.2 1191.8,445.4 1199.2,449.2 1196.8,454.1 1189.3,454.1 1181.9,452.9"/>
<polygon fill="#FFD817" points="1186.8,496.3 1199.2,488.9 1219.1,483.9 1239.0,481.4 1251.4,482.7 1253.9,491.4 1263.8,488.9 1273.7,491.4 1283.7,492.6 1278.7,498.8 1268.8,503.8 1258.8,503.8 1255.1,507.5 1248.9,505.0 1243.9,502.6 1239.0,496.3 1229.0,492.6 1214.1,495.1 1199.2,500.1"/>
<polygon fill="#E8AA3C" points="1184.3,452.9 1196.8,451.7 1200.5,456.6 1194.3,461.6 1186.8,460.3"/>
<polygon fill="#FCDFA7" points="1175.7,469.0 1184.3,462.8 1194.3,465.3 1204.2,474.0 1219.1,476.5 1239.0,475.2 1245.2,477.7 1243.9,482.7 1229.0,481.4 1214.1,483.9 1199.2,486.4 1189.3,485.2 1179.4,479.0"/>
<polygon fill="#FF00FF" points="1243.9,470.3 1251.4,467.8 1258.8,474.0 1263.8,479.0 1266.3,469.0 1271.2,464.1 1276.2,465.3 1275.0,472.8 1268.8,476.5 1263.8,485.2 1256.3,491.4 1251.4,492.6 1252.6,483.9 1245.2,481.4"/>
<polygon fill="#FF00FF" points="1256.3,508.8 1261.3,507.5 1263.8,515.0 1261.3,518.7 1256.3,516.2"/>
<polygon fill="#007F00" points="1163.2,502.6 1169.4,483.9 1174.4,485.2 1176.9,497.6 1189.3,498.8 1199.2,500.1 1184.3,501.3 1174.4,505.8"/>
<polygon fill="#007F00" points="1312.2,464.1 1318.4,460.3 1323.4,469.0 1322.1,479.0 1317.2,490.1 1308.5,493.4 1304.8,487.7 1308.5,480.2 1313.4,476.5"/>
<polygon fill="#007F00" points="1293.6,498.8 1301.0,498.8 1298.6,505.0 1294.8,503.8"/>
<polygon fill="#007F00" points="1260.1,507.5 1266.3,506.3 1268.8,513.7 1278.7,516.2 1293.6,515.0 1283.7,518.2 1273.7,519.9 1263.8,517.4"/>
</g>
<g>
<polygon fill="#E8AA3C" points="1268.8,528.6 1282.4,528.6 1281.2,534.8 1273.7,538.6 1269.3,536.1"/>
<polygon fill="#007F00" points="1275.0,528.6 1282.4,528.6 1281.2,533.6 1277.4,534.8"/>
<polygon fill="#7FFF7F" points="1269.3,534.8 1273.2,536.1 1272.5,538.6 1269.8,538.1"/>
<polygon fill="#5C0000" points="1278.2,531.6 1280.7,531.1 1279.9,533.6"/>
<polygon fill="#FFAA00" points="1386.7,505.0 1390.4,506.3 1391.7,513.7 1389.2,515.0"/>
<polygon fill="#9C9C9C" points="1384.2,519.9 1391.7,513.7 1401.6,515.0 1397.9,519.9 1387.9,523.7"/>
<polygon fill="#FFA3A3" points="1387.9,523.7 1397.9,519.9 1392.9,524.9 1386.7,529.9 1383.0,529.1"/>
<polygon fill="#CFCFCF" points="1343.2,547.2 1353.2,541.0 1365.6,533.6 1375.5,528.6 1379.2,528.6 1368.1,536.1 1355.7,543.5 1345.7,549.7"/>
<polygon fill="#E8AA3C" points="1345.7,549.7 1355.7,543.5 1368.1,536.1 1379.2,528.6 1375.5,534.8 1363.1,542.3 1350.7,550.5 1345.7,551.7"/>
<polygon fill="#E8AA3C" points="1261.3,382.1 1268.8,374.7 1276.2,372.2 1286.1,374.7 1298.6,379.7 1306.0,387.1 1313.4,394.6 1320.9,403.2 1323.4,407.0 1313.4,404.5 1306.0,397.0 1298.6,399.5 1288.6,402.0 1283.7,397.0 1276.2,398.3 1273.7,392.1 1268.8,384.6"/>
<polygon fill="#CFCFCF" points="1261.3,380.9 1268.8,375.9 1278.7,377.2 1286.1,383.4 1273.7,384.6 1263.8,383.4"/>
<polygon fill="#9999DC" points="1273.7,384.6 1281.2,385.9 1286.1,397.0 1276.2,398.3 1273.2,392.1"/>
<polygon fill="#FFAA00" points="1283.7,389.6 1296.1,389.6 1303.5,397.0 1298.6,399.5 1288.6,402.0 1283.7,397.0"/>
<polygon fill="#007FFF" points="1284.9,379.2 1298.6,380.9 1301.0,384.6 1288.6,382.6"/>
<polygon fill="#CFCFCF" points="1248.9,369.7 1256.3,367.2 1263.8,371.0 1261.3,375.9 1253.9,374.7 1250.1,372.2"/>
<polygon fill="#9999DC" points="1251.4,371.0 1256.3,372.2 1257.6,375.9 1252.6,375.2"/>
<polygon fill="#E8AA3C" points="1313.4,388.3 1323.4,387.1 1332.1,380.9 1333.3,383.4 1324.6,389.6 1314.7,390.8"/>
<polygon fill="#9C9C9C" points="1339.5,387.1 1342.0,388.3 1344.5,392.1 1342.7,392.1"/>
<polygon fill="#E8AA3C" points="1345.7,390.8 1349.4,393.3 1348.2,395.0"/>
<polygon fill="#E8AA3C" points="1355.7,397.0 1359.4,399.5 1358.1,400.8"/>
<polygon fill="#E8AA3C" points="1363.1,400.8 1366.8,404.5 1365.6,405.7"/>
<polygon fill="#E8AA3C" points="1384.2,425.6 1386.7,428.1 1385.4,429.3"/>
<polygon fill="#FFAA00" points="1370.6,446.2 1378.5,452.9 1377.0,454.6 1369.6,448.7"/>
<polygon fill="#E8AA3C" points="1423.9,435.5 1428.9,434.8 1428.9,437.3 1424.7,438.0"/>
<polygon fill="#E8AA3C" points="1431.4,431.3 1435.1,430.3 1435.1,431.8"/>
<polygon fill="#FFAA00" points="1143.4,390.8 1149.6,389.1 1162.0,393.3 1176.9,396.5 1189.3,399.0 1184.3,400.0 1171.9,399.0 1157.0,396.5 1145.9,394.1"/>
<polygon fill="#9C9C9C" points="1150.8,393.3 1162.0,394.1 1176.9,397.0 1178.1,399.5 1164.5,398.3 1152.1,395.8"/>
<polygon fill="#FFA3A3" points="1165.7,392.6 1171.9,393.3 1175.7,395.0 1167.0,395.0"/>
<polygon fill="#dcdcdc" points="1188.1,399.5 1199.2,399.0 1209.2,398.3 1227.8,396.5 1226.6,398.3 1209.2,400.8 1194.3,401.5"/>
<polygon fill="#CFCFCF" points="1214.1,404.5 1224.1,400.8 1229.0,400.0 1219.1,405.7"/>
<polygon fill="#FFA3A3" points="1196.8,402.7 1203.0,403.7 1202.2,405.7"/>
<polygon fill="#CFCFCF" points="1103.7,343.7 1109.9,344.9 1119.8,354.8 1129.7,367.2 1139.7,377.2 1144.6,383.4 1142.1,387.1 1134.7,383.4 1124.8,372.2 1114.8,359.8 1107.4,351.1"/>
<polygon fill="#9C9C9C" points="1127.2,369.7 1139.7,380.9 1143.4,386.6 1138.4,384.6 1129.7,374.7"/>
<polygon fill="#FFAA00" points="1108.6,346.1 1114.8,347.4 1127.2,362.3 1139.7,377.2 1144.6,383.4 1139.7,379.7 1129.7,369.7 1119.8,357.3"/>
<polygon fill="#9999DC" points="1124.8,354.8 1132.2,359.8 1139.7,369.7 1145.9,375.9 1143.4,379.7 1137.2,373.4 1129.7,364.8"/>
<polygon fill="#FFAA00" points="1114.8,330.0 1122.3,332.5 1132.2,344.9 1137.2,357.3 1133.4,356.1 1127.2,344.9 1119.8,337.4"/>
<polygon fill="#7FFF7F" points="1143.4,372.2 1148.3,371.7 1148.3,375.9 1144.1,376.7"/>
<polygon fill="#FFAA00" points="1158.3,362.3 1164.5,357.3 1174.4,352.3 1184.3,344.9 1190.6,337.4 1194.3,342.4 1196.8,347.4 1191.8,354.8 1196.8,359.8 1189.3,367.2 1185.6,378.4 1181.9,380.9 1176.9,378.4 1169.4,377.2 1162.0,372.2 1159.0,367.2"/>
<polygon fill="#9999DC" points="1158.3,362.3 1164.5,361.0 1168.2,367.2 1174.4,371.0 1183.1,369.7 1188.1,372.2 1185.6,378.4 1181.9,380.9 1176.9,378.4 1169.4,377.2 1162.0,372.2"/>
<polygon fill="#9999DC" points="1167.0,354.8 1174.4,352.3 1176.9,354.8 1169.4,358.6"/>
<polygon fill="#D90000" points="1165.7,367.7 1173.2,366.7 1173.2,371.0 1166.5,371.0"/>
<polygon fill="#D90000" points="1183.1,375.9 1186.8,374.7 1185.6,378.4"/>
<polygon fill="#FFAA00" points="1198.0,375.9 1201.7,367.2 1209.2,363.5 1221.6,359.8 1222.8,362.3 1211.7,367.2 1206.7,371.0 1214.1,375.9 1211.7,385.9 1207.9,379.7 1204.2,378.4 1203.0,387.1 1199.2,385.9"/>
<polygon fill="#CFCFCF" points="1232.8,356.1 1236.5,354.8 1236.5,364.8 1233.5,364.8"/>
<polygon fill="#FFAA00" points="1225.3,378.4 1231.5,377.7 1231.5,379.7 1226.1,380.4"/>
<polygon fill="#FFAA00" points="1236.5,377.2 1243.9,376.7 1243.9,378.7 1237.0,379.2"/>
<polygon fill="#FFAA00" points="1243.9,367.2 1248.9,366.7 1255.1,369.7 1248.9,369.7"/>
<polygon fill="#5C0000" points="1209.2,333.7 1216.6,330.0 1226.6,330.0 1227.8,336.2 1224.1,341.2 1219.1,337.4 1212.9,338.7"/>
<polygon fill="#FFAA00" points="1219.1,336.2 1224.1,337.0 1223.6,341.2 1219.6,339.9"/>
</g>
<g>
<polygon fill="#E1E1E1" points="242.0,680.0 252.0,674.0 280.0,666.0 304.0,662.8 324.0,658.0 340.0,661.2 368.0,662.0 392.0,664.0 400.0,654.0 416.0,653.2 432.0,658.0 456.0,658.8 476.0,656.0 486.0,646.0 494.0,633.2 508.0,624.0 520.0,616.0 534.0,617.2 526.0,622.8 514.0,630.0 502.0,636.0 498.0,644.0 508.0,650.0 506.0,656.0 520.0,654.0 530.0,650.0 534.0,660.0 520.0,668.0 504.0,670.0 488.0,672.0 476.0,676.0 496.0,684.0 520.0,686.0 544.0,690.0 562.0,694.8 584.0,690.0 616.0,684.0 640.0,680.0 618.0,676.0 632.0,670.0 660.0,666.0 680.0,654.0 692.0,650.0 712.0,649.2 736.0,646.0 760.0,645.2 784.0,644.0 784.0,734.0 200.0,734.0 200.0,690.0 224.0,694.8 244.0,702.8 264.0,698.0 252.0,688.0"/>
<polygon fill="#FFFFFF" points="248.0,702.4 300.0,705.2 356.0,703.6 356.0,705.2 300.0,707.2 248.0,704.4"/>
<polygon fill="#E1E1E1" points="740.0,646.0 780.0,645.2 820.0,642.0 836.0,638.0 848.0,642.0 868.0,636.0 892.0,629.2 908.0,628.0 916.0,632.0 940.0,633.2 954.0,634.8 948.0,644.0 940.0,653.2 956.0,646.0 976.0,638.0 996.0,633.2 1020.0,630.0 1044.0,630.0 1068.0,626.8 1088.0,630.0 1108.0,628.0 1132.0,630.0 1156.0,630.0 1176.0,626.8 1180.0,630.0 1204.0,634.0 1228.0,640.0 1252.0,644.0 1270.0,650.0 1256.0,656.0 1236.0,662.0 1220.0,670.0 1216.0,676.0 1200.0,682.0 1184.0,686.0 1184.0,694.0 1200.0,700.0 1212.0,700.0 1180.0,718.0 1140.0,734.0 740.0,734.0"/>
</g>
<clipPath id="c27"><polygon points="507.5,52.3 518.7,49.8 533.6,44.8 546.0,39.9 563.4,36.1 578.3,36.9 593.2,34.9 615.5,31.9 640.3,31.9 662.7,34.9 677.6,38.6 687.5,39.9 675.1,43.6 667.7,47.3 668.9,57.2 662.7,64.7 660.2,72.1 652.8,78.3 647.8,83.3 635.4,85.8 627.9,88.3 623.0,92.0 613.0,95.7 603.1,101.9 588.2,106.9 580.8,115.6 575.8,125.5 568.3,125.5 560.9,121.8 554.7,115.6 553.4,106.9 546.0,101.9 543.5,87.0 548.5,75.9 546.0,69.7 541.0,62.2 528.6,61.0 513.7,59.7"/></clipPath>
<g clip-path="url(#c27)">
<polygon fill="#C2FFC2" points="507.5,52.3 518.7,49.8 533.6,44.8 546.0,39.9 563.4,36.1 578.3,36.9 593.2,34.9 615.5,31.9 640.3,31.9 662.7,34.9 677.6,38.6 687.5,39.9 675.1,43.6 667.7,47.3 668.9,57.2 662.7,64.7 660.2,72.1 652.8,78.3 647.8,83.3 635.4,85.8 627.9,88.3 623.0,92.0 613.0,95.7 603.1,101.9 588.2,106.9 580.8,115.6 575.8,125.5 568.3,125.5 560.9,121.8 554.7,115.6 553.4,106.9 546.0,101.9 543.5,87.0 548.5,75.9 546.0,69.7 541.0,62.2 528.6,61.0 513.7,59.7"/>
<polygon fill="#E2E2FA" points="511.2,53.5 528.6,47.3 548.5,42.3 578.3,38.6 615.5,36.1 652.8,37.4 670.1,42.3 665.2,47.3 666.4,57.2 660.2,64.7 655.2,73.4 645.3,79.6 627.9,85.8 613.0,93.2 600.6,100.7 585.7,105.7 578.3,114.3 574.6,123.0 565.9,120.6 558.4,115.6 557.2,105.7 551.0,99.4 563.4,89.5 563.4,79.6 553.4,73.4 548.5,67.2 543.5,61.0 528.6,59.7 513.7,57.2"/>
</g>
<clipPath id="c28"><polygon points="859.0,237.9 860.6,229.7 862.3,218.9 945.9,218.9 945.9,259.8 939.2,258.1 929.3,253.2 919.4,246.5 912.8,244.1 911.1,245.4 916.1,249.5 920.2,256.1 922.7,262.8 927.7,267.7 935.9,267.7 942.6,266.1 944.2,261.9 945.9,267.7 952.5,272.7 958.3,276.0 952.5,284.3 947.5,290.9 939.2,295.9 929.3,302.5 916.1,307.4 904.5,311.6 896.2,314.1 894.6,307.4 886.3,292.6 878.0,279.3 868.1,262.8 860.6,249.5 859.8,249.5 854.8,254.5 849.9,247.9 849.0,246.2"/><polygon points="912.8,244.1 919.4,246.5 929.3,253.2 939.2,258.1 945.9,259.8 955.8,263.1 965.7,264.7 979.0,263.6 985.6,264.4 988.9,269.4 993.0,269.4 995.5,277.7 1008.8,279.3 1012.1,282.6 1012.1,218.9 912.8,218.9"/></clipPath>
<g clip-path="url(#c28)">
<polygon fill="#FFD817" points="859.0,237.9 860.6,229.7 862.3,218.9 945.9,218.9 945.9,259.8 939.2,258.1 929.3,253.2 919.4,246.5 912.8,244.1 911.1,245.4 916.1,249.5 920.2,256.1 922.7,262.8 927.7,267.7 935.9,267.7 942.6,266.1 944.2,261.9 945.9,267.7 952.5,272.7 958.3,276.0 952.5,284.3 947.5,290.9 939.2,295.9 929.3,302.5 916.1,307.4 904.5,311.6 896.2,314.1 894.6,307.4 886.3,292.6 878.0,279.3 868.1,262.8 860.6,249.5 859.8,249.5 854.8,254.5 849.9,247.9 849.0,246.2"/>
<polygon fill="#CFCFCF" points="912.8,244.1 919.4,246.5 929.3,253.2 939.2,258.1 945.9,259.8 955.8,263.1 965.7,264.7 979.0,263.6 985.6,264.4 988.9,269.4 993.0,269.4 995.5,277.7 1008.8,279.3 1012.1,282.6 1012.1,218.9 912.8,218.9"/>
</g>
<clipPath id="c29"><polygon points="741.8,119.4 749.2,112.0 761.7,107.0 769.1,97.1 779.0,89.7 791.4,85.9 808.8,83.4 823.7,85.9 836.1,88.4 846.1,93.4 858.5,95.9 861.0,100.8 853.5,103.3 863.4,108.3 858.5,114.5 851.0,114.5 838.6,117.0 831.2,121.9 821.2,120.7 813.8,123.2 803.9,121.9 798.9,114.5 803.9,107.0 798.9,104.6 791.4,112.0 786.5,119.4 782.8,126.9 779.0,135.6 771.6,139.3 764.1,135.6 761.7,129.4 756.7,130.6 749.2,133.1 744.3,128.1"/><polygon points="825.7,121.6 812.4,126.6 802.5,128.2 812.4,129.9 812.4,139.0 805.8,139.0 803.3,136.5 800.0,138.1 799.2,143.1 792.6,147.2 785.9,148.9 779.3,149.7 769.4,148.9 762.8,149.7 761.1,145.6 762.8,139.0 759.4,136.5 754.5,139.8 752.8,149.7 746.2,153.9 741.2,158.0 734.6,161.3 729.7,166.3 718.1,167.9 707.3,172.6 718.1,176.2 719.7,182.8 718.9,189.4 718.1,193.6 704.8,192.8 694.9,191.1 689.9,192.8 690.8,202.7 689.9,209.3 691.6,215.9 701.5,217.6 713.1,215.9 719.7,212.6 724.7,207.7 729.7,201.0 735.4,195.2 741.2,191.1 749.5,189.4 756.1,187.8 762.8,192.8 769.4,199.4 776.0,205.2 782.6,209.3 786.8,211.0 781.0,217.6 777.7,215.9 782.6,211.8 787.6,207.7 794.2,206.0 789.2,204.3 782.6,199.4 777.7,192.8 772.7,187.8 768.6,185.3 769.4,183.7 774.3,184.5 779.3,187.8 785.9,194.4 792.6,201.0 797.5,206.0 800.8,209.3 804.1,214.3 807.4,219.2 810.8,215.9 812.4,211.0 815.7,209.3 814.1,206.0 817.4,202.7 824.0,201.9 827.3,202.7 829.0,199.4 828.1,192.8 829.0,186.1 832.3,182.8 838.9,179.5 845.5,181.2 848.8,182.8 847.2,185.3 852.1,187.0 855.4,184.5 862.1,179.5 867.0,182.8 875.3,189.4 883.6,196.1 881.9,200.2 870.3,199.4 858.8,197.7 845.5,200.2 837.2,201.9 829.0,200.2 827.3,204.3 829.0,212.6 833.9,217.6 845.5,219.2 855.4,217.6 862.1,219.2 861.2,225.9 860.4,235.8 858.8,242.4 860.4,262.3 1002.5,262.0 1002.5,82.2 987.6,84.7 975.2,79.7 960.3,77.2 945.4,72.3 941.7,77.2 942.9,88.4 933.0,85.9 918.1,87.2 900.7,89.7 888.3,92.1 878.3,89.7 868.4,93.4 863.4,99.6 863.4,108.3 858.5,114.5 851.0,114.5 838.6,117.0 831.2,121.9 821.2,120.7"/><polygon points="890.8,77.2 898.2,67.3 913.1,61.1 933.0,57.9 930.5,61.1 915.6,66.1 903.2,72.3 898.2,79.7"/><polygon points="987.5,65.9 1004.9,62.2 1032.2,57.2 1052.1,56.0 1071.9,64.7 1062.0,72.1 1084.3,73.4 1109.2,73.4 1129.0,77.1 1148.9,80.8 1168.8,78.3 1188.6,78.3 1213.4,82.1 1238.3,85.8 1263.1,87.0 1287.9,87.0 1310.3,90.8 1325.2,99.4 1333.9,111.9 1322.7,111.9 1310.3,109.4 1302.8,114.3 1297.9,119.3 1300.3,136.7 1297.9,149.1 1291.7,159.0 1285.4,146.6 1278.0,139.2 1276.8,131.7 1283.0,126.8 1280.5,119.3 1263.1,124.3 1250.7,129.2 1228.3,130.5 1213.4,136.7 1208.5,146.6 1213.4,150.3 1225.9,149.1 1234.6,155.3 1235.8,161.5 1237.0,173.9 1230.8,188.8 1223.4,193.8 1215.9,195.0 1212.2,201.2 1208.5,206.2 1213.4,216.1 1218.4,218.6 1217.2,226.1 1211.0,227.3 1206.0,218.6 1201.0,208.7 1196.1,206.2 1188.6,201.2 1178.7,203.7 1176.2,213.7 1183.7,223.6 1186.1,233.5 1193.6,242.0 987.5,242.0"/><polygon points="937.5,232.1 1163.4,232.1 1163.4,242.0 1193.2,242.0 1195.7,249.4 1190.8,259.4 1183.3,269.3 1173.4,271.8 1163.4,274.3 1156.0,276.8 1146.1,281.7 1141.1,284.2 1143.6,294.1 1151.0,299.1 1157.2,306.6 1158.5,314.0 1153.5,321.4 1143.6,330.1 1138.6,323.9 1131.2,314.0 1123.7,304.1 1120.0,309.0 1121.2,323.9 1126.2,333.9 1131.2,343.8 1136.1,353.7 1138.6,359.9 1131.2,351.2 1123.7,341.3 1118.8,331.4 1115.0,328.9 1116.3,319.0 1113.8,304.1 1111.3,296.6 1103.9,294.1 1098.9,299.1 1093.9,289.2 1089.0,281.7 1086.5,276.8 1075.3,278.0 1071.6,274.3 1069.1,269.3 1066.6,279.2 1059.2,291.7 1049.2,296.6 1044.3,301.6 1040.6,314.0 1038.1,323.9 1033.1,332.6 1029.4,328.9 1021.9,314.0 1014.5,299.1 1010.8,286.7 1012.0,284.2 1002.1,281.7 994.6,274.3 989.7,269.3 984.7,265.6 964.8,265.6 945.0,263.1 937.5,261.9"/><polygon points="859.0,237.9 860.6,229.7 862.3,218.9 945.9,218.9 945.9,259.8 939.2,258.1 929.3,253.2 919.4,246.5 912.8,244.1 911.1,245.4 916.1,249.5 920.2,256.1 922.7,262.8 927.7,267.7 935.9,267.7 942.6,266.1 944.2,261.9 945.9,267.7 952.5,272.7 958.3,276.0 952.5,284.3 947.5,290.9 939.2,295.9 929.3,302.5 916.1,307.4 904.5,311.6 896.2,314.1 894.6,307.4 886.3,292.6 878.0,279.3 868.1,262.8 860.6,249.5 859.8,249.5 854.8,254.5 849.9,247.9 849.0,246.2"/><polygon points="912.8,244.1 919.4,246.5 929.3,253.2 939.2,258.1 945.9,259.8 955.8,263.1 965.7,264.7 979.0,263.6 985.6,264.4 988.9,269.4 993.0,269.4 995.5,277.7 1008.8,279.3 1012.1,282.6 1012.1,218.9 912.8,218.9"/></clipPath>
<g clip-path="url(#c29)">
<polygon fill="#CFCFCF" points="833.1,199.6 892.7,199.6 899.3,194.6 905.9,189.7 915.9,197.9 914.2,209.5 922.5,216.1 930.8,217.8 932.4,219.4 942.3,221.1 945.7,229.4 950.6,237.7 952.3,245.9 958.9,252.6 972.1,255.9 972.1,265.8 955.6,262.5 915.9,247.6 892.7,229.4 869.5,217.8 862.9,219.4 833.1,219.4"/>
<polygon fill="#FFD817" points="838.1,205.4 849.7,202.9 866.2,203.7 879.4,202.1 889.4,203.7 882.8,209.5 869.5,211.2 856.3,212.8 846.3,211.2 839.7,209.5"/>
<polygon fill="#E8AA3C" points="848.0,199.9 866.2,199.3 881.1,200.6 877.8,203.7 866.2,203.7 849.7,203.7"/>
<polygon fill="#FFD817" points="892.7,201.2 902.6,200.4 907.6,204.6 899.3,206.2"/>
<polygon fill="#FFD817" points="862.9,219.4 869.5,217.8 892.7,229.4 915.9,247.6 925.8,262.5 925.8,288.0 886.1,288.0 872.8,269.1 862.9,255.9 857.9,245.9 860.4,232.7"/>
<polygon fill="#CFCFCF" points="860.9,222.8 865.4,221.1 867.9,232.7 866.2,242.6 862.1,245.9 859.6,239.3"/>
<polygon fill="#FFFF00" points="871.2,222.8 881.1,221.1 892.7,222.8 897.7,227.7 892.7,230.2 882.8,229.4 872.8,227.7"/>
<polygon fill="#F7B384" points="862.9,245.9 872.8,245.9 882.8,250.9 884.4,255.9 877.8,258.3 867.9,255.9 863.7,250.9"/>
<polygon fill="#FFA3A3" points="859.6,229.4 861.6,229.4 861.6,237.7 859.6,237.7"/>
<polygon fill="#FF00FF" points="891.9,229.4 899.3,230.2 909.2,236.0 915.9,239.3 919.2,245.9 914.2,246.8 905.9,242.6 899.3,239.3 894.3,235.2"/>
<polygon fill="#FF00FF" points="913.4,222.8 925.8,222.8 942.3,221.1 945.7,229.4 950.6,237.7 949.0,242.6 944.0,239.3 939.0,232.7 935.7,239.3 942.3,247.6 949.0,252.6 955.6,255.9 963.9,263.3 955.6,261.7 945.7,259.2 937.4,254.2 930.8,249.2 925.8,241.0 922.5,234.3 915.9,227.7"/>
<polygon fill="#CFCFCF" points="927.4,226.1 935.7,224.4 940.7,232.7 937.4,237.7 932.4,232.7"/>
<polygon fill="#CFCFCF" points="932.4,241.0 937.4,239.3 945.7,247.6 952.3,254.2 945.7,254.2 939.0,249.2"/>
<polygon fill="#FFD817" points="940.7,196.3 949.0,194.6 958.9,197.9 965.5,201.2 975.4,199.6 980.4,202.9 975.4,209.5 965.5,211.2 958.9,216.1 953.9,222.8 958.9,226.1 965.5,229.4 975.4,227.7 978.8,232.7 975.4,239.3 968.8,242.6 963.9,239.3 958.9,234.3 953.9,229.4 949.0,226.1 945.7,219.4 944.0,209.5 939.0,202.9"/>
<polygon fill="#F7B384" points="935.7,206.2 942.3,202.9 949.0,189.7 958.9,188.0 968.8,189.7 978.8,194.6 980.4,199.6 975.4,199.6 965.5,201.2 958.9,197.9 953.9,202.9 958.9,209.5 972.1,212.8 975.4,217.8 965.5,222.8 955.6,222.8 949.0,217.8 942.3,212.8"/>
<polygon fill="#F7B384" points="967.2,242.6 973.8,237.7 978.8,241.0 975.4,249.2 968.8,250.9"/>
<polygon fill="#FF00FF" points="958.1,235.2 961.4,234.3 965.5,242.6 963.0,245.9 959.7,241.0"/>
<polygon fill="#FFD817" points="982.1,245.9 992.0,239.3 1003.6,236.0 1011.9,242.6 1006.9,252.6 995.3,259.2 985.4,262.5 982.1,255.9"/>
<polygon fill="#F7B384" points="990.3,255.9 1001.9,247.6 1013.5,245.9 1020.1,254.2 1013.5,262.5 1001.9,267.4 993.7,265.8"/>
<polygon fill="#CFCFCF" points="868.1,262.8 878.0,279.3 886.3,292.6 894.6,307.4 896.2,314.9 904.5,312.4 916.1,308.3 929.3,303.3 929.3,300.0 916.1,304.1 904.5,307.4 899.5,305.8 892.9,295.9 886.3,285.9 879.7,272.7 873.0,262.8"/>
<polygon fill="#CFCFCF" points="884.6,272.7 889.6,272.7 896.2,285.9 901.2,295.9 899.5,299.2 892.9,292.6 887.9,282.6"/>
<polygon fill="#F7B384" points="907.8,287.6 919.4,284.3 929.3,283.4 927.7,289.2 917.7,292.6 909.4,294.2"/>
<polygon fill="#F7B384" points="935.1,269.4 940.9,267.7 944.2,272.7 939.2,274.3"/>
<polygon fill="#FFFF00" points="917.7,294.2 926.0,290.9 935.9,290.1 939.2,294.2 929.3,296.7 921.0,299.2"/>
<polygon fill="#FF00FF" points="901.2,269.4 904.5,266.9 906.1,272.7 902.8,279.3 900.8,276.0"/>
<polygon fill="#CFCFCF" points="944.2,261.9 949.2,269.4 955.8,274.3 959.1,276.0 955.8,277.7 949.2,272.7 945.0,267.7"/>
<polygon fill="#E8AA3C" points="953.3,276.0 958.8,275.7 956.6,281.0 953.3,280.1"/>
<polygon fill="#CFCFCF" points="848.2,239.6 859.0,237.9 861.4,246.2 859.8,249.5 854.8,254.5 849.9,247.9"/>
<polygon fill="#00FFFF" points="985.6,265.2 989.7,264.7 990.6,269.4 987.2,270.2"/>
<polygon fill="#F7A5FA" points="993.0,269.4 1002.1,267.7 1008.8,272.7 1007.9,281.0 1000.5,279.3 995.5,276.0"/>
<polygon fill="#E8AA3C" points="1005.4,259.4 1028.6,257.0 1045.2,259.4 1068.3,262.8 1068.3,266.9 1045.2,263.6 1028.6,262.8 1012.1,266.1 1007.1,272.7"/>
</g>
<g>
<polygon fill="#FFFFFF" points="899.3,183.0 904.3,179.7 910.9,179.7 914.2,183.9 919.2,191.3 923.3,199.6 927.4,206.2 931.6,217.0 923.3,218.6 915.9,215.3 910.9,209.5 914.2,197.9 907.6,191.3 901.0,188.0"/>
<polygon fill="#FFFFFF" points="941.5,183.0 945.7,179.7 949.8,180.6 951.4,188.0 949.0,194.6 944.0,193.0 942.0,188.8"/>
<polygon fill="#00FFFF" points="942.3,192.1 949.0,194.6 952.3,197.9 947.3,197.9"/>
<polygon fill="#00FFFF" points="899.3,178.9 907.6,178.1 905.9,181.4 900.1,182.7"/>
<polygon fill="#FFFFFF" points="911.1,245.4 912.7,244.1 919.3,246.6 929.3,253.2 939.2,258.2 945.8,259.8 944.2,262.0 942.5,266.1 935.9,267.8 927.6,267.8 922.6,262.8 920.2,256.2 916.0,249.6"/>
</g>
</g>
<rect x="6" y="733" width="1436" height="155" fill="#fafafa" stroke="#dedede" stroke-width="2"/>
<rect x="695" y="745" width="30" height="15" fill="#FFAA00"/>
<text class="lg" x="733" y="758.7">akrisoli</text>
<rect x="695" y="772" width="30" height="16" fill="#FFEBBE"/>
<text class="lg" x="733" y="785.6">albeluvisoli</text>
<rect x="695" y="800" width="30" height="15" fill="#9C9C9C"/>
<text class="lg" x="733" y="812.8">andosoli</text>
<rect x="695" y="827" width="30" height="15" fill="#66638C"/>
<text class="lg" x="733" y="840.1">antrosoli</text>
<rect x="695" y="854" width="30" height="16" fill="#F7B384"/>
<text class="lg" x="733" y="867.5">arenosoli</text>
<rect x="825" y="745" width="30" height="15" fill="#FFD817"/>
<text class="lg" x="863.5" y="758.7">kalcijsoli</text>
<rect x="825" y="772" width="30" height="16" fill="#E8AA3C"/>
<text class="lg" x="863.5" y="785.6">kambisoli</text>
<rect x="825" y="800" width="30" height="15" fill="#735A41"/>
<text class="lg" x="863.5" y="812.8">černozemi</text>
<rect x="825" y="827" width="30" height="15" fill="#C2FFC2"/>
<text class="lg" x="863.5" y="840.1">kriosoli</text>
<rect x="825" y="854" width="30" height="16" fill="#FCDFA7"/>
<text class="lg" x="863.5" y="867.5">durisoli</text>
<rect x="951" y="745" width="30" height="15" fill="#D90000"/>
<text class="lg" x="990.7" y="758.7">feralsoli</text>
<rect x="951" y="772" width="30" height="16" fill="#00FFFF"/>
<text class="lg" x="990.7" y="785.6">fluvisoli</text>
<rect x="951" y="800" width="30" height="15" fill="#007FFF"/>
<text class="lg" x="990.7" y="812.8">glejsoli</text>
<rect x="951" y="827" width="30" height="15" fill="#FFFF00"/>
<text class="lg" x="990.7" y="840.1">gipsisoli</text>
<rect x="951" y="854" width="30" height="16" fill="#9999DC"/>
<text class="lg" x="990.7" y="867.5">histosoli</text>
<rect x="1061" y="745" width="30" height="15" fill="#CC8040"/>
<text class="lg" x="1099.2" y="758.7">kastanozemi</text>
<rect x="1061" y="772" width="30" height="16" fill="#CFCFCF"/>
<text class="lg" x="1099.2" y="785.6">leptosoli</text>
<rect x="1061" y="800" width="30" height="15" fill="#FF7378"/>
<text class="lg" x="1099.2" y="812.8">liksisoli</text>
<rect x="1061" y="827" width="30" height="15" fill="#FFA3A3"/>
<text class="lg" x="1099.2" y="840.1">luvisoli</text>
<rect x="1061" y="854" width="30" height="16" fill="#5C0000"/>
<text class="lg" x="1099.2" y="867.5">nitisoli</text>
<rect x="1203" y="745" width="30" height="15" fill="#E8914A"/>
<text class="lg" x="1242.7" y="758.7">feozemi</text>
<rect x="1203" y="772" width="30" height="16" fill="#007F00"/>
<text class="lg" x="1242.7" y="785.6">planosoli</text>
<rect x="1203" y="800" width="30" height="15" fill="#8FA82E"/>
<text class="lg" x="1242.7" y="812.8">plintosoli</text>
<rect x="1203" y="827" width="30" height="15" fill="#7FFF7F"/>
<text class="lg" x="1242.7" y="840.1">podzoli</text>
<rect x="1203" y="854" width="30" height="16" fill="#FFF06E"/>
<text class="lg" x="1242.7" y="867.5">regosoli</text>
<rect x="1318" y="745" width="30" height="15" fill="#FF00FF"/>
<text class="lg" x="1356.3" y="758.7">solončaki</text>
<rect x="1318" y="772" width="30" height="16" fill="#735555"/>
<text class="lg" x="1356.3" y="785.6">umbrisoli</text>
<rect x="1318" y="800" width="30" height="15" fill="#F7A5FA"/>
<text class="lg" x="1356.3" y="812.8">vertisoli</text>
<rect x="1318" y="827" width="30" height="15" fill="#E2E2FA"/>
<text class="lg" x="1356.3" y="840.1">ledeniki</text>
<rect x="1318" y="854" width="30" height="16" fill="#FFFFFF"/>
<text class="lg" x="1356.3" y="867.5">vodovje</text>
<text class="t" x="13.6" y="769" textLength="265" lengthAdjust="spacingAndGlyphs">Prsti po FAO WRB</text>
<text class="k" x="15.2" y="857" textLength="239" lengthAdjust="spacing">Kartografija: Gašper Šubelj, 2008</text>
<text class="k" x="15.2" y="875" textLength="102" lengthAdjust="spacing">Vir: FAO, 1999</text>
<g shape-rendering="geometricPrecision" fill="none"><path d="M487.2 750.8 L472.5 793.8" stroke="#e2e2e2" stroke-width="1"/><path d="M487.2 750.8 L502.4 795.2 L487.2 789.7" stroke="#9a9a9a" stroke-width="1"/><path d="M487.2 789.9 L474.5 794.6" stroke="#9a9a9a" stroke-width="1.6"/></g>
<text class="g" x="488.4" y="813" text-anchor="middle">N</text>
<text class="g" x="493" y="846.5" text-anchor="middle">5.000 km</text>
<rect x="371.8" y="856" width="212.6" height="15.5" fill="#f4f4f4" stroke="#999" stroke-width="1.6"/>
</svg></body></html>
